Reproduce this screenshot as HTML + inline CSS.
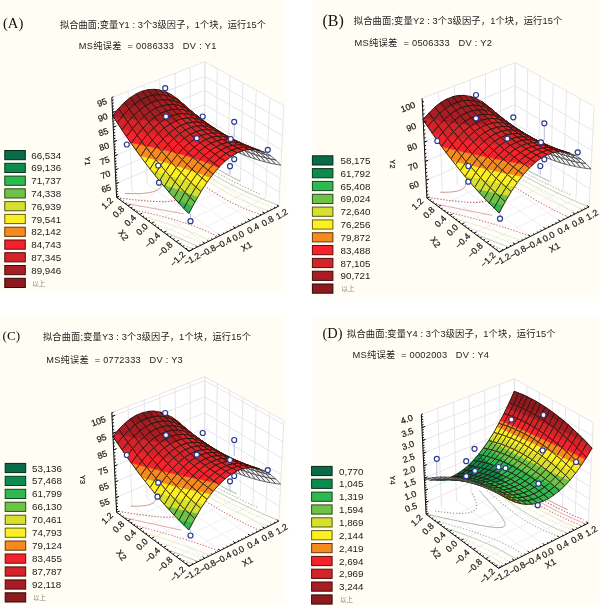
<!DOCTYPE html>
<html lang="zh"><head><meta charset="utf-8"><title>拟合曲面</title><style>
html,body{margin:0;padding:0;background:#fff}
#fig{position:relative;width:600px;height:605px;overflow:hidden;background:#fff;font-family:"Liberation Sans","Noto Sans CJK SC",sans-serif}
svg{position:absolute;left:0;top:0}
.wl{fill:#fff;stroke:none}
.gr{fill:none;stroke:#e2e2ea;stroke-width:.9}
.gf{fill:none;stroke:#ececf2;stroke-width:.8}
.ax{fill:none;stroke:#111;stroke-width:1}
.tk text{font-size:8.8px;fill:#1a1a1a;stroke:#1a1a1a;stroke-width:.22}
.sf path{stroke-linejoin:round}
.m{stroke:#24140c;stroke-width:.85}
.n{stroke-width:.8}
.o{fill:none;stroke:#24140c;stroke-width:.85}
.k{fill:#f4f4f4;stroke:#2e2e2e;stroke-width:.7}
.cs{fill:none;stroke-width:.9}
.cd{fill:none;stroke-width:1.1;stroke-dasharray:1.3 1.7}
.pt circle{fill:#fff;stroke:#2b3a8c;stroke-width:1.2}
.st{fill:none;stroke:#9aa0c8;stroke-width:.7}
.lg text{font-size:9.8px;fill:#1a1a1a}
.lg rect{stroke-width:1}
.lg .ab{font-size:6.5px;fill:#8a8a78}
.ttl{fill:#222}
.pl{font-family:"Liberation Serif","Noto Serif CJK SC",serif;fill:#111}
.c0{fill:#096b47}.n.c0{stroke:#096b47}
.c1{fill:#0d8a4d}.n.c1{stroke:#0d8a4d}
.c2{fill:#2fb850}.n.c2{stroke:#2fb850}
.c3{fill:#6ec248}.n.c3{stroke:#6ec248}
.c4{fill:#d6e02f}.n.c4{stroke:#d6e02f}
.c5{fill:#fdf022}.n.c5{stroke:#fdf022}
.c6{fill:#f58a1f}.n.c6{stroke:#f58a1f}
.c7{fill:#f5222b}.n.c7{stroke:#f5222b}
.c8{fill:#d3232b}.n.c8{stroke:#d3232b}
.c9{fill:#a81d23}.n.c9{stroke:#a81d23}
.c10{fill:#8c1a1e}.n.c10{stroke:#8c1a1e}
</style></head><body><div id="fig">
<svg width="600" height="605" viewBox="0 0 600 605">
<defs><filter id="bl" x="-5%" y="-5%" width="110%" height="110%"><feGaussianBlur stdDeviation="2.5"/></filter></defs><g fill="#fffdf4" filter="url(#bl)"><rect x="-9" y="-9" width="295" height="302"/><rect x="312" y="-9" width="297" height="306"/><rect x="-9" y="314" width="295" height="300"/><rect x="312" y="317" width="297" height="297"/></g>
<g class="lg"><rect x="4.8" y="150.5" width="20.5" height="9.2" fill="#096b47" stroke="#042a1b"/><text x="31.2" y="158.6">66,534</text><rect x="4.8" y="163.3" width="20.5" height="9.2" fill="#0d8a4d" stroke="#06371d"/><text x="31.2" y="171.4">69,136</text><rect x="4.8" y="176.1" width="20.5" height="9.2" fill="#2fb850" stroke="#12471d"/><text x="31.2" y="184.2">71,737</text><rect x="4.8" y="188.8" width="20.5" height="9.2" fill="#6ec248" stroke="#2b4d1a"/><text x="31.2" y="196.9">74,338</text><rect x="4.8" y="201.6" width="20.5" height="9.2" fill="#d6e02f" stroke="#555a13"/><text x="31.2" y="209.7">76,939</text><rect x="4.8" y="214.4" width="20.5" height="9.2" fill="#fdf022" stroke="#665f0b"/><text x="31.2" y="222.5">79,541</text><rect x="4.8" y="227.2" width="20.5" height="9.2" fill="#f58a1f" stroke="#633b0b"/><text x="31.2" y="235.3">82,142</text><rect x="4.8" y="240" width="20.5" height="9.2" fill="#f5222b" stroke="#5f0b0e"/><text x="31.2" y="248.1">84,743</text><rect x="4.8" y="252.7" width="20.5" height="9.2" fill="#d3232b" stroke="#510d0f"/><text x="31.2" y="260.8">87,345</text><rect x="4.8" y="265.5" width="20.5" height="9.2" fill="#a81d23" stroke="#400b0d"/><text x="31.2" y="273.6">89,946</text><rect x="4.8" y="278.3" width="20.5" height="9.2" fill="#8c1a1e" stroke="#310809"/><text class="ab" x="32.2" y="285.7">以上</text></g><g class="lg"><rect x="312.4" y="155.8" width="20.5" height="9.2" fill="#096b47" stroke="#042a1b"/><text x="340.5" y="163.9">58,175</text><rect x="312.4" y="168.6" width="20.5" height="9.2" fill="#0d8a4d" stroke="#06371d"/><text x="340.5" y="176.7">61,792</text><rect x="312.4" y="181.4" width="20.5" height="9.2" fill="#2fb850" stroke="#12471d"/><text x="340.5" y="189.5">65,408</text><rect x="312.4" y="194.3" width="20.5" height="9.2" fill="#6ec248" stroke="#2b4d1a"/><text x="340.5" y="202.4">69,024</text><rect x="312.4" y="207.1" width="20.5" height="9.2" fill="#d6e02f" stroke="#555a13"/><text x="340.5" y="215.2">72,640</text><rect x="312.4" y="219.9" width="20.5" height="9.2" fill="#fdf022" stroke="#665f0b"/><text x="340.5" y="228">76,256</text><rect x="312.4" y="232.7" width="20.5" height="9.2" fill="#f58a1f" stroke="#633b0b"/><text x="340.5" y="240.8">79,872</text><rect x="312.4" y="245.5" width="20.5" height="9.2" fill="#f5222b" stroke="#5f0b0e"/><text x="340.5" y="253.6">83,488</text><rect x="312.4" y="258.4" width="20.5" height="9.2" fill="#d3232b" stroke="#510d0f"/><text x="340.5" y="266.5">87,105</text><rect x="312.4" y="271.2" width="20.5" height="9.2" fill="#a81d23" stroke="#400b0d"/><text x="340.5" y="279.3">90,721</text><rect x="312.4" y="284" width="20.5" height="9.2" fill="#8c1a1e" stroke="#310809"/><text class="ab" x="341.5" y="291.4">以上</text></g><g class="lg"><rect x="5.2" y="463.4" width="20.5" height="9.2" fill="#096b47" stroke="#042a1b"/><text x="32" y="471.5">53,136</text><rect x="5.2" y="476.3" width="20.5" height="9.2" fill="#0d8a4d" stroke="#06371d"/><text x="32" y="484.4">57,468</text><rect x="5.2" y="489.3" width="20.5" height="9.2" fill="#2fb850" stroke="#12471d"/><text x="32" y="497.4">61,799</text><rect x="5.2" y="502.2" width="20.5" height="9.2" fill="#6ec248" stroke="#2b4d1a"/><text x="32" y="510.3">66,130</text><rect x="5.2" y="515.2" width="20.5" height="9.2" fill="#d6e02f" stroke="#555a13"/><text x="32" y="523.3">70,461</text><rect x="5.2" y="528.1" width="20.5" height="9.2" fill="#fdf022" stroke="#665f0b"/><text x="32" y="536.2">74,793</text><rect x="5.2" y="541" width="20.5" height="9.2" fill="#f58a1f" stroke="#633b0b"/><text x="32" y="549.1">79,124</text><rect x="5.2" y="554" width="20.5" height="9.2" fill="#f5222b" stroke="#5f0b0e"/><text x="32" y="562.1">83,455</text><rect x="5.2" y="566.9" width="20.5" height="9.2" fill="#d3232b" stroke="#510d0f"/><text x="32" y="575">87,787</text><rect x="5.2" y="579.9" width="20.5" height="9.2" fill="#a81d23" stroke="#400b0d"/><text x="32" y="588">92,118</text><rect x="5.2" y="592.8" width="20.5" height="9.2" fill="#8c1a1e" stroke="#310809"/><text class="ab" x="33" y="600.2">以上</text></g><g class="lg"><rect x="311.6" y="466.4" width="20.5" height="9.2" fill="#096b47" stroke="#042a1b"/><text x="339" y="474.5">0,770</text><rect x="311.6" y="479.2" width="20.5" height="9.2" fill="#0d8a4d" stroke="#06371d"/><text x="339" y="487.4">1,045</text><rect x="311.6" y="492.1" width="20.5" height="9.2" fill="#2fb850" stroke="#12471d"/><text x="339" y="500.2">1,319</text><rect x="311.6" y="504.9" width="20.5" height="9.2" fill="#6ec248" stroke="#2b4d1a"/><text x="339" y="513">1,594</text><rect x="311.6" y="517.8" width="20.5" height="9.2" fill="#d6e02f" stroke="#555a13"/><text x="339" y="525.9">1,869</text><rect x="311.6" y="530.6" width="20.5" height="9.2" fill="#fdf022" stroke="#665f0b"/><text x="339" y="538.8">2,144</text><rect x="311.6" y="543.5" width="20.5" height="9.2" fill="#f58a1f" stroke="#633b0b"/><text x="339" y="551.6">2,419</text><rect x="311.6" y="556.4" width="20.5" height="9.2" fill="#f5222b" stroke="#5f0b0e"/><text x="339" y="564.5">2,694</text><rect x="311.6" y="569.2" width="20.5" height="9.2" fill="#d3232b" stroke="#510d0f"/><text x="339" y="577.3">2,969</text><rect x="311.6" y="582" width="20.5" height="9.2" fill="#a81d23" stroke="#400b0d"/><text x="339" y="590.1">3,244</text><rect x="311.6" y="594.9" width="20.5" height="9.2" fill="#8c1a1e" stroke="#310809"/><text class="ab" x="340" y="602.3">以上</text></g><text class="pl" x="3" y="28" font-size="14.6">(A)</text><text class="ttl" x="60" y="28.3" font-size="9.2" textLength="206" lengthAdjust="spacing" xml:space="preserve">拟合曲面;变量Y1 : 3个3级因子，1个块，运行15个</text><text class="ttl" x="78.8" y="48.6" font-size="9.2" textLength="137.5" lengthAdjust="spacing" xml:space="preserve">MS纯误差  = 0086333   DV : Y1</text><text class="pl" x="322.5" y="26.2" font-size="16">(B)</text><text class="ttl" x="353.8" y="24.2" font-size="9.3" textLength="208.5" lengthAdjust="spacing" xml:space="preserve">拟合曲面;变量Y2 : 3个3级因子，1个块，运行15个</text><text class="ttl" x="354.5" y="46.3" font-size="9.3" textLength="137.5" lengthAdjust="spacing" xml:space="preserve">MS纯误差  = 0506333   DV : Y2</text><text class="pl" x="2.5" y="340" font-size="13.2">(C)</text><text class="ttl" x="43" y="340.3" font-size="9.2" textLength="208" lengthAdjust="spacing" xml:space="preserve">拟合曲面;变量Y3 : 3个3级因子，1个块，运行15个</text><text class="ttl" x="46.2" y="362.5" font-size="9.2" textLength="136.5" lengthAdjust="spacing" xml:space="preserve">MS纯误差  = 0772333   DV : Y3</text><text class="pl" x="322.5" y="338.3" font-size="14.4">(D)</text><text class="ttl" x="347" y="337.1" font-size="9.3" textLength="208.5" lengthAdjust="spacing" xml:space="preserve">拟合曲面;变量Y4 : 3个3级因子，1个块，运行15个</text><text class="ttl" x="352.5" y="358.3" font-size="9.3" textLength="136.5" lengthAdjust="spacing" xml:space="preserve">MS纯误差  = 0002003   DV : Y4</text><path class="wl" d="M116.6 197.3l87.9 -39.2 0.4 -96.3 -93.1 35.7z"/>
<path class="wl" d="M204.5 158.1l74.3 48 5 -100.6 -78.9 -43.7z"/>
<path class="wl" d="M116.6 197.3l72.4 53.9 89.8 -45.1 -74.3 -48z"/>
<path class="gr" d="M116.6 197.3l-4.8 -99.8M278.8 206.1l5 -100.6M132 190.4l-3.9 -99.2M265.7 197.6l4.1 -99.8M147 183.7l-2.9 -98.6M252.9 189.4l3.3 -99.1M161.8 177.1l-2.1 -98M240.4 181.3l2.5 -98.4M176.3 170.7l-1.2 -97.5M228.2 173.4l1.7 -97.7M190.5 164.3l-0.4 -96.8M216.2 165.7l1.1 -97M204.5 158.1l0.4 -96.3M204.5 158.1l0.4 -96.3M116 183.7l88.5 -38.7 75 47.4M115.3 169.9l89.3 -38.3 75.6 47M114.6 155.9l90 -37.8 76.3 46.4M113.9 141.7l90.8 -37.3 76.9 45.7M113.2 127.2l91.6 -36.8 77.5 45.1M112.5 112.5l92.3 -36.3 78.2 44.5M111.8 97.5l93.1 -35.7 78.9 43.7"/>
<path class="gf" d="M204.7 243.3l-72.7 -52.9M176.2 241.6l89.5 -44M220.1 235.5l-73.1 -51.8M163.7 232.3l89.2 -42.9M235.3 228l-73.5 -50.9M151.5 223.3l88.9 -42M250.1 220.5l-73.8 -49.8M139.6 214.4l88.6 -41M264.6 213.2l-74.1 -48.9M128 205.7l88.2 -40"/>
<path class="cd" stroke="#98a398" d="M209.2 161.2l-0.1 -0.1 -1.2 -0.7 -1.2 -0.8 -1.3 -0.7 -1.2 -0.7"/>
<path class="cs" stroke="#9bb098" d="M240.4 181.3l-1.5 -0.7 -2.8 -1.4 -2.8 -1.5 -2.8 -1.4 -1.3 -0.7 -2.7 -1.4 -2.7 -1.5 -2.7 -1.4 -2.6 -1.5 -2.5 -1.4 -2.6 -1.5 -1.2 -0.7 -2.5 -1.5 -2.5 -1.5 -2.4 -1.4 -2.4 -1.5 -1.2 -0.7"/>
<path class="cd" stroke="#a6b89e" d="M175.7 241.3l2.4 1 3.3 1.5 1.7 0.7 3.3 1.6 2.8 1.3 2.1 1 1.7 0.8"/>
<path class="cd" stroke="#a6b89e" d="M259.9 193.9l-2.4 -1 -3.1 -1.4 -2 -0.9 -2.6 -1.2 -3 -1.4 -3 -1.3 -1.5 -0.8 -2.9 -1.4 -2.9 -1.4 -2.8 -1.4 -1.4 -0.8 -2.8 -1.4 -2.7 -1.4 -2.7 -1.5 -2.6 -1.5 -1.4 -0.7 -2.6 -1.5 -2.5 -1.4 -2.6 -1.5 -2.5 -1.5 -2.4 -1.5 -2.5 -1.5 -2.4 -1.5 -2.4 -1.5 -2.3 -1.5"/>
<path class="cs" stroke="#bac698" d="M275.7 204.1l-2.8 -1.1 -3.2 -1.2 -1.9 -0.7 -3.4 -1.3 -1.6 -0.7 -3.3 -1.4 -3 -1.2 -1.8 -0.8 -3.1 -1.4 -2.8 -1.2 -1.8 -0.9 -3.1 -1.4 -2.9 -1.4 -1.5 -0.7 -2.9 -1.4 -2.9 -1.5 -2.8 -1.4 -1.8 -1 -2.3 -1.2 -2.7 -1.5 -2.7 -1.5 -2.6 -1.5 -2.6 -1.5 -2.6 -1.5 -2 -1.2 -1.7 -1 -2.5 -1.5 -2.4 -1.6 -2.4 -1.5 -2.4 -1.5 -2.3 -1.5 -2.4 -1.5 -1.1 -0.8"/>
<path class="cs" stroke="#bac698" d="M163 231.8l2.8 1.1 2.5 0.9 2.7 1.1 2.9 1.1 2.3 1 3.4 1.4 1.7 0.7 3.4 1.5 1.7 0.7 3.3 1.5 3.3 1.6 1.6 0.7 3.3 1.6"/>
<path class="cd" stroke="#dcdfa4" d="M274.8 208.1l-1.7 -0.6 -3.5 -1.3 -1.8 -0.7 -3.4 -1.3 -2.4 -0.9 -2.6 -1.1 -3.3 -1.3 -1.6 -0.7 -3.2 -1.4 -3.2 -1.4 -1.5 -0.7 -3.1 -1.4 -3 -1.4 -1.5 -0.7 -2.9 -1.5 -2.9 -1.4 -2.8 -1.5 -1.7 -0.9 -2.5 -1.3 -2.7 -1.5 -2.7 -1.5 -2.6 -1.5 -2.6 -1.5 -2.5 -1.6 -2.5 -1.5 -2.4 -1.5 -1.3 -0.8 -2.5 -1.6 -2.3 -1.5 -2.4 -1.6 -2.3 -1.5 -2.3 -1.6 -1.1 -0.8 -2.3 -1.5 -1.1 -0.8"/>
<path class="cd" stroke="#dcdfa4" d="M151.9 223.6l3.1 1 1.8 0.6 3.7 1.2 1.8 0.6 3.6 1.3 1.8 0.6 3.4 1.2 2 0.8 3.3 1.2 1.9 0.8 3.5 1.4 1.7 0.7 3.4 1.4 1.7 0.7 3.4 1.5 2.7 1.2 2.2 1 3.3 1.6 1.9 0.9 1.3 0.6"/>
<path class="cs" stroke="#eee8a4" d="M268.9 211.1l-1.8 -0.7 -3.5 -1.2 -1.7 -0.7 -3.5 -1.3 -1.7 -0.7 -3.3 -1.3 -2.7 -1.1 -2.2 -1 -3.2 -1.4 -2 -0.9 -2.6 -1.2 -3.1 -1.4 -2.9 -1.5 -1.5 -0.7 -2.9 -1.5 -2.8 -1.5 -2.7 -1.5 -2.7 -1.6 -1.4 -0.7 -2.6 -1.6 -2.6 -1.5 -2.5 -1.6 -2.5 -1.6 -2.5 -1.6 -2.4 -1.5 -2.4 -1.6 -2.3 -1.6 -2.3 -1.6 -2.3 -1.6 -2.2 -1.6 -2.2 -1.7 -2.2 -1.6 -1.1 -0.8 -2.1 -1.6"/>
<path class="cs" stroke="#eee8a4" d="M142 216.2l3.8 1 2 0.6 2.3 0.6 3.4 1 1.9 0.6 3.1 0.9 2.6 0.8 1.9 0.5 3.7 1.2 1.9 0.6 3.5 1.2 2 0.6 2.9 1.1 2.5 0.9 2.6 0.9 2.7 1 2.7 1.1 2.5 1 3.4 1.4 1.7 0.7 3.4 1.4 1.6 0.8 3.3 1.5 3.3 1.5 1.6 0.8 1.6 0.8"/>
<path class="cd" stroke="#dc7474" d="M261.3 214.9l-3.6 -1.3 -1.8 -0.6 -3.5 -1.3 -1.7 -0.7 -3.4 -1.3 -1.7 -0.7 -3.3 -1.4 -3.1 -1.4 -1.6 -0.7 -3 -1.5 -3 -1.5 -2.9 -1.5 -1.4 -0.7 -2.8 -1.6 -2.7 -1.6 -2.7 -1.5 -2.5 -1.7 -2.6 -1.6 -2.4 -1.6 -2.5 -1.6 -2.4 -1.7 -2.3 -1.7 -2.3 -1.6 -2.3 -1.7 -2.2 -1.7 -2.2 -1.6 -2.1 -1.7 -1.1 -0.8 -2.1 -1.7 -2.1 -1.7 -2.1 -1.7 -2 -1.6 -2.1 -1.7"/>
<path class="cd" stroke="#dc7474" d="M133.1 209.6l3.2 0.7 2.1 0.4 2 0.5 3.5 0.8 2.7 0.6 2 0.5 2.8 0.6 3.3 0.8 2 0.5 2.3 0.6 3.7 0.9 1.9 0.6 2.3 0.6 3.6 1 2 0.5 2.7 0.8 3 0.9 1.9 0.6 3.8 1.1 1.8 0.6 3.2 1.1 2.3 0.8 2.7 1 2.6 0.9 2.9 1.2 2.3 0.9 3.4 1.4 1.7 0.7 3.3 1.5 2.7 1.3 2.1 1 3.1 1.6"/>
<path class="cs" stroke="#e29c9c" d="M124.9 203.4l3.2 0.6 2.7 0.5 2.2 0.3 2.2 0.4 2.7 0.5 3.3 0.6 2.8 0.4 2.2 0.4 2.2 0.4 2.7 0.5 3.3 0.6 2.8 0.5 2.3 0.3 2.2 0.4 2.7 0.5 3.3 0.6 2.8 0.5 2.2 0.4 2.2 0.4 3 0.6 3.4 0.6 2.4 0.5"/>
<path class="cd" stroke="#b85c5c" d="M117.3 197.8l3 0.4 2.7 0.3 2.3 0.3 2.4 0.2 2.4 0.3 2.4 0.3 2.5 0.2 2.8 0.3 2.9 0.3 2.8 0.3 2.8 0.2 2.8 0.2 2.8 0.2 2.7 0.1 2.6 0.1 2.6 0.1 2.5 0 2.5 0 2.7 -0.1 3.8 -0.4 2.2 -0.3 3.5 -1.1 2.7 -1.6 1 -1.4 0.6 -1.6 0.1 -1.5 -0.1 -1.3 -0.5 -2 -0.6 -1.5 -0.5 -1.2 -1.2 -2.1 -0.6 -1.1 -1.2 -2 -0.8 -1.1 -1.4 -2 -0.7 -1 -1.5 -2 -0.7 -0.9 -1.6 -1.9"/>
<path class="cs" stroke="#c98e7e" d="M125.2 193.4l2.8 0.1 2.8 0.1 2.9 0.1 2.7 -0.1 2.3 0 2.4 -0.1 2.3 -0.2 3.8 -0.4 2.4 -0.3 2.8 -0.7 2.6 -0.8 2.9 -1.4 1.2 -0.8 1.9 -2.2 0.6 -1.2 0.4 -1.5 0.1 -1.6 -0.1 -1.5 -0.2 -1.2 -0.2 -1.2 -0.4 -1.1"/>
<g class="pt"></g>
<g class="sf"><path class="k" d="M203.8 127.7l5.2 8.4 -4.4 -3 -5.3 -8.7z"/>
<path class="k" d="M208.2 130.8l5.3 8.3 -4.5 -3 -5.2 -8.4z"/>
<path class="k" d="M212.8 133.8l5.2 8 -4.5 -2.7 -5.3 -8.3z"/>
<path class="k" d="M198.4 120.1l5.4 7.6 -4.5 -3.3 -5.4 -7.8z"/>
<path class="k" d="M217.3 136.7l5.2 7.8 -4.5 -2.7 -5.2 -8z"/>
<path class="k" d="M202.9 123.5l5.3 7.3 -4.4 -3.1 -5.4 -7.6z"/>
<path class="k" d="M221.9 139.4l5.2 7.6 -4.6 -2.5 -5.2 -7.8z"/>
<path class="k" d="M207.4 126.7l5.4 7.1 -4.6 -3 -5.3 -7.3z"/>
<path class="k" d="M192.9 113.4l5.5 6.7 -4.5 -3.5 -5.4 -6.9z"/>
<path class="k" d="M226.5 142l5.2 7.4 -4.6 -2.4 -5.2 -7.6z"/>
<path class="k" d="M212 129.8l5.3 6.9 -4.5 -2.9 -5.4 -7.1z"/>
<path class="k" d="M197.5 117l5.4 6.5 -4.5 -3.4 -5.5 -6.7z"/>
<path class="k" d="M231.2 144.5l5.2 7.1 -4.7 -2.2 -5.2 -7.4z"/>
<path class="k" d="M216.6 132.8l5.3 6.6 -4.6 -2.7 -5.3 -6.9z"/>
<path class="k" d="M202 120.5l5.4 6.2 -4.5 -3.2 -5.4 -6.5z"/>
<path class="k" d="M187.4 107.7l5.5 5.7 -4.4 -3.7 -5.6 -6z"/>
<path class="k" d="M221.3 135.6l5.2 6.4 -4.6 -2.6 -5.3 -6.6z"/>
<path class="k" d="M206.6 123.8l5.4 6 -4.6 -3.1 -5.4 -6.2z"/>
<path class="k" d="M236 146.8l5.1 6.9 -4.7 -2.1 -5.2 -7.1z"/>
<path class="k" d="M191.9 111.6l5.6 5.4 -4.6 -3.6 -5.5 -5.7z"/>
<path class="k" d="M211.2 127l5.4 5.8 -4.6 -3 -5.4 -6z"/>
<path class="k" d="M196.5 115.3l5.5 5.2 -4.5 -3.5 -5.6 -5.4z"/>
<path class="k" d="M226 138.2l5.2 6.3 -4.7 -2.5 -5.2 -6.4z"/>
<path class="n c6" d="M185.1 105.8l2.3 1.9 -4.5 -4 -1.8 -1.5z"/>
<path class="n c7" d="M181.8 103l3.3 2.8 -4 -3.6 -3.8 -3.4z"/>
<path class="o" d="M181.8 103l5.6 4.7 -4.5 -4 -5.6 -4.9z"/>
<path class="k" d="M240.7 149l5.2 6.7 -4.8 -2 -5.1 -6.9z"/>
<path class="k" d="M201.1 118.8l5.5 5 -4.6 -3.3 -5.5 -5.2z"/>
<path class="n c6" d="M189.1 109.3l2.8 2.3 -4.5 -3.9 -2.3 -1.9z"/>
<path class="n c7" d="M186.3 107.1l2.8 2.2 -4 -3.5 -3.3 -2.8z"/>
<path class="o" d="M186.3 107.1l5.6 4.5 -4.5 -3.9 -5.6 -4.7z"/>
<path class="k" d="M215.9 130.1l5.4 5.5 -4.7 -2.8 -5.4 -5.8z"/>
<path class="k" d="M230.7 140.8l5.3 6 -4.8 -2.3 -5.2 -6.3z"/>
<path class="k" d="M245.6 151l5.1 6.5 -4.8 -1.8 -5.2 -6.7z"/>
<path class="n c6" d="M193.3 112.8l3.2 2.5 -4.6 -3.7 -2.8 -2.3z"/>
<path class="n c7" d="M190.9 111l2.4 1.8 -4.2 -3.5 -2.8 -2.2z"/>
<path class="o" d="M190.9 111l5.6 4.3 -4.6 -3.7 -5.6 -4.5z"/>
<path class="n c7" d="M179.1 101.3l2.7 1.7 -4.5 -4.2 -1.8 -1.3z"/>
<path class="n c8" d="M176.1 99.3l3 2 -3.6 -3.8 -4 -2.7z"/>
<path class="o" d="M176.1 99.3l5.7 3.7 -4.5 -4.2 -5.8 -4z"/>
<path class="k" d="M205.7 122.3l5.5 4.7 -4.6 -3.2 -5.5 -5z"/>
<path class="k" d="M220.6 133l5.4 5.2 -4.7 -2.6 -5.4 -5.5z"/>
<path class="k" d="M235.5 143.2l5.2 5.8 -4.7 -2.2 -5.3 -6z"/>
<path class="k" d="M250.5 152.9l5.1 6.3 -4.9 -1.7 -5.1 -6.5z"/>
<path class="n c7" d="M182.7 104.9l3.6 2.2 -4.5 -4.1 -2.7 -1.7z"/>
<path class="n c8" d="M180.6 103.6l2.1 1.3 -3.6 -3.6 -3 -2z"/>
<path class="o" d="M180.6 103.6l5.7 3.5 -4.5 -4.1 -5.7 -3.7z"/>
<path class="n c6" d="M197.5 116.3l3.6 2.5 -4.6 -3.5 -3.2 -2.5z"/>
<path class="n c7" d="M195.5 114.9l2 1.4 -4.2 -3.5 -2.4 -1.8z"/>
<path class="o" d="M195.5 114.9l5.6 3.9 -4.6 -3.5 -5.6 -4.3z"/>
<path class="k" d="M210.4 125.6l5.5 4.5 -4.7 -3.1 -5.5 -4.7z"/>
<path class="k" d="M225.4 135.7l5.3 5.1 -4.7 -2.6 -5.4 -5.2z"/>
<path class="k" d="M240.3 145.4l5.3 5.6 -4.9 -2 -5.2 -5.8z"/>
<path class="n c8" d="M171.6 97.2l4.5 2.1 -4.6 -4.5 -2.9 -1.5z"/>
<path class="n c9" d="M170.3 96.6l1.3 0.6 -3 -3.9 -2.8 -1.4z"/>
<path class="o" d="M170.3 96.6l5.8 2.7 -4.6 -4.5 -5.7 -2.9z"/>
<path class="n c7" d="M186.5 108.6l4.4 2.4 -4.6 -3.9 -3.6 -2.2z"/>
<path class="n c8" d="M185.2 107.8l1.3 0.8 -3.8 -3.7 -2.1 -1.3z"/>
<path class="o" d="M185.2 107.8l5.7 3.2 -4.6 -3.9 -5.7 -3.5z"/>
<path class="n c6" d="M201.9 119.7l3.8 2.6 -4.6 -3.5 -3.6 -2.5z"/>
<path class="n c7" d="M200.2 118.5l1.7 1.2 -4.4 -3.4 -2 -1.4z"/>
<path class="o" d="M200.2 118.5l5.5 3.8 -4.6 -3.5 -5.6 -3.9z"/>
<path class="k" d="M255.4 154.6l5.1 6.1 -4.9 -1.5 -5.1 -6.3z"/>
<path class="k" d="M215.1 128.7l5.5 4.3 -4.7 -2.9 -5.5 -4.5z"/>
<path class="k" d="M230.2 138.4l5.3 4.8 -4.8 -2.4 -5.3 -5.1z"/>
<path class="n c8" d="M174.9 101.2l5.7 2.4 -4.5 -4.3 -4.5 -2.1 2.4 3.2z"/>
<path class="n c9" d="M171.6 97.2l-1.3 -0.6 3.7 3.8z"/>
<path class="o" d="M174.9 101.2l5.7 2.4 -4.5 -4.3 -5.8 -2.7z"/>
<path class="n c7" d="M190.3 112.1l5.2 2.8 -4.6 -3.9 -4.4 -2.4z"/>
<path class="n c8" d="M189.9 111.9l0.4 0.2 -3.8 -3.5 -1.3 -0.8z"/>
<path class="o" d="M189.9 111.9l5.6 3 -4.6 -3.9 -5.7 -3.2z"/>
<path class="k" d="M245.2 147.5l5.3 5.4 -4.9 -1.9 -5.3 -5.6z"/>
<path class="n c6" d="M206.4 123l4 2.6 -4.7 -3.3 -3.8 -2.6z"/>
<path class="n c7" d="M204.9 122.1l1.5 0.9 -4.5 -3.3 -1.7 -1.2z"/>
<path class="o" d="M204.9 122.1l5.5 3.5 -4.7 -3.3 -5.5 -3.8z"/>
<path class="m c9" d="M164.5 95.1l5.8 1.5 -4.5 -4.7 -5.9 -1.9z"/>
<path class="k" d="M219.9 131.7l5.5 4 -4.8 -2.7 -5.5 -4.3z"/>
<path class="k" d="M260.4 156.2l5.1 5.8 -5 -1.3 -5.1 -6.1z"/>
<path class="m c8" d="M179.5 105.7l5.7 2.1 -4.6 -4.2 -5.7 -2.4z"/>
<path class="n c7" d="M194.5 115.8l5.7 2.7 -4.7 -3.6 -5.2 -2.8 2.2 2.1z"/>
<path class="n c8" d="M190.3 112.1l-0.4 -0.2 2.6 2.3z"/>
<path class="o" d="M194.5 115.8l5.7 2.7 -4.7 -3.6 -5.6 -3z"/>
<path class="k" d="M235 140.8l5.3 4.6 -4.8 -2.2 -5.3 -4.8z"/>
<path class="n c6" d="M211 126.3l4.1 2.4 -4.7 -3.1 -4 -2.6z"/>
<path class="n c7" d="M209.6 125.4l1.4 0.9 -4.6 -3.3 -1.5 -0.9z"/>
<path class="o" d="M209.6 125.4l5.5 3.3 -4.7 -3.1 -5.5 -3.5z"/>
<path class="n c8" d="M174.5 101.2l0.4 0 -0.9 -0.8z"/>
<path class="n c9" d="M169.1 99.9l5.4 1.3 -0.5 -0.8 -3.7 -3.8 -5.8 -1.5z"/>
<path class="o" d="M169.1 99.9l5.8 1.3 -4.6 -4.6 -5.8 -1.5z"/>
<path class="k" d="M250.2 149.5l5.2 5.1 -4.9 -1.7 -5.3 -5.4z"/>
<path class="m c8" d="M184.1 110l5.8 1.9 -4.7 -4.1 -5.7 -2.1z"/>
<path class="k" d="M224.7 134.6l5.5 3.8 -4.8 -2.7 -5.5 -4z"/>
<path class="m c7" d="M199.2 119.6l5.7 2.5 -4.7 -3.6 -5.7 -2.7z"/>
<path class="n c9" d="M160.1 94.7l4.4 0.4 -4.6 -5.1 -0.6 0z"/>
<path class="n c10" d="M158.6 94.6l1.5 0.1 -0.8 -4.7 -5.2 -0.7z"/>
<path class="o" d="M158.6 94.6l5.9 0.5 -4.6 -5.1 -5.8 -0.7z"/>
<path class="k" d="M265.5 157.6l5 5.7 -5 -1.3 -5.1 -5.8z"/>
<path class="k" d="M239.9 143.2l5.3 4.3 -4.9 -2.1 -5.3 -4.6z"/>
<path class="n c8" d="M176.9 105.2l2.6 0.5 -4.6 -4.5 -0.4 0z"/>
<path class="n c9" d="M173.7 104.6l3.2 0.6 -2.4 -4 -5.4 -1.3z"/>
<path class="o" d="M173.7 104.6l5.8 1.1 -4.6 -4.5 -5.8 -1.3z"/>
<path class="n c6" d="M215.9 129.5l4 2.2 -4.8 -3 -4.1 -2.4z"/>
<path class="n c7" d="M214.4 128.7l1.5 0.8 -4.9 -3.2 -1.4 -0.9z"/>
<path class="o" d="M214.4 128.7l5.5 3 -4.8 -3 -5.5 -3.3z"/>
<path class="n c7" d="M194.1 115.7l0.4 0.1 -2 -1.6z"/>
<path class="n c8" d="M188.8 114.2l5.3 1.5 -1.6 -1.5 -2.6 -2.3 -5.8 -1.9z"/>
<path class="o" d="M188.8 114.2l5.7 1.6 -4.6 -3.9 -5.8 -1.9z"/>
<path class="k" d="M255.2 151.3l5.2 4.9 -5 -1.6 -5.2 -5.1z"/>
<path class="n c9" d="M163.2 99.7l5.9 0.2 -4.6 -4.8 -4.4 -0.4 0.2 1.7z"/>
<path class="n c10" d="M160.1 94.7l-1.5 -0.1 1.7 1.8z"/>
<path class="o" d="M163.2 99.7l5.9 0.2 -4.6 -4.8 -5.9 -0.5z"/>
<path class="k" d="M229.6 137.3l5.4 3.5 -4.8 -2.4 -5.5 -3.8z"/>
<path class="m c7" d="M203.9 123.3l5.7 2.1 -4.7 -3.3 -5.7 -2.5z"/>
<path class="n c8" d="M179.2 109.4l4.9 0.6 -4.6 -4.3 -2.6 -0.5z"/>
<path class="n c9" d="M178.3 109.2l0.9 0.2 -2.3 -4.2 -3.2 -0.6z"/>
<path class="o" d="M178.3 109.2l5.8 0.8 -4.6 -4.3 -5.8 -1.1z"/>
<path class="m c10" d="M152.7 95.2l5.9 -0.6 -4.5 -5.3 -5.9 0.3z"/>
<path class="k" d="M270.6 158.9l5.1 5.4 -5.2 -1 -5 -5.7z"/>
<path class="k" d="M244.9 145.3l5.3 4.2 -5 -2 -5.3 -4.3z"/>
<path class="n c6" d="M220.9 132.6l3.8 2 -4.8 -2.9 -4 -2.2z"/>
<path class="n c7" d="M219.2 131.8l1.7 0.8 -5 -3.1 -1.5 -0.8z"/>
<path class="o" d="M219.2 131.8l5.5 2.8 -4.8 -2.9 -5.5 -3z"/>
<path class="n c7" d="M197.8 119.3l1.4 0.3 -4.7 -3.8 -0.4 -0.1z"/>
<path class="n c8" d="M193.5 118.2l4.3 1.1 -3.7 -3.6 -5.3 -1.5z"/>
<path class="o" d="M193.5 118.2l5.7 1.4 -4.7 -3.8 -5.7 -1.6z"/>
<path class="m c9" d="M167.9 104.7l5.8 -0.1 -4.6 -4.7 -5.9 -0.2z"/>
<path class="n c9" d="M158.1 100.5l5.1 -0.8 -2.9 -3.3z"/>
<path class="n c10" d="M157.3 100.6l0.8 -0.1 2.2 -4.1 -1.7 -1.8 -5.9 0.6z"/>
<path class="o" d="M157.3 100.6l5.9 -0.9 -4.6 -5.1 -5.9 0.6z"/>
<path class="n c8" d="M183 113.7l5.8 0.5 -4.7 -4.2 -4.9 -0.6 0.9 1.5z"/>
<path class="n c9" d="M179.2 109.4l-0.9 -0.2 1.8 1.7z"/>
<path class="o" d="M183 113.7l5.8 0.5 -4.7 -4.2 -5.8 -0.8z"/>
<path class="m c7" d="M208.7 126.8l5.7 1.9 -4.8 -3.3 -5.7 -2.1z"/>
<path class="k" d="M234.5 139.8l5.4 3.4 -4.9 -2.4 -5.4 -3.5z"/>
<path class="k" d="M260.3 152.9l5.2 4.7 -5.1 -1.4 -5.2 -4.9z"/>
<path class="m c10" d="M146.8 96.9l5.9 -1.7 -4.5 -5.6 -6 1.5z"/>
<path class="m c9" d="M172.5 109.5l5.8 -0.3 -4.6 -4.6 -5.8 0.1z"/>
<path class="n c7" d="M201.7 122.8l2.2 0.5 -4.7 -3.7 -1.4 -0.3z"/>
<path class="n c8" d="M198.2 122.1l3.5 0.7 -3.9 -3.5 -4.3 -1.1z"/>
<path class="o" d="M198.2 122.1l5.7 1.2 -4.7 -3.7 -5.7 -1.4z"/>
<path class="n c6" d="M226.1 135.7l3.5 1.6 -4.9 -2.7 -3.8 -2z"/>
<path class="n c7" d="M224 134.7l2.1 1 -5.2 -3.1 -1.7 -0.8z"/>
<path class="o" d="M224 134.7l5.6 2.6 -4.9 -2.7 -5.5 -2.8z"/>
<path class="k" d="M249.9 147.4l5.3 3.9 -5 -1.8 -5.3 -4.2z"/>
<path class="n c9" d="M162 105.9l5.9 -1.2 -4.7 -5 -5.1 0.8 -0.4 0.5z"/>
<path class="n c10" d="M158.1 100.5l-0.8 0.1 0.4 0.4z"/>
<path class="o" d="M162 105.9l5.9 -1.2 -4.7 -5 -5.9 0.9z"/>
<path class="k" d="M275.8 160l5 5.2 -5.1 -0.9 -5.1 -5.4z"/>
<path class="m c8" d="M187.7 118l5.8 0.2 -4.7 -4 -5.8 -0.5z"/>
<path class="m c10" d="M151.4 102.6l5.9 -2 -4.6 -5.4 -5.9 1.7z"/>
<path class="m c7" d="M213.5 130.1l5.7 1.7 -4.8 -3.1 -5.7 -1.9z"/>
<path class="k" d="M239.4 142.2l5.5 3.1 -5 -2.1 -5.4 -3.4z"/>
<path class="m c10" d="M140.9 99.8l5.9 -2.9 -4.6 -5.8 -5.9 2.6z"/>
<path class="n c8" d="M180.2 113.9l2.8 -0.2 -2.9 -2.8z"/>
<path class="n c9" d="M177.2 114.2l3 -0.3 -0.1 -3 -1.8 -1.7 -5.8 0.3z"/>
<path class="o" d="M177.2 114.2l5.8 -0.5 -4.7 -4.5 -5.8 0.3z"/>
<path class="k" d="M265.4 154.4l5.2 4.5 -5.1 -1.3 -5.2 -4.7z"/>
<path class="n c7" d="M205.7 126.3l3 0.5 -4.8 -3.5 -2.2 -0.5z"/>
<path class="n c8" d="M203 125.9l2.7 0.4 -4 -3.5 -3.5 -0.7z"/>
<path class="o" d="M203 125.9l5.7 0.9 -4.8 -3.5 -5.7 -1.2z"/>
<path class="m c9" d="M166.6 111l5.9 -1.5 -4.6 -4.8 -5.9 1.2z"/>
<path class="n c6" d="M231.6 138.7l2.9 1.1 -4.9 -2.5 -3.5 -1.6z"/>
<path class="n c7" d="M228.9 137.6l2.7 1.1 -5.5 -3 -2.1 -1z"/>
<path class="o" d="M228.9 137.6l5.6 2.2 -4.9 -2.5 -5.6 -2.6z"/>
<path class="n c9" d="M156.1 108.1l5.9 -2.2 -4.3 -4.9 -5.3 2.8z"/>
<path class="n c10" d="M157.7 101l-0.4 -0.4 -5.9 2 1 1.2z"/>
<path class="o" d="M156.1 108.1l5.9 -2.2 -4.7 -5.3 -5.9 2z"/>
<path class="m c8" d="M192.5 122.1l5.7 0 -4.7 -3.9 -5.8 -0.2z"/>
<path class="n c9" d="M145.5 105.8l2.2 -1.2 -2.7 0.5z"/>
<path class="n c10" d="M147.7 104.6l3.7 -2 -4.6 -5.7 -5.9 2.9 4.1 5.3z"/>
<path class="o" d="M145.5 105.8l5.9 -3.2 -4.6 -5.7 -5.9 2.9z"/>
<path class="k" d="M254.9 149.2l5.4 3.7 -5.1 -1.6 -5.3 -3.9z"/>
<path class="m c10" d="M135 103.9l5.9 -4.1 -4.6 -6.1 -5.9 3.8z"/>
<path class="n c8" d="M181.9 118.8l5.8 -0.8 -4.7 -4.3 -2.8 0.2 -0.2 3.1z"/>
<path class="n c9" d="M180.2 113.9l-3 0.3 2.8 2.8z"/>
<path class="o" d="M181.9 118.8l5.8 -0.8 -4.7 -4.3 -5.8 0.5z"/>
<path class="m c7" d="M218.4 133.3l5.6 1.4 -4.8 -2.9 -5.7 -1.7z"/>
<path class="m c9" d="M171.3 115.9l5.9 -1.7 -4.7 -4.7 -5.9 1.5z"/>
<path class="k" d="M244.4 144.5l5.5 2.9 -5 -2.1 -5.5 -3.1z"/>
<path class="n c7" d="M209.8 129.7l3.7 0.4 -4.8 -3.3 -3 -0.5z"/>
<path class="n c8" d="M207.8 129.5l2 0.2 -4.1 -3.4 -2.7 -0.4z"/>
<path class="o" d="M207.8 129.5l5.7 0.6 -4.8 -3.3 -5.7 -0.9z"/>
<path class="m c9" d="M160.7 113.5l5.9 -2.5 -4.6 -5.1 -5.9 2.2z"/>
<path class="n c9" d="M150.1 111.6l6 -3.5 -3.7 -4.3 -4.7 0.8 -2.2 1.2z"/>
<path class="n c10" d="M152.4 103.8l-1 -1.2 -3.7 2z"/>
<path class="o" d="M150.1 111.6l6 -3.5 -4.7 -5.5 -5.9 3.2z"/>
<path class="n c9" d="M129 109l4 -3.4 -6.4 0z"/>
<path class="n c10" d="M133 105.6l2 -1.7 -4.6 -6.4 -6 4.9 2.2 3.2z"/>
<path class="o" d="M129 109l6 -5.1 -4.6 -6.4 -6 4.9z"/>
<path class="n c9" d="M139.6 110.1l5.9 -4.3 -0.5 -0.7 -8.7 0.6z"/>
<path class="n c10" d="M145 105.1l-4.1 -5.3 -5.9 4.1 1.3 1.8z"/>
<path class="o" d="M139.6 110.1l5.9 -4.3 -4.6 -6 -5.9 4.1z"/>
<path class="k" d="M270.6 155.7l5.2 4.3 -5.2 -1.1 -5.2 -4.5z"/>
<path class="m c8" d="M197.2 126.1l5.8 -0.2 -4.8 -3.8 -5.7 0z"/>
<path class="n c6" d="M237.4 141.5l2 0.7 -4.9 -2.4 -2.9 -1.1z"/>
<path class="n c7" d="M233.9 140.2l3.5 1.3 -5.8 -2.8 -2.7 -1.1z"/>
<path class="o" d="M233.9 140.2l5.5 2 -4.9 -2.4 -5.6 -2.2z"/>
<path class="m c8" d="M186.6 123.2l5.9 -1.1 -4.8 -4.1 -5.8 0.8z"/>
<path class="n c9" d="M123.1 115.4l5.9 -6.4 -2.4 -3.4 -4.9 -0.3 -3.2 3.2z"/>
<path class="n c10" d="M126.6 105.6l-2.2 -3.2 -2.7 2.9z"/>
<path class="o" d="M123.1 115.4l5.9 -6.4 -4.6 -6.6 -5.9 6.1z"/>
<path class="n c8" d="M176 120.8l5.9 -2 -1.9 -1.8 -4.8 3z"/>
<path class="n c9" d="M180 117l-2.8 -2.8 -5.9 1.7 3.9 4.1z"/>
<path class="o" d="M176 120.8l5.9 -2 -4.7 -4.6 -5.9 1.7z"/>
<path class="n c9" d="M133.7 115.5l5.9 -5.4 -3.3 -4.4 -3.3 -0.1 -4 3.4z"/>
<path class="n c10" d="M136.3 105.7l-1.3 -1.8 -2 1.7z"/>
<path class="o" d="M133.7 115.5l5.9 -5.4 -4.6 -6.2 -6 5.1z"/>
<path class="m c7" d="M223.3 136.4l5.6 1.2 -4.9 -2.9 -5.6 -1.4z"/>
<path class="k" d="M260.1 151l5.3 3.4 -5.1 -1.5 -5.4 -3.7z"/>
<path class="m c9" d="M165.4 118.8l5.9 -2.9 -4.7 -4.9 -5.9 2.5z"/>
<path class="m c9" d="M144.2 116.2l5.9 -4.6 -4.6 -5.8 -5.9 4.3z"/>
<path class="m c9" d="M154.8 117.2l5.9 -3.7 -4.6 -5.4 -6 3.5z"/>
<path class="n c8" d="M117.3 122.8l4.1 -5.2 -8 -0.8z"/>
<path class="n c9" d="M121.4 117.6l1.7 -2.2 -4.6 -6.9 -5.8 7.1 0.7 1.2z"/>
<path class="o" d="M117.3 122.8l5.8 -7.4 -4.6 -6.9 -5.8 7.1z"/>
<path class="n c7" d="M214.1 133.1l4.3 0.2 -4.9 -3.2 -3.7 -0.4z"/>
<path class="n c8" d="M212.7 133l1.4 0.1 -4.3 -3.4 -2 -0.2z"/>
<path class="o" d="M212.7 133l5.7 0.3 -4.9 -3.2 -5.7 -0.6z"/>
<path class="n c8" d="M127.8 122.1l3.1 -3.4 -5.8 -0.6z"/>
<path class="n c9" d="M130.9 118.7l2.8 -3.2 -4.7 -6.5 -5.9 6.4 2 2.7z"/>
<path class="o" d="M127.8 122.1l5.9 -6.6 -4.7 -6.5 -5.9 6.4z"/>
<path class="k" d="M249.5 146.6l5.4 2.6 -5 -1.8 -5.5 -2.9z"/>
<path class="m c8" d="M202 130l5.8 -0.5 -4.8 -3.6 -5.8 0.2z"/>
<path class="n c8" d="M138.3 121.9l2.3 -2.3 -4.1 -0.2z"/>
<path class="n c9" d="M140.6 119.6l3.6 -3.4 -4.6 -6.1 -5.9 5.4 2.8 3.9z"/>
<path class="o" d="M138.3 121.9l5.9 -5.7 -4.6 -6.1 -5.9 5.4z"/>
<path class="n c7" d="M121.9 129.8l0.2 -0.3 -0.4 0z"/>
<path class="n c8" d="M122.1 129.5l5.7 -7.4 -2.7 -4 -3.7 -0.5 -4.1 5.2 4.4 6.7z"/>
<path class="n c9" d="M125.1 118.1l-2 -2.7 -1.7 2.2z"/>
<path class="o" d="M121.9 129.8l5.9 -7.7 -4.7 -6.7 -5.8 7.4z"/>
<path class="m c8" d="M191.4 127.5l5.8 -1.4 -4.7 -4 -5.9 1.1z"/>
<path class="n c8" d="M148.9 122.1l2 -1.6 -3.4 -0.1z"/>
<path class="n c9" d="M150.9 120.5l3.9 -3.3 -4.7 -5.6 -5.9 4.6 3.3 4.2z"/>
<path class="o" d="M148.9 122.1l5.9 -4.9 -4.7 -5.6 -5.9 4.6z"/>
<path class="n c6" d="M243.6 144.2l0.8 0.3 -5 -2.3 -2 -0.7z"/>
<path class="n c7" d="M238.9 142.7l4.7 1.5 -6.2 -2.7 -3.5 -1.3z"/>
<path class="o" d="M238.9 142.7l5.5 1.8 -5 -2.3 -5.5 -2z"/>
<path class="m c8" d="M180.8 125.5l5.8 -2.3 -4.7 -4.4 -5.9 2z"/>
<path class="n c8" d="M159.5 122.8l2.7 -1.9 -4.2 0.1z"/>
<path class="n c9" d="M162.2 120.9l3.2 -2.1 -4.7 -5.3 -5.9 3.7 3.2 3.8z"/>
<path class="o" d="M159.5 122.8l5.9 -4 -4.7 -5.3 -5.9 3.7z"/>
<path class="n c8" d="M170.1 123.9l5.9 -3.1 -0.8 -0.8 -7.7 1z"/>
<path class="n c9" d="M175.2 120l-3.9 -4.1 -5.9 2.9 2.1 2.2z"/>
<path class="o" d="M170.1 123.9l5.9 -3.1 -4.7 -4.9 -5.9 2.9z"/>
<path class="n c8" d="M132.4 128.7l5.9 -6.8 -1.8 -2.5 -5.6 -0.7 -3.1 3.4z"/>
<path class="n c9" d="M136.5 119.4l-2.8 -3.9 -2.8 3.2z"/>
<path class="o" d="M132.4 128.7l5.9 -6.8 -4.6 -6.4 -5.9 6.6z"/>
<path class="m c7" d="M228.2 139.3l5.7 0.9 -5 -2.6 -5.6 -1.2z"/>
<path class="n c7" d="M126.5 136.7l4.3 -5.8 -8.7 -1.4 -0.2 0.3z"/>
<path class="n c8" d="M130.8 130.9l1.6 -2.2 -4.6 -6.6 -5.7 7.4z"/>
<path class="o" d="M126.5 136.7l5.9 -8 -4.6 -6.6 -5.9 7.7z"/>
<path class="n c8" d="M143 128.1l5.9 -6 -1.4 -1.7 -6.9 -0.8 -2.3 2.3z"/>
<path class="n c9" d="M147.5 120.4l-3.3 -4.2 -3.6 3.4z"/>
<path class="o" d="M143 128.1l5.9 -6 -4.7 -5.9 -5.9 5.7z"/>
<path class="k" d="M265.2 152.5l5.4 3.2 -5.2 -1.3 -5.3 -3.4z"/>
<path class="n c7" d="M218.6 136.3l4.7 0.1 -4.9 -3.1 -4.3 -0.2z"/>
<path class="n c8" d="M217.6 136.3l1 0 -4.5 -3.2 -1.4 -0.1z"/>
<path class="o" d="M217.6 136.3l5.7 0.1 -4.9 -3.1 -5.7 -0.3z"/>
<path class="n c8" d="M153.6 127.9l5.9 -5.1 -1.5 -1.8 -7.1 -0.5 -2 1.6z"/>
<path class="n c9" d="M158 121l-3.2 -3.8 -3.9 3.3z"/>
<path class="o" d="M153.6 127.9l5.9 -5.1 -4.7 -5.6 -5.9 4.9z"/>
<path class="m c8" d="M206.9 133.7l5.8 -0.7 -4.9 -3.5 -5.8 0.5z"/>
<path class="n c8" d="M164.2 128.1l5.9 -4.2 -2.6 -2.9 -5.3 -0.1 -2.7 1.9z"/>
<path class="n c9" d="M167.5 121l-2.1 -2.2 -3.2 2.1z"/>
<path class="o" d="M164.2 128.1l5.9 -4.2 -4.7 -5.1 -5.9 4z"/>
<path class="n c7" d="M137.1 135.2l2.4 -2.9 -5.1 -0.8z"/>
<path class="n c8" d="M139.5 132.3l3.5 -4.2 -4.7 -6.2 -5.9 6.8 2 2.8z"/>
<path class="o" d="M137.1 135.2l5.9 -7.1 -4.7 -6.2 -5.9 6.8z"/>
<path class="m c8" d="M196.2 131.7l5.8 -1.7 -4.8 -3.9 -5.8 1.4z"/>
<path class="m c8" d="M174.9 128.8l5.9 -3.3 -4.8 -4.7 -5.9 3.1z"/>
<path class="m c8" d="M185.5 130l5.9 -2.5 -4.8 -4.3 -5.8 2.3z"/>
<path class="k" d="M254.6 148.6l5.5 2.4 -5.2 -1.8 -5.4 -2.6z"/>
<path class="n c6" d="M131.2 143.4l0.6 -0.7 -1.3 -0.3z"/>
<path class="n c7" d="M131.8 142.7l5.3 -7.5 -2.7 -3.7 -3.6 -0.6 -4.3 5.8 4 5.7z"/>
<path class="n c8" d="M134.4 131.5l-2 -2.8 -1.6 2.2z"/>
<path class="o" d="M131.2 143.4l5.9 -8.2 -4.7 -6.5 -5.9 8z"/>
<path class="n c7" d="M147.6 134.1l0.4 -0.3 -0.7 -0.1z"/>
<path class="n c8" d="M148 133.8l5.6 -5.9 -4.7 -5.8 -5.9 6 4.3 5.6z"/>
<path class="o" d="M147.6 134.1l6 -6.2 -4.7 -5.8 -5.9 6z"/>
<path class="n c6" d="M247.4 145.7l-3 -1.2 -0.8 -0.3z"/>
<path class="n c7" d="M243.9 145.1l5.6 1.5 -2.1 -0.9 -3.8 -1.5 -4.7 -1.5z"/>
<path class="o" d="M243.9 145.1l5.6 1.5 -5.1 -2.1 -5.5 -1.8z"/>
<path class="m c8" d="M158.3 133.5l5.9 -5.4 -4.7 -5.3 -5.9 5.1z"/>
<path class="m c7" d="M233.2 142.1l5.7 0.6 -5 -2.5 -5.7 -0.9z"/>
<path class="n c7" d="M141.7 141.5l5.9 -7.4 -0.3 -0.4 -7.8 -1.4 -2.4 2.9z"/>
<path class="n c8" d="M147.3 133.7l-4.3 -5.6 -3.5 4.2z"/>
<path class="o" d="M141.7 141.5l5.9 -7.4 -4.6 -6 -5.9 7.1z"/>
<path class="m c8" d="M168.9 133.4l6 -4.6 -4.8 -4.9 -5.9 4.2z"/>
<path class="n c7" d="M223.4 139.4l4.8 -0.1 -4.9 -2.9 -4.7 -0.1z"/>
<path class="n c8" d="M222.5 139.5l0.9 -0.1 -4.8 -3.1 -1 0z"/>
<path class="o" d="M222.5 139.5l5.7 -0.2 -4.9 -2.9 -5.7 -0.1z"/>
<path class="n c6" d="M135.9 150l4 -5.7 -8.1 -1.6 -0.6 0.7z"/>
<path class="n c7" d="M139.9 144.3l1.8 -2.8 -4.6 -6.3 -5.3 7.5z"/>
<path class="o" d="M135.9 150l5.8 -8.5 -4.6 -6.3 -5.9 8.2z"/>
<path class="m c8" d="M179.6 133.7l5.9 -3.7 -4.7 -4.5 -5.9 3.3z"/>
<path class="m c8" d="M211.8 137.3l5.8 -1 -4.9 -3.3 -5.8 0.7z"/>
<path class="m c8" d="M190.3 134.4l5.9 -2.7 -4.8 -4.2 -5.9 2.5z"/>
<path class="m c8" d="M201.1 135.6l5.8 -1.9 -4.9 -3.7 -5.8 1.7z"/>
<path class="n c7" d="M152.3 140.1l4.5 -4.9 -8.8 -1.4 -0.4 0.3z"/>
<path class="n c8" d="M156.8 135.2l1.5 -1.7 -4.7 -5.6 -5.6 5.9z"/>
<path class="o" d="M152.3 140.1l6 -6.6 -4.7 -5.6 -6 6.2z"/>
<path class="n c6" d="M146.4 147.7l1.4 -1.7 -3.1 -0.6z"/>
<path class="n c7" d="M147.8 146l4.5 -5.9 -4.7 -6 -5.9 7.4 3 3.9z"/>
<path class="o" d="M146.4 147.7l5.9 -7.6 -4.7 -6 -5.9 7.4z"/>
<path class="n c7" d="M163 139l2.5 -2.3 -5.2 -0.8z"/>
<path class="n c8" d="M165.5 136.7l3.4 -3.3 -4.7 -5.3 -5.9 5.4 2 2.4z"/>
<path class="o" d="M163 139l5.9 -5.6 -4.7 -5.3 -5.9 5.4z"/>
<path class="k" d="M259.8 150.4l5.4 2.1 -5.1 -1.5 -5.5 -2.4z"/>
<path class="n c5" d="M140.6 156.5l0.3 -0.5 -0.9 -0.2z"/>
<path class="n c6" d="M140.9 156l5.5 -8.3 -1.7 -2.3 -4.8 -1.1 -4 5.7 4.1 5.8z"/>
<path class="n c7" d="M144.7 145.4l-3 -3.9 -1.8 2.8z"/>
<path class="o" d="M140.6 156.5l5.8 -8.8 -4.7 -6.2 -5.8 8.5z"/>
<path class="n c7" d="M173.7 138.5l0.2 -0.2 -0.4 -0.1z"/>
<path class="n c8" d="M173.9 138.3l5.7 -4.6 -4.7 -4.9 -6 4.6 4.6 4.8z"/>
<path class="o" d="M173.7 138.5l5.9 -4.8 -4.7 -4.9 -6 4.6z"/>
<path class="m c7" d="M249.1 147.3l5.5 1.3 -5.1 -2 -5.6 -1.5z"/>
<path class="n c7" d="M157.1 145.8l5.9 -6.8 -2.7 -3.1 -3.5 -0.7 -4.5 4.9z"/>
<path class="n c8" d="M160.3 135.9l-2 -2.4 -1.5 1.7z"/>
<path class="o" d="M157.1 145.8l5.9 -6.8 -4.7 -5.5 -6 6.6z"/>
<path class="m c8" d="M184.4 138.3l5.9 -3.9 -4.8 -4.4 -5.9 3.7z"/>
<path class="m c7" d="M238.3 144.7l5.6 0.4 -5 -2.4 -5.7 -0.6z"/>
<path class="m c8" d="M195.2 138.7l5.9 -3.1 -4.9 -3.9 -5.9 2.7z"/>
<path class="n c7" d="M228.7 142.4l4.5 -0.3 -5 -2.8 -4.8 0.1z"/>
<path class="n c8" d="M227.5 142.5l1.2 -0.1 -5.3 -3 -0.9 0.1z"/>
<path class="o" d="M227.5 142.5l5.7 -0.4 -5 -2.8 -5.7 0.2z"/>
<path class="m c8" d="M206 139.5l5.8 -2.2 -4.9 -3.6 -5.8 1.9z"/>
<path class="m c8" d="M216.7 140.8l5.8 -1.3 -4.9 -3.2 -5.8 1z"/>
<path class="n c6" d="M151.2 153.8l4.5 -6.1 -7.9 -1.7 -1.4 1.7z"/>
<path class="n c7" d="M155.7 147.7l1.4 -1.9 -4.8 -5.7 -4.5 5.9z"/>
<path class="o" d="M151.2 153.8l5.9 -8 -4.8 -5.7 -5.9 7.6z"/>
<path class="n c5" d="M145.3 162.8l3.3 -5 -7.7 -1.8 -0.3 0.5z"/>
<path class="n c6" d="M148.6 157.8l2.6 -4 -4.8 -6.1 -5.5 8.3z"/>
<path class="o" d="M145.3 162.8l5.9 -9 -4.8 -6.1 -5.8 8.8z"/>
<path class="n c7" d="M167.8 144.4l5.9 -5.9 -0.2 -0.3 -8 -1.5 -2.5 2.3z"/>
<path class="n c8" d="M173.5 138.2l-4.6 -4.8 -3.4 3.3z"/>
<path class="o" d="M167.8 144.4l5.9 -5.9 -4.8 -5.1 -5.9 5.6z"/>
<path class="n c7" d="M178.5 143.4l4.2 -3.6 -8.8 -1.5 -0.2 0.2z"/>
<path class="n c8" d="M182.7 139.8l1.7 -1.5 -4.8 -4.6 -5.7 4.6z"/>
<path class="o" d="M178.5 143.4l5.9 -5.1 -4.8 -4.6 -5.9 4.8z"/>
<path class="n c6" d="M161.8 151.5l1.6 -1.9 -3.9 -0.9z"/>
<path class="n c7" d="M163.4 149.6l4.4 -5.2 -4.8 -5.4 -5.9 6.8 2.4 2.9z"/>
<path class="o" d="M161.8 151.5l6 -7.1 -4.8 -5.4 -5.9 6.8z"/>
<path class="n c7" d="M189.3 142.9l2 -1.5 -4.3 -0.6z"/>
<path class="n c8" d="M191.3 141.4l3.9 -2.7 -4.9 -4.3 -5.9 3.9 2.6 2.5z"/>
<path class="o" d="M189.3 142.9l5.9 -4.2 -4.9 -4.3 -5.9 3.9z"/>
<path class="n c6" d="M155.9 159.7l5.9 -8.2 -2.3 -2.8 -3.8 -1 -4.5 6.1z"/>
<path class="n c7" d="M159.5 148.7l-2.4 -2.9 -1.4 1.9z"/>
<path class="o" d="M155.9 159.7l5.9 -8.2 -4.7 -5.7 -5.9 8z"/>
<path class="n c5" d="M150 169l5.9 -9.3 -7.3 -1.9 -3.3 5z"/>
<path class="n c6" d="M155.9 159.7l0 0 -4.7 -5.9 -2.6 4z"/>
<path class="o" d="M150 169l5.9 -9.3 -4.7 -5.9 -5.9 9z"/>
<path class="m c7" d="M254.2 149.4l5.6 1 -5.2 -1.8 -5.5 -1.3z"/>
<path class="m c8" d="M200.1 142.8l5.9 -3.3 -4.9 -3.9 -5.9 3.1z"/>
<path class="m c7" d="M172.5 149.6l6 -6.2 -4.8 -4.9 -5.9 5.9z"/>
<path class="m c7" d="M243.4 147.1l5.7 0.2 -5.2 -2.2 -5.6 -0.4z"/>
<path class="m c8" d="M210.9 143.2l5.8 -2.4 -4.9 -3.5 -5.8 2.2z"/>
<path class="n c7" d="M234.7 145.1l3.6 -0.4 -5.1 -2.6 -4.5 0.3z"/>
<path class="n c8" d="M232.6 145.4l2.1 -0.3 -6 -2.7 -1.2 0.1z"/>
<path class="o" d="M232.6 145.4l5.7 -0.7 -5.1 -2.6 -5.7 0.4z"/>
<path class="m c8" d="M221.7 144.1l5.8 -1.6 -5 -3 -5.8 1.3z"/>
<path class="n c6" d="M166.6 157l4.5 -5.5 -7.7 -1.9 -1.6 1.9z"/>
<path class="n c7" d="M171.1 151.5l1.4 -1.9 -4.7 -5.2 -4.4 5.2z"/>
<path class="o" d="M166.6 157l5.9 -7.4 -4.7 -5.2 -6 7.1z"/>
<path class="n c7" d="M183.3 148.2l6 -5.3 -2.3 -2.1 -4.3 -1 -4.2 3.6z"/>
<path class="n c8" d="M187 140.8l-2.6 -2.5 -1.7 1.5z"/>
<path class="o" d="M183.3 148.2l6 -5.3 -4.9 -4.6 -5.9 5.1z"/>
<path class="n c5" d="M160.7 165.4l2.6 -3.7 -7.3 -1.9z"/>
<path class="n c6" d="M163.3 161.7l3.3 -4.7 -4.8 -5.5 -5.9 8.2 0.1 0.1z"/>
<path class="o" d="M160.7 165.4l5.9 -8.4 -4.8 -5.5 -5.9 8.2z"/>
<path class="n c4" d="M154.8 175l2.2 -3.7 -6.6 -1.8z"/>
<path class="n c5" d="M157 171.3l3.7 -5.9 -4.7 -5.6 -0.1 -0.1 -5.9 9.3 0.4 0.5z"/>
<path class="n c6" d="M156 159.8l-0.1 -0.1 0 0z"/>
<path class="o" d="M154.8 175l5.9 -9.6 -4.8 -5.7 -5.9 9.3z"/>
<path class="n c7" d="M194.1 147.3l5.4 -4.1 -8.2 -1.8 -2 1.5z"/>
<path class="n c8" d="M199.5 143.2l0.6 -0.4 -4.9 -4.1 -3.9 2.7z"/>
<path class="o" d="M194.1 147.3l6 -4.5 -4.9 -4.1 -5.9 4.2z"/>
<path class="n c6" d="M177.4 154.7l1.1 -1.2 -3 -0.8z"/>
<path class="n c7" d="M178.5 153.5l4.8 -5.3 -4.8 -4.8 -6 6.2 3 3.1z"/>
<path class="o" d="M177.4 154.7l5.9 -6.5 -4.8 -4.8 -6 6.2z"/>
<path class="n c7" d="M205 146.8l3 -1.8 -6.8 -1.3z"/>
<path class="n c8" d="M208 145l2.9 -1.8 -4.9 -3.7 -5.9 3.3 1.1 0.9z"/>
<path class="o" d="M205 146.8l5.9 -3.6 -4.9 -3.7 -5.9 3.3z"/>
<path class="m c8" d="M215.9 146.8l5.8 -2.7 -5 -3.3 -5.8 2.4z"/>
<path class="n c6" d="M171.4 162.3l6 -7.6 -1.9 -2 -4.4 -1.2 -4.5 5.5z"/>
<path class="n c7" d="M175.5 152.7l-3 -3.1 -1.4 1.9z"/>
<path class="o" d="M171.4 162.3l6 -7.6 -4.9 -5.1 -5.9 7.4z"/>
<path class="m c8" d="M226.8 147.2l5.8 -1.8 -5.1 -2.9 -5.8 1.6z"/>
<path class="n c7" d="M250 149.4l4.2 0 -5.1 -2.1 -5.7 -0.2 1.8 0.8z"/>
<path class="n c8" d="M248.6 149.4l1.4 0 -4.8 -1.5z"/>
<path class="o" d="M248.6 149.4l5.6 0 -5.1 -2.1 -5.7 -0.2z"/>
<path class="m c7" d="M188.2 152.9l5.9 -5.6 -4.8 -4.4 -6 5.3z"/>
<path class="n c7" d="M242.1 147.4l1.3 -0.3 -5.1 -2.4 -3.6 0.4z"/>
<path class="n c8" d="M237.7 148.1l4.4 -0.7 -7.4 -2.3 -2.1 0.3z"/>
<path class="o" d="M237.7 148.1l5.7 -1 -5.1 -2.4 -5.7 0.7z"/>
<path class="n c5" d="M165.5 171.1l4.9 -7.3 -7.1 -2.1 -2.6 3.7z"/>
<path class="n c6" d="M170.4 163.8l1 -1.5 -4.8 -5.3 -3.3 4.7z"/>
<path class="o" d="M165.5 171.1l5.9 -8.8 -4.8 -5.3 -5.9 8.4z"/>
<path class="n c4" d="M159.5 180.9l4.5 -7.4 -7 -2.2 -2.2 3.7z"/>
<path class="n c5" d="M164 173.5l1.5 -2.4 -4.8 -5.7 -3.7 5.9z"/>
<path class="o" d="M159.5 180.9l6 -9.8 -4.8 -5.7 -5.9 9.6z"/>
<path class="n c7" d="M199.1 151.5l5.9 -4.7 -3.8 -3.1 -1.7 -0.5 -5.4 4.1z"/>
<path class="n c8" d="M201.2 143.7l-1.1 -0.9 -0.6 0.4z"/>
<path class="o" d="M199.1 151.5l5.9 -4.7 -4.9 -4 -6 4.5z"/>
<path class="n c6" d="M182.2 159.7l3.7 -4.2 -7.4 -2 -1.1 1.2z"/>
<path class="n c7" d="M185.9 155.5l2.3 -2.6 -4.9 -4.7 -4.8 5.3z"/>
<path class="o" d="M182.2 159.7l6 -6.8 -4.9 -4.7 -5.9 6.5z"/>
<path class="n c7" d="M210 150.6l5.3 -3.5 -7.3 -2.1 -3 1.8z"/>
<path class="n c8" d="M215.3 147.1l0.6 -0.3 -5 -3.6 -2.9 1.8z"/>
<path class="o" d="M210 150.6l5.9 -3.8 -5 -3.6 -5.9 3.6z"/>
<path class="n c5" d="M176.2 167.6l1.3 -1.7 -3.8 -1.1z"/>
<path class="n c6" d="M177.5 165.9l4.7 -6.2 -4.8 -5 -6 7.6 2.3 2.5z"/>
<path class="o" d="M176.2 167.6l6 -7.9 -4.8 -5 -6 7.6z"/>
<path class="n c3" d="M164.3 186.7l1.1 -1.7 -3.4 -1.1z"/>
<path class="n c4" d="M165.4 185l4.9 -8.4 -1.4 -1.6 -4.9 -1.5 -4.5 7.4 2.5 3z"/>
<path class="n c5" d="M168.9 175l-3.4 -3.9 -1.5 2.4z"/>
<path class="o" d="M164.3 186.7l6 -10.1 -4.8 -5.5 -6 9.8z"/>
<path class="n c4" d="M170.3 176.6l0.6 -1 -2 -0.6z"/>
<path class="n c5" d="M170.9 175.6l5.3 -8 -2.5 -2.8 -3.3 -1 -4.9 7.3 3.4 3.9z"/>
<path class="n c6" d="M173.7 164.8l-2.3 -2.5 -1 1.5z"/>
<path class="o" d="M170.3 176.6l5.9 -9 -4.8 -5.3 -5.9 8.8z"/>
<path class="n c7" d="M220.9 150.2l1.6 -0.8 -4.6 -1.2z"/>
<path class="n c8" d="M222.5 149.4l4.3 -2.2 -5.1 -3.1 -5.8 2.7 2 1.4z"/>
<path class="o" d="M220.9 150.2l5.9 -3 -5.1 -3.1 -5.8 2.7z"/>
<path class="m c7" d="M193.1 157.4l6 -5.9 -5 -4.2 -5.9 5.6z"/>
<path class="m c8" d="M231.9 150.2l5.8 -2.1 -5.1 -2.7 -5.8 1.8z"/>
<path class="n c7" d="M245.2 147.9l-1.8 -0.8 -1.3 0.3z"/>
<path class="n c8" d="M242.8 150.7l5.8 -1.3 -3.4 -1.5 -3.1 -0.5 -4.4 0.7z"/>
<path class="o" d="M242.8 150.7l5.8 -1.3 -5.2 -2.3 -5.7 1z"/>
<path class="n c6" d="M187.1 164.5l5.7 -6.8 -6.9 -2.2 -3.7 4.2z"/>
<path class="n c7" d="M192.8 157.7l0.3 -0.3 -4.9 -4.5 -2.3 2.6z"/>
<path class="o" d="M187.1 164.5l6 -7.1 -4.9 -4.5 -6 6.8z"/>
<path class="m c7" d="M204 155.6l6 -5 -5 -3.8 -5.9 4.7z"/>
<path class="n c5" d="M181.1 172.6l3.4 -4.5 -7 -2.2 -1.3 1.7z"/>
<path class="n c6" d="M184.5 168.1l2.6 -3.6 -4.9 -4.8 -4.7 6.2z"/>
<path class="o" d="M181.1 172.6l6 -8.1 -4.9 -4.8 -6 7.9z"/>
<path class="n c3" d="M169.2 192.3l2.9 -5.1 -6.7 -2.2 -1.1 1.7z"/>
<path class="n c4" d="M172.1 187.2l3 -5.3 -4.8 -5.3 -4.9 8.4z"/>
<path class="o" d="M169.2 192.3l5.9 -10.4 -4.8 -5.3 -6 10.1z"/>
<path class="n c4" d="M175.1 181.9l2.7 -4.1 -6.9 -2.2 -0.6 1z"/>
<path class="n c5" d="M177.8 177.8l3.3 -5.2 -4.9 -5 -5.3 8z"/>
<path class="o" d="M175.1 181.9l6 -9.3 -4.9 -5 -5.9 9z"/>
<path class="n c7" d="M215 154.3l5.9 -4.1 -3 -2 -2.6 -1.1 -5.3 3.5z"/>
<path class="n c8" d="M217.9 148.2l-2 -1.4 -0.6 0.3z"/>
<path class="o" d="M215 154.3l5.9 -4.1 -5 -3.4 -5.9 3.8z"/>
<path class="n c6" d="M198 161.8l1.8 -1.9 -6 -1.8z"/>
<path class="n c7" d="M199.8 159.9l4.2 -4.3 -4.9 -4.1 -6 5.9 0.7 0.7z"/>
<path class="o" d="M198 161.8l6 -6.2 -4.9 -4.1 -6 5.9z"/>
<path class="n c7" d="M226 153.4l2.5 -1.4 -6 -2.6 -1.6 0.8z"/>
<path class="n c8" d="M228.5 152l3.4 -1.8 -5.1 -3 -4.3 2.2z"/>
<path class="o" d="M226 153.4l5.9 -3.2 -5.1 -3 -5.9 3z"/>
<path class="m c8" d="M237 153l5.8 -2.3 -5.1 -2.6 -5.8 2.1z"/>
<path class="n c6" d="M192 169.1l6 -7.3 -4.2 -3.7 -1 -0.4 -5.7 6.8z"/>
<path class="n c7" d="M193.8 158.1l-0.7 -0.7 -0.3 0.3z"/>
<path class="o" d="M192 169.1l6 -7.3 -4.9 -4.4 -6 7.1z"/>
<path class="m c7" d="M209 159.6l6 -5.3 -5 -3.7 -6 5z"/>
<path class="n c3" d="M174 197.8l4.7 -8.3 -6.6 -2.3 -2.9 5.1z"/>
<path class="n c4" d="M178.7 189.5l1.3 -2.3 -4.9 -5.3 -3 5.3z"/>
<path class="o" d="M174 197.8l6 -10.6 -4.9 -5.3 -5.9 10.4z"/>
<path class="n c5" d="M186 177.6l5.1 -7.2 -6.6 -2.3 -3.4 4.5z"/>
<path class="n c6" d="M191.1 170.4l0.9 -1.3 -4.9 -4.6 -2.6 3.6z"/>
<path class="o" d="M186 177.6l6 -8.5 -4.9 -4.6 -6 8.1z"/>
<path class="n c4" d="M180 187.2l4.4 -7.1 -6.6 -2.3 -2.7 4.1z"/>
<path class="n c5" d="M184.4 180.1l1.6 -2.5 -4.9 -5 -3.3 5.2z"/>
<path class="o" d="M180 187.2l6 -9.6 -4.9 -5 -6 9.3z"/>
<path class="m c7" d="M220 157.9l6 -4.5 -5.1 -3.2 -5.9 4.1z"/>
<path class="n c6" d="M203 166.1l3.5 -3.8 -6.7 -2.4 -1.8 1.9z"/>
<path class="n c7" d="M206.5 162.3l2.5 -2.7 -5 -4 -4.2 4.3z"/>
<path class="o" d="M203 166.1l6 -6.5 -5 -4 -6 6.2z"/>
<path class="n c7" d="M231.1 156.6l2.7 -1.6 -5.3 -3 -2.5 1.4z"/>
<path class="n c8" d="M233.8 155l3.2 -2 -5.1 -2.8 -3.4 1.8z"/>
<path class="o" d="M231.1 156.6l5.9 -3.6 -5.1 -2.8 -5.9 3.2z"/>
<path class="n c5" d="M197 173.7l0.7 -1 -2.8 -0.9z"/>
<path class="n c6" d="M197.7 172.7l5.3 -6.6 -5 -4.3 -6 7.3 2.9 2.7z"/>
<path class="o" d="M197 173.7l6 -7.6 -5 -4.3 -6 7.3z"/>
<path class="n c2" d="M178.9 203.2l1.3 -2.3 -5 -1.8z"/>
<path class="n c3" d="M180.2 200.9l4.7 -8.7 -0.7 -0.7 -5.5 -2 -4.7 8.3 1.2 1.3z"/>
<path class="n c4" d="M184.2 191.5l-4.2 -4.3 -1.3 2.3z"/>
<path class="o" d="M178.9 203.2l6 -11 -4.9 -5 -6 10.6z"/>
<path class="n c5" d="M191 182.4l6 -8.7 -2.1 -1.9 -3.8 -1.4 -5.1 7.2z"/>
<path class="n c6" d="M194.9 171.8l-2.9 -2.7 -0.9 1.3z"/>
<path class="o" d="M191 182.4l6 -8.7 -5 -4.6 -6 8.5z"/>
<path class="n c3" d="M184.9 192.2l0.3 -0.4 -1 -0.3z"/>
<path class="n c4" d="M185.2 191.8l5.7 -9.3 -6.5 -2.4 -4.4 7.1 4.2 4.3z"/>
<path class="n c5" d="M190.9 182.5l0.1 -0.1 -5 -4.8 -1.6 2.5z"/>
<path class="o" d="M184.9 192.2l6.1 -9.8 -5 -4.8 -6 9.6z"/>
<path class="m c7" d="M214 163.4l6 -5.5 -5 -3.6 -6 5.3z"/>
<path class="n c6" d="M208 170.2l4.8 -5.4 -6.3 -2.5 -3.5 3.8z"/>
<path class="n c7" d="M212.8 164.8l1.2 -1.4 -5 -3.8 -2.5 2.7z"/>
<path class="o" d="M208 170.2l6 -6.8 -5 -3.8 -6 6.5z"/>
<path class="m c7" d="M225.1 161.3l6 -4.7 -5.1 -3.2 -6 4.5z"/>
<path class="n c2" d="M183.9 208.4l2.7 -5.2 -6.4 -2.3 -1.3 2.3z"/>
<path class="n c3" d="M186.6 203.2l3.3 -6 -5 -5 -4.7 8.7z"/>
<path class="o" d="M183.9 208.4l6 -11.2 -5 -5 -6 11z"/>
<path class="n c5" d="M202 178l2.2 -2.9 -6.5 -2.4 -0.7 1z"/>
<path class="n c6" d="M204.2 175.1l3.8 -4.9 -5 -4.1 -5.3 6.6z"/>
<path class="o" d="M202 178l6 -7.8 -5 -4.1 -6 7.6z"/>
<path class="n c3" d="M189.9 197.2l1.8 -3 -6.5 -2.4 -0.3 0.4z"/>
<path class="n c4" d="M191.7 194.2l4.2 -7.1 -4.8 -4.5 -0.2 -0.1 -5.7 9.3z"/>
<path class="n c5" d="M191.1 182.6l-0.1 -0.2 -0.1 0.1z"/>
<path class="o" d="M189.9 197.2l6 -10.1 -4.9 -4.7 -6.1 9.8z"/>
<path class="n c4" d="M195.9 187.1l1.5 -2.3 -6.3 -2.2z"/>
<path class="n c5" d="M197.4 184.8l4.6 -6.8 -5 -4.3 -6 8.7 0.1 0.2z"/>
<path class="o" d="M195.9 187.1l6.1 -9.1 -5 -4.3 -6 8.7z"/>
<path class="m c7" d="M219.1 167.1l6 -5.8 -5.1 -3.4 -6 5.5z"/>
<path class="n c6" d="M213.1 174.1l5.8 -6.7 -6.1 -2.6 -4.8 5.4z"/>
<path class="n c7" d="M218.9 167.4l0.2 -0.3 -5.1 -3.7 -1.2 1.4z"/>
<path class="o" d="M213.1 174.1l6 -7 -5.1 -3.7 -6 6.8z"/>
<path class="n c2" d="M188.8 213.5l4.1 -7.8 -6.3 -2.5 -2.7 5.2z"/>
<path class="n c3" d="M192.9 205.7l2 -3.7 -5 -4.8 -3.3 6z"/>
<path class="o" d="M188.8 213.5l6.1 -11.5 -5 -4.8 -6 11.2z"/>
<path class="n c5" d="M207 182.3l3.5 -4.7 -6.3 -2.5 -2.2 2.9z"/>
<path class="n c6" d="M210.5 177.6l2.6 -3.5 -5.1 -3.9 -3.8 4.9z"/>
<path class="o" d="M207 182.3l6.1 -8.2 -5.1 -3.9 -6 7.8z"/>
<path class="n c3" d="M194.9 202l3.1 -5.4 -6.3 -2.4 -1.8 3z"/>
<path class="n c4" d="M198 196.6l3 -5 -5.1 -4.5 -4.2 7.1z"/>
<path class="o" d="M194.9 202l6.1 -10.4 -5.1 -4.5 -6 10.1z"/>
<path class="n c4" d="M201 191.6l2.8 -4.3 -6.4 -2.5 -1.5 2.3z"/>
<path class="n c5" d="M203.8 187.3l3.2 -5 -5 -4.3 -4.6 6.8z"/>
<path class="o" d="M201 191.6l6 -9.3 -5 -4.3 -6.1 9.1z"/></g>
<g class="pt"><path class="st" d="M234.2 124.5l0 12.5M267.8 152.4l0 4.6M190.5 214l0 4.6M230 168.8l0 6.2"/><circle cx="165.2" cy="88.2" r="2.5"/><circle cx="166" cy="116.5" r="2.5"/><circle cx="202.7" cy="116.5" r="2.5"/><circle cx="234.2" cy="121.8" r="2.5"/><circle cx="230.7" cy="139" r="2.5"/><circle cx="196.8" cy="138.2" r="2.5"/><circle cx="126.8" cy="144.5" r="2.5"/><circle cx="158.2" cy="165.5" r="2.5"/><circle cx="159" cy="182.7" r="2.5"/><circle cx="267.8" cy="149.8" r="2.5"/><circle cx="234.2" cy="159.2" r="2.5"/><circle cx="230" cy="166.2" r="2.5"/><circle cx="190.5" cy="221.2" r="2.5"/></g>
<path class="ax" d="M111.8 97.5l4.8 99.8 72.4 53.9 89.8 -45.1M116.6 197.3l1.6 -0.7M116.5 194.6l1.6 -0.7M116.4 191.9l1.6 -0.7M116.2 189.2l1.7 -0.7M116.1 186.5l1.6 -0.8M116 183.7l1.6 -0.7M115.8 181l1.7 -0.7M115.7 178.2l1.6 -0.7M115.6 175.5l1.6 -0.7M115.4 172.7l1.7 -0.7M115.3 169.9l1.7 -0.7M115.2 167.2l1.6 -0.7M115 164.4l1.7 -0.7M114.9 161.6l1.7 -0.7M114.8 158.8l1.6 -0.7M114.6 155.9l1.7 -0.7M114.5 153.1l1.7 -0.7M114.3 150.3l1.7 -0.7M114.2 147.4l1.7 -0.7M114.1 144.6l1.6 -0.7M113.9 141.7l1.7 -0.7M113.8 138.8l1.7 -0.7M113.7 135.9l1.6 -0.7M113.5 133l1.7 -0.7M113.4 130.1l1.7 -0.7M113.2 127.2l1.7 -0.7M113.1 124.3l1.7 -0.7M112.9 121.3l1.7 -0.6M112.8 118.4l1.7 -0.7M112.7 115.4l1.7 -0.6M112.5 112.5l1.7 -0.7M112.4 109.5l1.7 -0.7M112.2 106.5l1.7 -0.7M112.1 103.5l1.7 -0.6M111.9 100.5l1.8 -0.7M111.8 97.5l1.7 -0.7M116 183.7l3 -1.3M115.3 169.9l3.1 -1.3M114.6 155.9l3.1 -1.3M113.9 141.7l3.1 -1.3M113.2 127.2l3.2 -1.3M112.5 112.5l3.2 -1.3M189 251.2l2.6 -1.3M189 251.2l-2.1 -1.6M185.8 248.8l1.4 -0.7M193 249.2l-1.2 -0.9M182.6 246.4l1.4 -0.7M196.9 247.2l-1.2 -0.9M179.4 244l1.4 -0.7M200.8 245.2l-1.1 -0.8M176.2 241.6l2.6 -1.2M204.7 243.3l-2.1 -1.6M173.1 239.3l1.4 -0.7M208.6 241.3l-1.2 -0.8M169.9 237l1.4 -0.7M212.5 239.4l-1.2 -0.8M166.8 234.6l1.4 -0.6M216.3 237.5l-1.1 -0.9M163.7 232.3l2.6 -1.2M220.1 235.5l-2.1 -1.5M160.6 230.1l1.4 -0.7M224 233.6l-1.2 -0.8M157.6 227.8l1.4 -0.7M227.7 231.7l-1.1 -0.8M154.5 225.5l1.4 -0.7M231.5 229.8l-1.2 -0.8M151.5 223.3l2.6 -1.3M235.3 228l-2.2 -1.5M148.5 221l1.4 -0.6M239 226.1l-1.2 -0.8M145.5 218.8l1.4 -0.6M242.7 224.2l-1.2 -0.8M142.6 216.6l1.4 -0.7M246.4 222.4l-1.2 -0.8M139.6 214.4l2.6 -1.2M250.1 220.5l-2.2 -1.4M136.7 212.2l1.4 -0.6M253.7 218.7l-1.2 -0.8M133.8 210.1l1.4 -0.7M257.4 216.9l-1.2 -0.8M130.9 207.9l1.4 -0.6M261 215.1l-1.2 -0.8M128 205.7l2.5 -1.1M264.6 213.2l-2.2 -1.4M125.1 203.6l1.4 -0.6M268.2 211.4l-1.2 -0.7M122.3 201.5l1.4 -0.6M271.7 209.7l-1.1 -0.8M119.4 199.4l1.4 -0.6M275.3 207.9l-1.2 -0.8M116.6 197.3l2.6 -1.1M278.8 206.1l-2.2 -1.4"/>
<g class="tk"><text text-anchor="middle" dy=".35em" transform="translate(106.2 188.5) rotate(-20)">65</text><text text-anchor="middle" dy=".35em" transform="translate(105.5 174.7) rotate(-20)">70</text><text text-anchor="middle" dy=".35em" transform="translate(104.8 160.7) rotate(-20)">75</text><text text-anchor="middle" dy=".35em" transform="translate(104.1 146.5) rotate(-20)">80</text><text text-anchor="middle" dy=".35em" transform="translate(103.4 132) rotate(-20)">85</text><text text-anchor="middle" dy=".35em" transform="translate(102.7 117.3) rotate(-20)">90</text><text text-anchor="middle" dy=".35em" transform="translate(102 102.3) rotate(-20)">95</text><text text-anchor="end" transform="translate(186 255) rotate(-45)">−1.2</text><text text-anchor="middle" transform="translate(193.5 261.7) rotate(-30)">−1.2</text><text text-anchor="end" transform="translate(173.2 245.4) rotate(-45)">−0.8</text><text text-anchor="middle" transform="translate(209.2 253.8) rotate(-30)">−0.8</text><text text-anchor="end" transform="translate(160.7 236.1) rotate(-45)">−0.4</text><text text-anchor="middle" transform="translate(224.6 246) rotate(-30)">−0.4</text><text text-anchor="end" transform="translate(148.5 227.1) rotate(-45)">0.0</text><text text-anchor="middle" transform="translate(239.8 238.5) rotate(-30)">0.0</text><text text-anchor="end" transform="translate(136.6 218.2) rotate(-45)">0.4</text><text text-anchor="middle" transform="translate(254.6 231) rotate(-30)">0.4</text><text text-anchor="end" transform="translate(125 209.5) rotate(-45)">0.8</text><text text-anchor="middle" transform="translate(269.1 223.7) rotate(-30)">0.8</text><text text-anchor="end" transform="translate(113.6 201.1) rotate(-45)">1.2</text><text text-anchor="middle" transform="translate(283.3 216.6) rotate(-30)">1.2</text><text text-anchor="middle" style="font-size:7.2px" transform="translate(85 161) rotate(90)">Y1</text><text text-anchor="middle" transform="translate(121 237) rotate(52)">X2</text><text text-anchor="middle" transform="translate(248 249) rotate(-30)">X1</text></g>
<path class="wl" d="M426.9 198.1l87.9 -39.2 0.4 -96.3 -93.1 35.7z"/>
<path class="wl" d="M514.8 158.9l74.3 48 5 -100.6 -78.9 -43.7z"/>
<path class="wl" d="M426.9 198.1l72.4 53.9 89.8 -45.1 -74.3 -48z"/>
<path class="gr" d="M426.9 198.1l-4.8 -99.8M589.1 206.9l5 -100.6M442.3 191.2l-3.9 -99.2M576 198.4l4.1 -99.8M457.3 184.5l-2.9 -98.6M563.2 190.2l3.3 -99.1M472.1 177.9l-2.1 -98M550.7 182.1l2.5 -98.4M486.6 171.5l-1.2 -97.5M538.5 174.2l1.7 -97.7M500.8 165.1l-0.4 -96.8M526.5 166.5l1.1 -97M514.8 158.9l0.4 -96.3M514.8 158.9l0.4 -96.3M426.1 180.4l88.8 -38.7 75.1 47.3M425.1 161.5l89.8 -38 76 46.5M424.2 142.2l90.8 -37.4 76.9 45.8M423.3 122.4l91.8 -36.6 77.8 44.9M422.1 98.3l93.1 -35.7 78.9 43.7"/>
<path class="gf" d="M515 244.1l-72.7 -52.9M486.5 242.4l89.5 -44M530.4 236.3l-73.1 -51.8M474 233.1l89.2 -42.9M545.6 228.8l-73.5 -50.9M461.8 224.1l88.9 -42M560.4 221.3l-73.8 -49.8M449.9 215.2l88.6 -41M574.9 214l-74.1 -48.9M438.3 206.5l88.2 -40"/>
<path class="cd" stroke="#98a398" d="M526.9 166.7l-1.8 -0.9 -2.7 -1.4 -2.6 -1.4 -2.6 -1.4 -2.6 -1.3 -1.3 -0.7"/>
<path class="cs" stroke="#9bb098" d="M549.5 181.3l-1.5 -0.7 -2.9 -1.4 -2.8 -1.4 -2.8 -1.4 -1.4 -0.7 -2.8 -1.4 -2.8 -1.4 -2.7 -1.4 -1.4 -0.8 -2.6 -1.3 -2.7 -1.4 -2.7 -1.4 -2.6 -1.4 -2.2 -1.2 -1.7 -0.9 -2.6 -1.4 -1.2 -0.7"/>
<path class="cd" stroke="#a6b89e" d="M488 243.6l3.2 1.2 2.5 1 2.8 1.2 3 1.2 2.3 0.9 1.7 0.8"/>
<path class="cd" stroke="#a6b89e" d="M570.3 194.8l-2.4 -1.1 -3.1 -1.4 -2.8 -1.3 -1.7 -0.8 -3 -1.4 -3 -1.5 -1.5 -0.7 -2.9 -1.4 -2.9 -1.4 -2.8 -1.4 -1.5 -0.7 -2.8 -1.4 -2.8 -1.4 -2.8 -1.5 -2.2 -1.1 -1.9 -1 -2.7 -1.4 -2.7 -1.4 -2.6 -1.5 -2.7 -1.4 -1.3 -0.7 -2.6 -1.4 -2.6 -1.4 -2.5 -1.5 -2.6 -1.4 -1.2 -0.7"/>
<path class="cs" stroke="#bac698" d="M588.9 207l-3.3 -1.4 -2.7 -1.1 -2.2 -0.9 -3.2 -1.4 -2.1 -1 -2.7 -1.1 -3.1 -1.4 -2.2 -1 -2.5 -1.2 -3 -1.4 -3 -1.4 -1.5 -0.7 -3 -1.4 -3 -1.5 -2 -1 -2.3 -1.1 -2.9 -1.5 -2.9 -1.4 -2.5 -1.3 -1.7 -0.9 -2.7 -1.4 -2.8 -1.4 -2.7 -1.5 -2.4 -1.3 -1.6 -0.9 -2.7 -1.4 -2.6 -1.5 -2.6 -1.4 -2.6 -1.5 -2.6 -1.4 -1.3 -0.7 -2.5 -1.5 -2.5 -1.4 -2.5 -1.5"/>
<path class="cs" stroke="#bac698" d="M476.2 234.7l2.2 0.9 2.9 1 2.5 0.9 2.7 1 2.7 1.1 2.7 1 2.6 1 2.9 1.1 2.5 1 3.3 1.3 2 0.8 3.5 1.5"/>
<path class="cd" stroke="#dcdfa4" d="M583.6 209.7l-1.6 -0.7 -3.3 -1.4 -3.2 -1.5 -1.6 -0.7 -3.2 -1.4 -3.2 -1.4 -1.5 -0.7 -3.1 -1.4 -3.1 -1.5 -1.5 -0.7 -3 -1.4 -3 -1.5 -2.9 -1.5 -1.4 -0.7 -2.9 -1.4 -2.9 -1.5 -2.8 -1.5 -1.4 -0.7 -2.8 -1.5 -2.7 -1.5 -2.8 -1.4 -2.7 -1.5 -2.5 -1.4 -1.5 -0.8 -2.6 -1.5 -2.6 -1.5 -2.6 -1.5 -2.5 -1.5 -2.6 -1.4 -2.5 -1.5 -2 -1.2 -1.7 -1 -2.4 -1.5 -2.5 -1.5"/>
<path class="cd" stroke="#dcdfa4" d="M465 226.4l2.6 0.8 2 0.7 3.5 1.2 1.8 0.6 3.7 1.2 1.8 0.7 3.6 1.2 1.9 0.7 3.1 1.1 2.3 0.8 2.8 1.1 2.6 0.9 2.8 1.1 2.6 1 2.8 1.1 2.5 0.9 3.3 1.3 2 0.8 1.8 0.7"/>
<path class="cs" stroke="#eee8a4" d="M577.3 212.8l-3.3 -1.4 -1.8 -0.8 -3 -1.3 -3.2 -1.5 -1.9 -0.9 -2.7 -1.3 -3.1 -1.4 -3 -1.5 -1.5 -0.7 -3 -1.5 -2.9 -1.5 -2.9 -1.5 -1.4 -0.8 -2.9 -1.5 -2.8 -1.5 -2.7 -1.5 -2.8 -1.5 -1.7 -1 -2.3 -1.3 -2.7 -1.5 -2.6 -1.5 -2.6 -1.5 -2.6 -1.6 -2.5 -1.5 -2.5 -1.5 -2.5 -1.5 -1.3 -0.8 -2.4 -1.5 -2.5 -1.6 -2.4 -1.5 -2.4 -1.5 -2.4 -1.5 -2.4 -1.5"/>
<path class="cs" stroke="#eee8a4" d="M454.3 218.5l2.4 0.7 1.9 0.5 3.8 1.2 1.9 0.5 2.7 0.8 3 0.9 1.9 0.6 3.8 1.2 1.8 0.6 2.8 0.8 2.8 0.9 1.9 0.6 3.7 1.3 1.9 0.6 3.7 1.2 1.8 0.7 3.2 1.1 2.3 0.8 2.8 1 2.7 0.9 2.6 1 2.8 1 2.6 1 2.7 1.1 3 1.2 0.6 0.2"/>
<path class="cd" stroke="#dc7474" d="M568.8 217.1l-3.2 -1.5 -3.2 -1.4 -1.5 -0.8 -3.1 -1.5 -3.1 -1.5 -2.2 -1.1 -2.2 -1.2 -2.9 -1.6 -2.9 -1.5 -2.8 -1.6 -2.6 -1.5 -1.5 -0.8 -2.7 -1.6 -2.7 -1.6 -2.6 -1.6 -2.7 -1.6 -2.5 -1.6 -2.6 -1.6 -2.5 -1.6 -2.5 -1.6 -2.5 -1.6 -2.4 -1.6 -2.4 -1.6 -2.4 -1.6 -2.4 -1.6 -2.4 -1.5 -2.3 -1.6 -2.3 -1.6 -2.3 -1.6 -2.3 -1.6 -2.3 -1.5 -1.1 -0.8"/>
<path class="cd" stroke="#dc7474" d="M444.2 211l3.7 0.9 2 0.5 2 0.5 3.8 0.9 2.1 0.6 2 0.5 3.7 1 2.2 0.5 2 0.5 3.7 1 2.2 0.6 1.9 0.6 3.9 1 2 0.6 2.2 0.6 3.6 1 2 0.6 2.9 0.8 2.9 0.8 1.9 0.6 3.8 1.2 1.9 0.6 2.8 0.8 2.9 0.9 1.9 0.7 3.8 1.2 1.8 0.6 3.7 1.3 1.9 0.6 3.6 1.3 1.8 0.7 3.6 1.4"/>
<path class="cs" stroke="#e29c9c" d="M434.6 203.8l2.5 0.5 2.1 0.4 2.3 0.5 3.5 0.7 2.6 0.6 2.1 0.4 2.2 0.4 3.5 0.7 2.7 0.6 2.1 0.4 2.1 0.5 3.5 0.7 2.9 0.5 2.1 0.5 2.2 0.4 3.2 0.6 3.2 0.7 2.2 0.4 2.1 0.4 3 0.6 3.4 0.7 2.3 0.4"/>
<path class="cd" stroke="#b85c5c" d="M428.4 197.4l2.2 0.4 2.3 0.3 2.2 0.4 2.8 0.4 3.1 0.4 3 0.4 2.5 0.4 2.4 0.3 2.3 0.3 2.4 0.2 2.4 0.3 2.9 0.3 2.9 0.3 2.8 0.2 2.7 0.2 2.7 0.1 2.6 0.1 2.5 0 2.5 0 3.7 -0.4 2.6 -0.4 3.4 -1.1 2.3 -1.9 0.6 -1.3 0.2 -1.5 -0.3 -2 -0.4 -1.1 -0.6 -1.3 -1.2 -2 -0.6 -1.1 -1.5 -2 -0.8 -1.1 -1.5 -1.9 -1.7 -1.9 -0.8 -0.9 -1.8 -1.8 -1.7 -1.9 -0.9 -0.9"/>
<path class="cs" stroke="#c98e7e" d="M440.1 192.2l2.9 0.1 3 -0.1 2.4 0 2.3 -0.2 2.2 -0.2 4 -0.6 1.8 -0.5 3.1 -1.2 1.5 -1 1.7 -2 0.5 -1.3 0.3 -1.5 -0.1 -1.6 -0.3 -1.2"/>
<g class="pt"></g>
<g class="sf"><path class="k" d="M514 135.2l5.3 8.6 -4.4 -2.8 -5.3 -8.9z"/>
<path class="k" d="M518.5 138l5.2 8.5 -4.4 -2.7 -5.3 -8.6z"/>
<path class="k" d="M523 140.8l5.2 8.2 -4.5 -2.5 -5.2 -8.5z"/>
<path class="k" d="M508.7 127.4l5.3 7.8 -4.4 -3.1 -5.4 -7.9z"/>
<path class="k" d="M527.5 143.4l5.2 8 -4.5 -2.4 -5.2 -8.2z"/>
<path class="k" d="M513.2 130.5l5.3 7.5 -4.5 -2.8 -5.3 -7.8z"/>
<path class="k" d="M532.1 145.9l5.2 7.8 -4.6 -2.3 -5.2 -8z"/>
<path class="k" d="M517.7 133.5l5.3 7.3 -4.5 -2.8 -5.3 -7.5z"/>
<path class="k" d="M503.3 120.6l5.4 6.8 -4.5 -3.2 -5.4 -7.1z"/>
<path class="k" d="M536.8 148.2l5.1 7.6 -4.6 -2.1 -5.2 -7.8z"/>
<path class="k" d="M522.3 136.3l5.2 7.1 -4.5 -2.6 -5.3 -7.3z"/>
<path class="k" d="M507.8 123.9l5.4 6.6 -4.5 -3.1 -5.4 -6.8z"/>
<path class="k" d="M526.9 139l5.2 6.9 -4.6 -2.5 -5.2 -7.1z"/>
<path class="k" d="M541.4 150.4l5.2 7.4 -4.7 -2 -5.1 -7.6z"/>
<path class="k" d="M512.3 127.1l5.4 6.4 -4.5 -3 -5.4 -6.6z"/>
<path class="k" d="M497.7 114.7l5.6 5.9 -4.5 -3.5 -5.5 -6.2z"/>
<path class="k" d="M516.9 130.2l5.4 6.1 -4.6 -2.8 -5.4 -6.4z"/>
<path class="k" d="M531.5 141.6l5.3 6.6 -4.7 -2.3 -5.2 -6.9z"/>
<path class="k" d="M502.3 118.2l5.5 5.7 -4.5 -3.3 -5.6 -5.9z"/>
<path class="k" d="M546.2 152.5l5.1 7.1 -4.7 -1.8 -5.2 -7.4z"/>
<path class="k" d="M506.8 121.7l5.5 5.4 -4.5 -3.2 -5.5 -5.7z"/>
<path class="k" d="M521.5 133.1l5.4 5.9 -4.6 -2.7 -5.4 -6.1z"/>
<path class="k" d="M492.1 109.7l5.6 5 -4.4 -3.8 -5.7 -5.1z"/>
<path class="k" d="M536.2 144l5.2 6.4 -4.6 -2.2 -5.3 -6.6z"/>
<path class="k" d="M550.9 154.4l5.1 6.9 -4.7 -1.7 -5.1 -7.1z"/>
<path class="k" d="M496.7 113.5l5.6 4.7 -4.6 -3.5 -5.6 -5z"/>
<path class="k" d="M511.4 125l5.5 5.2 -4.6 -3.1 -5.5 -5.4z"/>
<path class="k" d="M526.1 135.9l5.4 5.7 -4.6 -2.6 -5.4 -5.9z"/>
<path class="k" d="M540.9 146.2l5.3 6.3 -4.8 -2.1 -5.2 -6.4z"/>
<path class="k" d="M555.8 156.1l5 6.8 -4.8 -1.6 -5.1 -6.9z"/>
<path class="n c7" d="M487 106.2l5.1 3.5 -4.5 -3.9 -4.8 -3.5z"/>
<path class="n c8" d="M486.4 105.8l0.6 0.4 -4.2 -3.9 -0.9 -0.7z"/>
<path class="o" d="M486.4 105.8l5.7 3.9 -4.5 -3.9 -5.7 -4.2z"/>
<path class="k" d="M501.2 117.2l5.6 4.5 -4.5 -3.5 -5.6 -4.7z"/>
<path class="k" d="M516 128.1l5.5 5 -4.6 -2.9 -5.5 -5.2z"/>
<path class="k" d="M530.8 138.5l5.4 5.5 -4.7 -2.4 -5.4 -5.7z"/>
<path class="k" d="M545.7 148.4l5.2 6 -4.7 -1.9 -5.3 -6.3z"/>
<path class="n c7" d="M491.1 109.9l5.6 3.6 -4.6 -3.8 -5.1 -3.5z"/>
<path class="n c8" d="M491 109.9l0.1 0 -4.1 -3.7 -0.6 -0.4z"/>
<path class="o" d="M491 109.9l5.7 3.6 -4.6 -3.8 -5.7 -3.9z"/>
<path class="k" d="M560.6 157.7l5.1 6.6 -4.9 -1.4 -5 -6.8z"/>
<path class="k" d="M505.8 120.7l5.6 4.3 -4.6 -3.3 -5.6 -4.5z"/>
<path class="k" d="M520.7 131.1l5.4 4.8 -4.6 -2.8 -5.5 -5z"/>
<path class="k" d="M535.6 141l5.3 5.2 -4.7 -2.2 -5.4 -5.5z"/>
<path class="m c8" d="M480.7 102.9l5.7 2.9 -4.5 -4.2 -5.7 -3.1z"/>
<path class="k" d="M550.5 150.3l5.3 5.8 -4.9 -1.7 -5.2 -6z"/>
<path class="n c7" d="M495.6 113.8l5.6 3.4 -4.5 -3.7 -5.6 -3.6 1.6 1.4z"/>
<path class="n c8" d="M491.1 109.9l-0.1 0 1.7 1.4z"/>
<path class="o" d="M495.6 113.8l5.6 3.4 -4.5 -3.7 -5.7 -3.6z"/>
<path class="k" d="M510.5 124.1l5.5 4 -4.6 -3.1 -5.6 -4.3z"/>
<path class="k" d="M565.6 159.2l5 6.3 -4.9 -1.2 -5.1 -6.6z"/>
<path class="k" d="M525.4 134l5.4 4.5 -4.7 -2.6 -5.4 -4.8z"/>
<path class="m c8" d="M485.3 107.2l5.7 2.7 -4.6 -4.1 -5.7 -2.9z"/>
<path class="k" d="M540.4 143.3l5.3 5.1 -4.8 -2.2 -5.3 -5.2z"/>
<path class="m c7" d="M500.2 117.6l5.6 3.1 -4.6 -3.5 -5.6 -3.4z"/>
<path class="k" d="M515.1 127.4l5.6 3.7 -4.7 -3 -5.5 -4z"/>
<path class="k" d="M555.4 152.2l5.2 5.5 -4.8 -1.6 -5.3 -5.8z"/>
<path class="n c8" d="M478.4 102.2l2.3 0.7 -4.5 -4.4 -1.1 -0.4z"/>
<path class="n c9" d="M474.9 101.1l3.5 1.1 -3.3 -4.1 -4.7 -1.7z"/>
<path class="o" d="M474.9 101.1l5.8 1.8 -4.5 -4.4 -5.8 -2.1z"/>
<path class="k" d="M530.1 136.7l5.5 4.3 -4.8 -2.5 -5.4 -4.5z"/>
<path class="n c7" d="M495.3 113.7l0.3 0.1 -2.9 -2.5z"/>
<path class="n c8" d="M489.8 111.4l5.5 2.3 -2.6 -2.4 -1.7 -1.4 -5.7 -2.7z"/>
<path class="o" d="M489.8 111.4l5.8 2.4 -4.6 -3.9 -5.7 -2.7z"/>
<path class="k" d="M570.6 160.5l5 6.1 -5 -1.1 -5 -6.3z"/>
<path class="m c7" d="M504.8 121.2l5.7 2.9 -4.7 -3.4 -5.6 -3.1z"/>
<path class="k" d="M545.2 145.5l5.3 4.8 -4.8 -1.9 -5.3 -5.1z"/>
<path class="n c8" d="M481.7 106.3l3.6 0.9 -4.6 -4.3 -2.3 -0.7z"/>
<path class="n c9" d="M479.5 105.7l2.2 0.6 -3.3 -4.1 -3.5 -1.1z"/>
<path class="o" d="M479.5 105.7l5.8 1.5 -4.6 -4.3 -5.8 -1.8z"/>
<path class="k" d="M519.9 130.5l5.5 3.5 -4.7 -2.9 -5.6 -3.7z"/>
<path class="k" d="M560.4 153.8l5.2 5.4 -5 -1.5 -5.2 -5.5z"/>
<path class="n c7" d="M499.4 117.3l0.8 0.3 -4.6 -3.8 -0.3 -0.1z"/>
<path class="n c8" d="M494.5 115.4l4.9 1.9 -4.1 -3.6 -5.5 -2.3z"/>
<path class="o" d="M494.5 115.4l5.7 2.2 -4.6 -3.8 -5.8 -2.4z"/>
<path class="k" d="M534.9 139.3l5.5 4 -4.8 -2.3 -5.5 -4.3z"/>
<path class="m c9" d="M469 100.3l5.9 0.8 -4.5 -4.7 -5.9 -1z"/>
<path class="m c7" d="M509.5 124.7l5.6 2.7 -4.6 -3.3 -5.7 -2.9z"/>
<path class="k" d="M575.6 161.7l5.1 5.9 -5.1 -1 -5 -6.1z"/>
<path class="n c8" d="M484.9 110.3l4.9 1.1 -4.5 -4.2 -3.6 -0.9z"/>
<path class="n c9" d="M484.1 110.1l0.8 0.2 -3.2 -4 -2.2 -0.6z"/>
<path class="o" d="M484.1 110.1l5.7 1.3 -4.5 -4.2 -5.8 -1.5z"/>
<path class="k" d="M550.1 147.6l5.3 4.6 -4.9 -1.9 -5.3 -4.8z"/>
<path class="k" d="M524.6 133.5l5.5 3.2 -4.7 -2.7 -5.5 -3.5z"/>
<path class="n c7" d="M503.5 120.8l1.3 0.4 -4.6 -3.6 -0.8 -0.3z"/>
<path class="n c8" d="M499.1 119.3l4.4 1.5 -4.1 -3.5 -4.9 -1.9z"/>
<path class="o" d="M499.1 119.3l5.7 1.9 -4.6 -3.6 -5.7 -2.2z"/>
<path class="m c9" d="M473.6 105.2l5.9 0.5 -4.6 -4.6 -5.9 -0.8z"/>
<path class="k" d="M565.4 155.4l5.2 5.1 -5 -1.3 -5.2 -5.4z"/>
<path class="k" d="M539.8 141.7l5.4 3.8 -4.8 -2.2 -5.5 -4z"/>
<path class="m c7" d="M514.2 128.1l5.7 2.4 -4.8 -3.1 -5.6 -2.7z"/>
<path class="n c8" d="M488.7 114.4l5.8 1 -4.7 -4 -4.9 -1.1 1.7 2.1z"/>
<path class="n c9" d="M484.9 110.3l-0.8 -0.2 2.5 2.3z"/>
<path class="o" d="M488.7 114.4l5.8 1 -4.7 -4 -5.7 -1.3z"/>
<path class="n c9" d="M463.2 100.7l5.8 -0.4 -4.5 -4.9 -1.4 0 0.1 5.3z"/>
<path class="n c10" d="M463.1 95.4l-4.5 0.1 4.6 5.2z"/>
<path class="o" d="M463.2 100.7l5.8 -0.4 -4.5 -4.9 -5.9 0.1z"/>
<path class="n c7" d="M507.7 124.2l1.8 0.5 -4.7 -3.5 -1.3 -0.4z"/>
<path class="n c8" d="M503.8 123.1l3.9 1.1 -4.2 -3.4 -4.4 -1.5z"/>
<path class="o" d="M503.8 123.1l5.7 1.6 -4.7 -3.5 -5.7 -1.9z"/>
<path class="k" d="M529.4 136.3l5.5 3 -4.8 -2.6 -5.5 -3.2z"/>
<path class="m c9" d="M478.2 109.9l5.9 0.2 -4.6 -4.4 -5.9 -0.5z"/>
<path class="k" d="M555.1 149.5l5.3 4.3 -5 -1.6 -5.3 -4.6z"/>
<path class="k" d="M580.8 162.7l5 5.7 -5.1 -0.8 -5.1 -5.9z"/>
<path class="m c9" d="M467.7 105.8l5.9 -0.6 -4.6 -4.9 -5.8 0.4z"/>
<path class="m c8" d="M493.3 118.5l5.8 0.8 -4.6 -3.9 -5.8 -1z"/>
<path class="m c7" d="M519 131.3l5.6 2.2 -4.7 -3 -5.7 -2.4z"/>
<path class="k" d="M544.7 144l5.4 3.6 -4.9 -2.1 -5.4 -3.8z"/>
<path class="k" d="M570.4 156.7l5.2 5 -5 -1.2 -5.2 -5.1z"/>
<path class="n c9" d="M463.2 100.7l0 0 0 0z"/>
<path class="n c10" d="M457.3 102.2l5.9 -1.5 0 0 -4.6 -5.2 -5.9 1.2z"/>
<path class="o" d="M457.3 102.2l5.9 -1.5 -4.6 -5.2 -5.9 1.2z"/>
<path class="n c8" d="M487.5 114.4l1.2 0 -2.1 -2z"/>
<path class="n c9" d="M482.9 114.4l4.6 0 -0.9 -2 -2.5 -2.3 -5.9 -0.2z"/>
<path class="o" d="M482.9 114.4l5.8 0 -4.6 -4.3 -5.9 -0.2z"/>
<path class="n c7" d="M511.9 127.5l2.3 0.6 -4.7 -3.4 -1.8 -0.5z"/>
<path class="n c8" d="M508.5 126.7l3.4 0.8 -4.2 -3.3 -3.9 -1.1z"/>
<path class="o" d="M508.5 126.7l5.7 1.4 -4.7 -3.4 -5.7 -1.6z"/>
<path class="n c6" d="M536.4 140l3.4 1.7 -4.9 -2.4 -3.7 -2z"/>
<path class="n c7" d="M534.3 139l2.1 1 -5.2 -2.7 -1.8 -1z"/>
<path class="o" d="M534.3 139l5.5 2.7 -4.9 -2.4 -5.5 -3z"/>
<path class="m c9" d="M472.4 110.8l5.8 -0.9 -4.6 -4.7 -5.9 0.6z"/>
<path class="k" d="M560.1 151.2l5.3 4.2 -5 -1.6 -5.3 -4.3z"/>
<path class="m c8" d="M498 122.5l5.8 0.6 -4.7 -3.8 -5.8 -0.8z"/>
<path class="k" d="M585.9 163.5l5.1 5.5 -5.2 -0.6 -5 -5.7z"/>
<path class="n c9" d="M461.8 107.6l5.9 -1.8 -4.5 -5.1 0 0 -4.1 3.7z"/>
<path class="n c10" d="M463.2 100.7l-5.9 1.5 1.8 2.2z"/>
<path class="o" d="M461.8 107.6l5.9 -1.8 -4.5 -5.1 -5.9 1.5z"/>
<path class="m c7" d="M523.8 134.3l5.6 2 -4.8 -2.8 -5.6 -2.2z"/>
<path class="m c10" d="M451.3 104.8l6 -2.6 -4.6 -5.5 -5.9 2.3z"/>
<path class="n c8" d="M489.1 118.8l4.2 -0.3 -4.6 -4.1 -1.2 0z"/>
<path class="n c9" d="M487.5 118.8l1.6 0 -1.6 -4.4 -4.6 0z"/>
<path class="o" d="M487.5 118.8l5.8 -0.3 -4.6 -4.1 -5.8 0z"/>
<path class="k" d="M549.6 146.1l5.5 3.4 -5 -1.9 -5.4 -3.6z"/>
<path class="n c7" d="M516.1 130.7l2.9 0.6 -4.8 -3.2 -2.3 -0.6z"/>
<path class="n c8" d="M513.3 130.2l2.8 0.5 -4.2 -3.2 -3.4 -0.8z"/>
<path class="o" d="M513.3 130.2l5.7 1.1 -4.8 -3.2 -5.7 -1.4z"/>
<path class="m c9" d="M477 115.6l5.9 -1.2 -4.7 -4.5 -5.8 0.9z"/>
<path class="k" d="M575.6 158l5.2 4.7 -5.2 -1 -5.2 -5z"/>
<path class="m c9" d="M466.5 112.8l5.9 -2 -4.7 -5 -5.9 1.8z"/>
<path class="n c6" d="M541.7 142.6l3 1.4 -4.9 -2.3 -3.4 -1.7z"/>
<path class="n c7" d="M539.2 141.5l2.5 1.1 -5.3 -2.6 -2.1 -1z"/>
<path class="o" d="M539.2 141.5l5.5 2.5 -4.9 -2.3 -5.5 -2.7z"/>
<path class="m c8" d="M502.8 126.4l5.7 0.3 -4.7 -3.6 -5.8 -0.6z"/>
<path class="n c9" d="M455.9 110.4l5.9 -2.8 -2.7 -3.2 -6.9 1.5z"/>
<path class="n c10" d="M459.1 104.4l-1.8 -2.2 -6 2.6 0.9 1.1z"/>
<path class="o" d="M455.9 110.4l5.9 -2.8 -4.5 -5.4 -6 2.6z"/>
<path class="n c9" d="M445.4 108.5l4.2 -2.6 -6.1 0.2z"/>
<path class="n c10" d="M449.6 105.9l1.7 -1.1 -4.5 -5.8 -6 3.5 2.7 3.6z"/>
<path class="o" d="M445.4 108.5l5.9 -3.7 -4.5 -5.8 -6 3.5z"/>
<path class="k" d="M565.1 152.8l5.3 3.9 -5 -1.3 -5.3 -4.2z"/>
<path class="n c8" d="M492.2 123.1l5.8 -0.6 -4.7 -4 -4.2 0.3 0.5 1.9z"/>
<path class="n c9" d="M489.1 118.8l-1.6 0 2.1 1.9z"/>
<path class="o" d="M492.2 123.1l5.8 -0.6 -4.7 -4 -5.8 0.3z"/>
<path class="m c7" d="M528.7 137.3l5.6 1.7 -4.9 -2.7 -5.6 -2z"/>
<path class="m c9" d="M481.7 120.3l5.8 -1.5 -4.6 -4.4 -5.9 1.2z"/>
<path class="m c9" d="M471.1 117.9l5.9 -2.3 -4.6 -4.8 -5.9 2z"/>
<path class="k" d="M554.6 148.1l5.5 3.1 -5 -1.7 -5.5 -3.4z"/>
<path class="n c7" d="M520.3 133.8l3.5 0.5 -4.8 -3 -2.9 -0.6z"/>
<path class="n c8" d="M518.1 133.5l2.2 0.3 -4.2 -3.1 -2.8 -0.5z"/>
<path class="o" d="M518.1 133.5l5.7 0.8 -4.8 -3 -5.7 -1.1z"/>
<path class="m c9" d="M460.5 115.9l6 -3.1 -4.7 -5.2 -5.9 2.8z"/>
<path class="n c9" d="M439.5 113.4l5.9 -4.9 -1.9 -2.4 -6.6 -0.6 -2 1.6z"/>
<path class="n c10" d="M443.5 106.1l-2.7 -3.6 -3.9 3z"/>
<path class="o" d="M439.5 113.4l5.9 -4.9 -4.6 -6 -5.9 4.6z"/>
<path class="n c9" d="M450 114.5l5.9 -4.1 -3.7 -4.5 -2.6 0 -4.2 2.6z"/>
<path class="n c10" d="M452.2 105.9l-0.9 -1.1 -1.7 1.1z"/>
<path class="o" d="M450 114.5l5.9 -4.1 -4.6 -5.6 -5.9 3.7z"/>
<path class="m c8" d="M507.5 130.1l5.8 0.1 -4.8 -3.5 -5.7 -0.3z"/>
<path class="k" d="M580.8 159l5.1 4.5 -5.1 -0.8 -5.2 -4.7z"/>
<path class="n c6" d="M547.2 145.1l2.4 1 -4.9 -2.1 -3 -1.4z"/>
<path class="n c7" d="M544.1 143.9l3.1 1.2 -5.5 -2.5 -2.5 -1.1z"/>
<path class="o" d="M544.1 143.9l5.5 2.2 -4.9 -2.1 -5.5 -2.5z"/>
<path class="m c8" d="M496.9 127.3l5.9 -0.9 -4.8 -3.9 -5.8 0.6z"/>
<path class="m c9" d="M433.6 119.5l5.9 -6.1 -4.6 -6.3 -5.9 5.8z"/>
<path class="n c8" d="M486.4 124.8l5.8 -1.7 -2.6 -2.4 -4 3.4z"/>
<path class="n c9" d="M489.6 120.7l-2.1 -1.9 -5.8 1.5 3.9 3.8z"/>
<path class="o" d="M486.4 124.8l5.8 -1.7 -4.7 -4.3 -5.8 1.5z"/>
<path class="m c9" d="M444.1 119.6l5.9 -5.1 -4.6 -6 -5.9 4.9z"/>
<path class="m c7" d="M533.6 140l5.6 1.5 -4.9 -2.5 -5.6 -1.7z"/>
<path class="m c9" d="M475.8 122.8l5.9 -2.5 -4.7 -4.7 -5.9 2.3z"/>
<path class="m c9" d="M454.6 120.2l5.9 -4.3 -4.6 -5.5 -5.9 4.1z"/>
<path class="m c9" d="M465.2 121.3l5.9 -3.4 -4.6 -5.1 -6 3.1z"/>
<path class="k" d="M570.3 154.3l5.3 3.7 -5.2 -1.3 -5.3 -3.9z"/>
<path class="n c8" d="M427.7 126.6l5.7 -7 -8.6 -1.8 -1.7 2z"/>
<path class="n c9" d="M433.4 119.6l0.2 -0.1 -4.6 -6.6 -4.2 4.9z"/>
<path class="o" d="M427.7 126.6l5.9 -7.1 -4.6 -6.6 -5.9 6.9z"/>
<path class="n c7" d="M524.6 136.8l4.1 0.5 -4.9 -3 -3.5 -0.5z"/>
<path class="n c8" d="M523 136.7l1.6 0.1 -4.3 -3 -2.2 -0.3z"/>
<path class="o" d="M523 136.7l5.7 0.6 -4.9 -3 -5.7 -0.8z"/>
<path class="n c8" d="M438.2 125.9l4.4 -4.7 -8.8 -1.5z"/>
<path class="n c9" d="M442.6 121.2l1.5 -1.6 -4.6 -6.2 -5.9 6.1 0.2 0.2z"/>
<path class="o" d="M438.2 125.9l5.9 -6.3 -4.6 -6.2 -5.9 6.1z"/>
<path class="k" d="M559.7 150l5.4 2.8 -5 -1.6 -5.5 -3.1z"/>
<path class="m c8" d="M512.3 133.7l5.8 -0.2 -4.8 -3.3 -5.8 -0.1z"/>
<path class="n c8" d="M448.7 125.7l3.2 -3 -6.1 -0.8z"/>
<path class="n c9" d="M451.9 122.7l2.7 -2.5 -4.6 -5.7 -5.9 5.1 1.7 2.3z"/>
<path class="o" d="M448.7 125.7l5.9 -5.5 -4.6 -5.7 -5.9 5.1z"/>
<path class="m c8" d="M501.7 131.2l5.8 -1.1 -4.7 -3.7 -5.9 0.9z"/>
<path class="n c7" d="M432.3 133.3l0.8 -0.9 -1.7 -0.4z"/>
<path class="n c8" d="M433.1 132.4l5.1 -6.5 -4.4 -6.2 -0.4 -0.1 -5.7 7 3.7 5.4z"/>
<path class="n c9" d="M433.8 119.7l-0.2 -0.2 -0.2 0.1z"/>
<path class="o" d="M432.3 133.3l5.9 -7.4 -4.6 -6.4 -5.9 7.1z"/>
<path class="n c8" d="M459.3 125.9l2.5 -2 -4.4 -0.3z"/>
<path class="n c9" d="M461.8 123.9l3.4 -2.6 -4.7 -5.4 -5.9 4.3 2.8 3.4z"/>
<path class="o" d="M459.3 125.9l5.9 -4.6 -4.7 -5.4 -5.9 4.3z"/>
<path class="m c8" d="M491.1 129.2l5.8 -1.9 -4.7 -4.2 -5.8 1.7z"/>
<path class="n c8" d="M469.9 126.5l2.8 -1.7 -4.5 -0.1z"/>
<path class="n c9" d="M472.7 124.8l3.1 -2 -4.7 -4.9 -5.9 3.4 3 3.4z"/>
<path class="o" d="M469.9 126.5l5.9 -3.7 -4.7 -4.9 -5.9 3.4z"/>
<path class="n c8" d="M480.5 127.6l5.9 -2.8 -0.8 -0.7 -7.7 0.9z"/>
<path class="n c9" d="M485.6 124.1l-3.9 -3.8 -5.9 2.5 2.1 2.2z"/>
<path class="o" d="M480.5 127.6l5.9 -2.8 -4.7 -4.5 -5.9 2.5z"/>
<path class="n c6" d="M552.9 147.5l1.7 0.6 -5 -2 -2.4 -1z"/>
<path class="n c7" d="M549.1 146.1l3.8 1.4 -5.7 -2.4 -3.1 -1.2z"/>
<path class="o" d="M549.1 146.1l5.5 2 -5 -2 -5.5 -2.2z"/>
<path class="n c8" d="M442.8 132.2l5.9 -6.5 -2.9 -3.8 -3.2 -0.7 -4.4 4.7z"/>
<path class="n c9" d="M445.8 121.9l-1.7 -2.3 -1.5 1.6z"/>
<path class="o" d="M442.8 132.2l5.9 -6.5 -4.6 -6.1 -5.9 6.3z"/>
<path class="m c7" d="M538.5 142.7l5.6 1.2 -4.9 -2.4 -5.6 -1.5z"/>
<path class="n c8" d="M453.4 131.6l5.9 -5.7 -1.9 -2.3 -5.5 -0.9 -3.2 3z"/>
<path class="n c9" d="M457.4 123.6l-2.8 -3.4 -2.7 2.5z"/>
<path class="o" d="M453.4 131.6l5.9 -5.7 -4.7 -5.7 -5.9 5.5z"/>
<path class="n c7" d="M436.9 139.9l4.4 -5.7 -8.2 -1.8 -0.8 0.9z"/>
<path class="n c8" d="M441.3 134.2l1.5 -2 -4.6 -6.3 -5.1 6.5z"/>
<path class="o" d="M436.9 139.9l5.9 -7.7 -4.6 -6.3 -5.9 7.4z"/>
<path class="n c7" d="M528.8 139.7l4.8 0.3 -4.9 -2.7 -4.1 -0.5z"/>
<path class="n c8" d="M527.9 139.7l0.9 0 -4.2 -2.9 -1.6 -0.1z"/>
<path class="o" d="M527.9 139.7l5.7 0.3 -4.9 -2.7 -5.7 -0.6z"/>
<path class="k" d="M575.4 155.6l5.4 3.4 -5.2 -1 -5.3 -3.7z"/>
<path class="n c8" d="M463.9 131.4l6 -4.9 -1.7 -1.8 -6.4 -0.8 -2.5 2z"/>
<path class="n c9" d="M468.2 124.7l-3 -3.4 -3.4 2.6z"/>
<path class="o" d="M463.9 131.4l6 -4.9 -4.7 -5.2 -5.9 4.6z"/>
<path class="m c8" d="M517.2 137.2l5.8 -0.5 -4.9 -3.2 -5.8 0.2z"/>
<path class="n c8" d="M474.5 131.6l6 -4 -2.6 -2.6 -5.2 -0.2 -2.8 1.7z"/>
<path class="n c9" d="M477.9 125l-2.1 -2.2 -3.1 2z"/>
<path class="o" d="M474.5 131.6l6 -4 -4.7 -4.8 -5.9 3.7z"/>
<path class="m c8" d="M506.5 135.1l5.8 -1.4 -4.8 -3.6 -5.8 1.1z"/>
<path class="n c7" d="M447.5 138.4l2 -2.4 -4.5 -0.9z"/>
<path class="n c8" d="M449.5 136l3.9 -4.4 -4.7 -5.9 -5.9 6.5 2.2 2.9z"/>
<path class="o" d="M447.5 138.4l5.9 -6.8 -4.7 -5.9 -5.9 6.5z"/>
<path class="m c8" d="M485.2 132.3l5.9 -3.1 -4.7 -4.4 -5.9 2.8z"/>
<path class="m c8" d="M495.9 133.5l5.8 -2.3 -4.8 -3.9 -5.8 1.9z"/>
<path class="k" d="M564.8 151.6l5.5 2.7 -5.2 -1.5 -5.4 -2.8z"/>
<path class="n c7" d="M441.6 146.4l5.9 -8 -2.5 -3.3 -3.7 -0.9 -4.4 5.7z"/>
<path class="n c8" d="M445 135.1l-2.2 -2.9 -1.5 2z"/>
<path class="o" d="M441.6 146.4l5.9 -8 -4.7 -6.2 -5.9 7.7z"/>
<path class="m c8" d="M458 137.3l5.9 -5.9 -4.6 -5.5 -5.9 5.7z"/>
<path class="n c6" d="M558.8 149.7l0.9 0.3 -5.1 -1.9 -1.7 -0.6z"/>
<path class="n c7" d="M554.2 148.2l4.6 1.5 -5.9 -2.2 -3.8 -1.4z"/>
<path class="o" d="M554.2 148.2l5.5 1.8 -5.1 -1.9 -5.5 -2z"/>
<path class="m c8" d="M468.6 136.7l5.9 -5.1 -4.6 -5.1 -6 4.9z"/>
<path class="m c7" d="M543.5 145.1l5.6 1 -5 -2.2 -5.6 -1.2z"/>
<path class="n c7" d="M452.1 144.4l5.6 -6.6 -8.2 -1.8 -2 2.4z"/>
<path class="n c8" d="M457.7 137.8l0.3 -0.5 -4.6 -5.7 -3.9 4.4z"/>
<path class="o" d="M452.1 144.4l5.9 -7.1 -4.6 -5.7 -5.9 6.8z"/>
<path class="m c8" d="M479.3 136.5l5.9 -4.2 -4.7 -4.7 -6 4z"/>
<path class="n c7" d="M532.9 142.6l5.6 0.1 -4.9 -2.7 -4.8 -0.3z"/>
<path class="n c8" d="M532.8 142.6l0.1 0 -4.1 -2.9 -0.9 0z"/>
<path class="o" d="M532.8 142.6l5.7 0.1 -4.9 -2.7 -5.7 -0.3z"/>
<path class="n c6" d="M446.2 152.7l3.1 -4.4 -7.5 -1.7z"/>
<path class="n c7" d="M449.3 148.3l2.8 -3.9 -4.6 -6 -5.9 8 0.2 0.2z"/>
<path class="o" d="M446.2 152.7l5.9 -8.3 -4.6 -6 -5.9 8z"/>
<path class="m c8" d="M490 136.8l5.9 -3.3 -4.8 -4.3 -5.9 3.1z"/>
<path class="m c8" d="M522.1 140.4l5.8 -0.7 -4.9 -3 -5.8 0.5z"/>
<path class="m c8" d="M500.7 137.6l5.8 -2.5 -4.8 -3.9 -5.8 2.3z"/>
<path class="m c8" d="M511.4 138.8l5.8 -1.6 -4.9 -3.5 -5.8 1.4z"/>
<path class="n c7" d="M462.7 142.9l3.4 -3.5 -7.5 -1.4z"/>
<path class="n c8" d="M466.1 139.4l2.5 -2.7 -4.7 -5.3 -5.9 5.9 0.6 0.7z"/>
<path class="o" d="M462.7 142.9l5.9 -6.2 -4.7 -5.3 -5.9 5.9z"/>
<path class="n c7" d="M473.3 141.9l1.1 -0.9 -2.2 -0.4z"/>
<path class="n c8" d="M474.4 141l4.9 -4.5 -4.8 -4.9 -5.9 5.1 3.6 3.9z"/>
<path class="o" d="M473.3 141.9l6 -5.4 -4.8 -4.9 -5.9 5.1z"/>
<path class="n c6" d="M456.8 150.3l0.1 -0.1 -0.2 0z"/>
<path class="n c7" d="M456.9 150.2l5.8 -7.3 -4.1 -4.9 -0.9 -0.2 -5.6 6.6 4.6 5.8z"/>
<path class="n c8" d="M458.6 138l-0.6 -0.7 -0.3 0.5z"/>
<path class="o" d="M456.8 150.3l5.9 -7.4 -4.7 -5.6 -5.9 7.1z"/>
<path class="k" d="M570 153.2l5.4 2.4 -5.1 -1.3 -5.5 -2.7z"/>
<path class="n c6" d="M450.9 158.8l5.9 -8.5 -0.1 -0.1 -7.4 -1.9 -3.1 4.4z"/>
<path class="n c7" d="M456.7 150.2l-4.6 -5.8 -2.8 3.9z"/>
<path class="o" d="M450.9 158.8l5.9 -8.5 -4.7 -5.9 -5.9 8.3z"/>
<path class="m c8" d="M484 141.3l6 -4.5 -4.8 -4.5 -5.9 4.2z"/>
<path class="n c6" d="M564.4 151.5l-4.7 -1.5 -0.9 -0.3z"/>
<path class="n c7" d="M559.3 150.1l5.5 1.5 -0.4 -0.1 -5.6 -1.8 -4.6 -1.5z"/>
<path class="o" d="M559.3 150.1l5.5 1.5 -5.1 -1.6 -5.5 -1.8z"/>
<path class="m c8" d="M494.7 141.2l6 -3.6 -4.8 -4.1 -5.9 3.3z"/>
<path class="n c7" d="M467.4 148.4l5.9 -6.5 -1.1 -1.3 -6.1 -1.2 -3.4 3.5z"/>
<path class="n c8" d="M472.2 140.6l-3.6 -3.9 -2.5 2.7z"/>
<path class="o" d="M467.4 148.4l5.9 -6.5 -4.7 -5.2 -5.9 6.2z"/>
<path class="m c7" d="M548.6 147.5l5.6 0.7 -5.1 -2.1 -5.6 -1z"/>
<path class="m c8" d="M505.5 141.5l5.9 -2.7 -4.9 -3.7 -5.8 2.5z"/>
<path class="n c7" d="M537.8 145.3l5.7 -0.2 -5 -2.4 -5.6 -0.1 0.6 0.4z"/>
<path class="n c8" d="M532.9 142.6l-0.1 0 0.7 0.4z"/>
<path class="o" d="M537.8 145.3l5.7 -0.2 -5 -2.4 -5.7 -0.1z"/>
<path class="m c8" d="M516.3 142.3l5.8 -1.9 -4.9 -3.2 -5.8 1.6z"/>
<path class="m c8" d="M527 143.6l5.8 -1 -4.9 -2.9 -5.8 0.7z"/>
<path class="n c6" d="M461.5 156.1l3.2 -4.2 -7.8 -1.7 -0.1 0.1z"/>
<path class="n c7" d="M464.7 151.9l2.7 -3.5 -4.7 -5.5 -5.8 7.3z"/>
<path class="o" d="M461.5 156.1l5.9 -7.7 -4.7 -5.5 -5.9 7.4z"/>
<path class="n c7" d="M478.1 147l4.8 -4.5 -8.5 -1.5 -1.1 0.9z"/>
<path class="n c8" d="M482.9 142.5l1.1 -1.2 -4.7 -4.8 -4.9 4.5z"/>
<path class="o" d="M478.1 147l5.9 -5.7 -4.7 -4.8 -6 5.4z"/>
<path class="n c5" d="M455.6 164.8l1.9 -2.8 -5 -1.2z"/>
<path class="n c6" d="M457.5 162l4 -5.9 -4.7 -5.8 -5.9 8.5 1.6 2z"/>
<path class="o" d="M455.6 164.8l5.9 -8.7 -4.7 -5.8 -5.9 8.5z"/>
<path class="n c7" d="M488.8 146l2.7 -2.2 -5.7 -0.8z"/>
<path class="n c8" d="M491.5 143.8l3.2 -2.6 -4.7 -4.4 -6 4.5 1.8 1.7z"/>
<path class="o" d="M488.8 146l5.9 -4.8 -4.7 -4.4 -6 4.5z"/>
<path class="n c6" d="M472.2 153.8l0 -0.1 -0.1 0z"/>
<path class="n c7" d="M472.2 153.7l5.9 -6.7 -4.8 -5.1 -5.9 6.5 4.7 5.3z"/>
<path class="o" d="M472.2 153.8l5.9 -6.8 -4.8 -5.1 -5.9 6.5z"/>
<path class="n c7" d="M499.6 145.5l0.3 -0.3 -0.6 0z"/>
<path class="n c8" d="M499.9 145.2l5.6 -3.7 -4.8 -3.9 -6 3.6 4.6 4z"/>
<path class="o" d="M499.6 145.5l5.9 -4 -4.8 -3.9 -6 3.6z"/>
<path class="n c6" d="M466.2 161.7l6 -7.9 -0.1 -0.1 -7.4 -1.8 -3.2 4.2z"/>
<path class="n c7" d="M472.1 153.7l-4.7 -5.3 -2.7 3.5z"/>
<path class="o" d="M466.2 161.7l6 -7.9 -4.8 -5.4 -5.9 7.7z"/>
<path class="m c7" d="M564.5 151.9l5.5 1.3 -5.2 -1.6 -5.5 -1.5z"/>
<path class="m c8" d="M510.4 145.4l5.9 -3.1 -4.9 -3.5 -5.9 2.7z"/>
<path class="n c5" d="M460.3 170.7l4.5 -6.9 -7.3 -1.8 -1.9 2.8z"/>
<path class="n c6" d="M464.8 163.8l1.4 -2.1 -4.7 -5.6 -4 5.9z"/>
<path class="o" d="M460.3 170.7l5.9 -9 -4.7 -5.6 -5.9 8.7z"/>
<path class="n c7" d="M482.9 151.9l5.9 -5.9 -3 -3 -2.9 -0.5 -4.8 4.5z"/>
<path class="n c8" d="M485.8 143l-1.8 -1.7 -1.1 1.2z"/>
<path class="o" d="M482.9 151.9l5.9 -5.9 -4.8 -4.7 -5.9 5.7z"/>
<path class="m c7" d="M553.7 149.6l5.6 0.5 -5.1 -1.9 -5.6 -0.7z"/>
<path class="m c8" d="M521.2 145.7l5.8 -2.1 -4.9 -3.2 -5.8 1.9z"/>
<path class="m c7" d="M542.8 147.9l5.8 -0.4 -5.1 -2.4 -5.7 0.2z"/>
<path class="n c7" d="M535.4 145.8l2.4 -0.5 -4.3 -2.3z"/>
<path class="n c8" d="M532 146.6l3.4 -0.8 -1.9 -2.8 -0.7 -0.4 -5.8 1z"/>
<path class="o" d="M532 146.6l5.8 -1.3 -5 -2.7 -5.8 1z"/>
<path class="n c7" d="M493.6 150.5l6 -5 -0.3 -0.3 -7.8 -1.4 -2.7 2.2z"/>
<path class="n c8" d="M499.3 145.2l-4.6 -4 -3.2 2.6z"/>
<path class="o" d="M493.6 150.5l6 -5 -4.9 -4.3 -5.9 4.8z"/>
<path class="n c6" d="M476.9 159l3.1 -3.7 -7.8 -1.6 0 0.1z"/>
<path class="n c7" d="M480 155.3l2.9 -3.4 -4.8 -4.9 -5.9 6.7z"/>
<path class="o" d="M476.9 159l6 -7.1 -4.8 -4.9 -5.9 6.8z"/>
<path class="n c5" d="M471 167.2l1.2 -1.7 -3.2 -0.7z"/>
<path class="n c6" d="M472.2 165.5l4.7 -6.5 -4.7 -5.2 -6 7.9 2.8 3.1z"/>
<path class="o" d="M471 167.2l5.9 -8.2 -4.7 -5.2 -6 7.9z"/>
<path class="n c7" d="M504.4 149.6l4.5 -3.2 -9 -1.2 -0.3 0.3z"/>
<path class="n c8" d="M508.9 146.4l1.5 -1 -4.9 -3.9 -5.6 3.7z"/>
<path class="o" d="M504.4 149.6l6 -4.2 -4.9 -3.9 -5.9 4z"/>
<path class="n c4" d="M465.1 176.5l0.8 -1.3 -2.3 -0.5z"/>
<path class="n c5" d="M465.9 175.2l5.1 -8 -2 -2.4 -4.2 -1 -4.5 6.9 3.3 4z"/>
<path class="n c6" d="M469 164.8l-2.8 -3.1 -1.4 2.1z"/>
<path class="o" d="M465.1 176.5l5.9 -9.3 -4.8 -5.5 -5.9 9z"/>
<path class="m c7" d="M487.7 156.7l5.9 -6.2 -4.8 -4.5 -5.9 5.9z"/>
<path class="n c7" d="M515.3 149.1l2.9 -1.7 -5.7 -0.4z"/>
<path class="n c8" d="M518.2 147.4l3 -1.7 -4.9 -3.4 -5.9 3.1 2.1 1.6z"/>
<path class="o" d="M515.3 149.1l5.9 -3.4 -4.9 -3.4 -5.9 3.1z"/>
<path class="n c7" d="M526.2 149l2.1 -0.9 -3.2 0.2z"/>
<path class="n c8" d="M528.3 148.1l3.7 -1.5 -5 -3 -5.8 2.1 3.9 2.6z"/>
<path class="o" d="M526.2 149l5.8 -2.4 -5 -3 -5.8 2.1z"/>
<path class="n c7" d="M537 149.4l5.8 -1.5 -5 -2.6 -2.4 0.5 -0.2 2.6z"/>
<path class="n c8" d="M535.4 145.8l-3.4 0.8 3.2 1.8z"/>
<path class="o" d="M537 149.4l5.8 -1.5 -5 -2.6 -5.8 1.3z"/>
<path class="n c6" d="M481.7 164l5.8 -7 -7.5 -1.7 -3.1 3.7z"/>
<path class="n c7" d="M487.5 157l0.2 -0.3 -4.8 -4.8 -2.9 3.4z"/>
<path class="o" d="M481.7 164l6 -7.3 -4.8 -4.8 -6 7.1z"/>
<path class="m c7" d="M558.8 151.7l5.7 0.2 -5.2 -1.8 -5.6 -0.5z"/>
<path class="m c7" d="M547.9 150.3l5.8 -0.7 -5.1 -2.1 -5.8 0.4z"/>
<path class="m c7" d="M498.5 154.9l5.9 -5.3 -4.8 -4.1 -6 5z"/>
<path class="n c5" d="M475.8 172.5l3.7 -5.3 -7.3 -1.7 -1.2 1.7z"/>
<path class="n c6" d="M479.5 167.2l2.2 -3.2 -4.8 -5 -4.7 6.5z"/>
<path class="o" d="M475.8 172.5l5.9 -8.5 -4.8 -5 -5.9 8.2z"/>
<path class="n c4" d="M469.8 182.1l3.2 -5.2 -7.1 -1.7 -0.8 1.3z"/>
<path class="n c5" d="M473 176.9l2.8 -4.4 -4.8 -5.3 -5.1 8z"/>
<path class="o" d="M469.8 182.1l6 -9.6 -4.8 -5.3 -5.9 9.3z"/>
<path class="n c7" d="M509.4 153.5l5.9 -4.4 -2.8 -2.1 -3.6 -0.6 -4.5 3.2z"/>
<path class="n c8" d="M512.5 147l-2.1 -1.6 -1.5 1z"/>
<path class="o" d="M509.4 153.5l5.9 -4.4 -4.9 -3.7 -6 4.2z"/>
<path class="n c6" d="M492.5 161.4l2.6 -2.9 -7 -1.4z"/>
<path class="n c7" d="M495.1 158.5l3.4 -3.6 -4.9 -4.4 -5.9 6.2 0.4 0.4z"/>
<path class="o" d="M492.5 161.4l6 -6.5 -4.9 -4.4 -5.9 6.2z"/>
<path class="n c7" d="M520.3 152.6l5.9 -3.6 -1.1 -0.7 -6.9 -0.9 -2.9 1.7z"/>
<path class="n c8" d="M525.1 148.3l-3.9 -2.6 -3 1.7z"/>
<path class="o" d="M520.3 152.6l5.9 -3.6 -5 -3.3 -5.9 3.4z"/>
<path class="n c5" d="M486.6 169l0 -0.1 -0.1 0z"/>
<path class="n c6" d="M486.6 168.9l5.9 -7.5 -4.4 -4.3 -0.6 -0.1 -5.8 7 4.8 4.9z"/>
<path class="n c7" d="M488.1 157.1l-0.4 -0.4 -0.2 0.3z"/>
<path class="o" d="M486.6 169l5.9 -7.6 -4.8 -4.7 -6 7.3z"/>
<path class="n c7" d="M531.2 152.1l5.8 -2.7 -1.8 -1 -6.9 -0.3 -2.1 0.9z"/>
<path class="n c8" d="M535.2 148.4l-3.2 -1.8 -3.7 1.5z"/>
<path class="o" d="M531.2 152.1l5.8 -2.7 -5 -2.8 -5.8 2.4z"/>
<path class="n c5" d="M480.6 177.7l6 -8.7 -0.1 -0.1 -7 -1.7 -3.7 5.3z"/>
<path class="n c6" d="M486.5 168.9l-4.8 -4.9 -2.2 3.2z"/>
<path class="o" d="M480.6 177.7l6 -8.7 -4.9 -5 -5.9 8.5z"/>
<path class="m c7" d="M503.4 159.1l6 -5.6 -5 -3.9 -5.9 5.3z"/>
<path class="n c4" d="M474.6 187.6l5.4 -9 -7 -1.7 -3.2 5.2z"/>
<path class="n c5" d="M480 178.6l0.6 -0.9 -4.8 -5.2 -2.8 4.4z"/>
<path class="o" d="M474.6 187.6l6 -9.9 -4.8 -5.2 -6 9.6z"/>
<path class="m c7" d="M542.1 152.1l5.8 -1.8 -5.1 -2.4 -5.8 1.5z"/>
<path class="m c7" d="M553.1 152.6l5.7 -0.9 -5.1 -2.1 -5.8 0.7z"/>
<path class="m c7" d="M514.3 157.3l6 -4.7 -5 -3.5 -5.9 4.4z"/>
<path class="n c6" d="M497.4 165.9l5.1 -5.8 -7.4 -1.6 -2.6 2.9z"/>
<path class="n c7" d="M502.5 160.1l0.9 -1 -4.9 -4.2 -3.4 3.6z"/>
<path class="o" d="M497.4 165.9l6 -6.8 -4.9 -4.2 -6 6.5z"/>
<path class="n c5" d="M491.4 173.8l2.5 -3.3 -7.3 -1.6 0 0.1z"/>
<path class="n c6" d="M493.9 170.5l3.5 -4.6 -4.9 -4.5 -5.9 7.5z"/>
<path class="o" d="M491.4 173.8l6 -7.9 -4.9 -4.5 -5.9 7.6z"/>
<path class="m c7" d="M525.3 156l5.9 -3.9 -5 -3.1 -5.9 3.6z"/>
<path class="n c3" d="M479.5 192.9l1.9 -3.3 -6.1 -1.3z"/>
<path class="n c4" d="M481.4 189.6l4 -6.8 -3.5 -3.7 -1.9 -0.5 -5.4 9 0.7 0.7z"/>
<path class="n c5" d="M481.9 179.1l-1.3 -1.4 -0.6 0.9z"/>
<path class="o" d="M479.5 192.9l5.9 -10.1 -4.8 -5.1 -6 9.9z"/>
<path class="n c4" d="M485.4 182.8l1.7 -2.6 -5.2 -1.1z"/>
<path class="n c5" d="M487.1 180.2l4.3 -6.4 -4.8 -4.8 -6 8.7 1.3 1.4z"/>
<path class="o" d="M485.4 182.8l6 -9 -4.8 -4.8 -6 8.7z"/>
<path class="n c6" d="M508.3 163.2l1.7 -1.6 -4.7 -0.9z"/>
<path class="n c7" d="M510 161.6l4.3 -4.3 -4.9 -3.8 -6 5.6 1.9 1.6z"/>
<path class="o" d="M508.3 163.2l6 -5.9 -4.9 -3.8 -6 5.6z"/>
<path class="m c7" d="M536.3 155.1l5.8 -3 -5.1 -2.7 -5.8 2.7z"/>
<path class="m c7" d="M547.3 154.7l5.8 -2.1 -5.2 -2.3 -5.8 1.8z"/>
<path class="n c6" d="M502.3 170.2l6 -7 -3 -2.5 -2.8 -0.6 -5.1 5.8z"/>
<path class="n c7" d="M505.3 160.7l-1.9 -1.6 -0.9 1z"/>
<path class="o" d="M502.3 170.2l6 -7 -4.9 -4.1 -6 6.8z"/>
<path class="m c7" d="M519.3 161l6 -5 -5 -3.4 -6 4.7z"/>
<path class="n c5" d="M496.3 178.4l4.7 -6.4 -7.1 -1.5 -2.5 3.3z"/>
<path class="n c6" d="M501 172l1.3 -1.8 -4.9 -4.3 -3.5 4.6z"/>
<path class="o" d="M496.3 178.4l6 -8.2 -4.9 -4.3 -6 7.9z"/>
<path class="n c3" d="M484.3 198.1l4 -6.9 -6.9 -1.6 -1.9 3.3z"/>
<path class="n c4" d="M488.3 191.2l2 -3.5 -4.9 -4.9 -4 6.8z"/>
<path class="o" d="M484.3 198.1l6 -10.4 -4.9 -4.9 -5.9 10.1z"/>
<path class="n c4" d="M490.3 187.7l3.8 -5.9 -7 -1.6 -1.7 2.6z"/>
<path class="n c5" d="M494.1 181.8l2.2 -3.4 -4.9 -4.6 -4.3 6.4z"/>
<path class="o" d="M490.3 187.7l6 -9.3 -4.9 -4.6 -6 9z"/>
<path class="m c7" d="M530.3 159.2l6 -4.1 -5.1 -3 -5.9 3.9z"/>
<path class="n c6" d="M513.3 167.1l4 -4.1 -7.3 -1.4 -1.7 1.6z"/>
<path class="n c7" d="M517.3 163l2 -2 -5 -3.7 -4.3 4.3z"/>
<path class="o" d="M513.3 167.1l6 -6.1 -5 -3.7 -6 5.9z"/>
<path class="m c7" d="M541.4 157.9l5.9 -3.2 -5.2 -2.6 -5.8 3z"/>
<path class="n c5" d="M507.3 174.5l0.7 -1 -2.4 -0.4z"/>
<path class="n c6" d="M508 173.5l5.3 -6.4 -5 -3.9 -6 7 3.3 2.9z"/>
<path class="o" d="M507.3 174.5l6 -7.4 -5 -3.9 -6 7z"/>
<path class="m c7" d="M524.3 164.5l6 -5.3 -5 -3.2 -6 5z"/>
<path class="n c2" d="M489.2 203.2l0.7 -1.3 -2.4 -0.5z"/>
<path class="n c3" d="M489.9 201.9l5.2 -9.1 -6.8 -1.6 -4 6.9 3.2 3.3z"/>
<path class="n c4" d="M495.1 192.8l0.1 -0.3 -4.9 -4.8 -2 3.5z"/>
<path class="o" d="M489.2 203.2l6 -10.7 -4.9 -4.8 -6 10.4z"/>
<path class="n c5" d="M501.3 182.9l6 -8.4 -1.7 -1.4 -4.6 -1.1 -4.7 6.4z"/>
<path class="n c6" d="M505.6 173.1l-3.3 -2.9 -1.3 1.8z"/>
<path class="o" d="M501.3 182.9l6 -8.4 -5 -4.3 -6 8.2z"/>
<path class="n c4" d="M495.2 192.5l5.8 -9.2 -6.9 -1.5 -3.8 5.9z"/>
<path class="n c5" d="M501 183.3l0.3 -0.4 -5 -4.5 -2.2 3.4z"/>
<path class="o" d="M495.2 192.5l6.1 -9.6 -5 -4.5 -6 9.3z"/>
<path class="m c7" d="M535.4 162.3l6 -4.4 -5.1 -2.8 -6 4.1z"/>
<path class="n c6" d="M518.3 171l6 -6.5 -7 -1.5 -4 4.1z"/>
<path class="n c7" d="M524.3 164.5l0 0 -5 -3.5 -2 2z"/>
<path class="o" d="M518.3 171l6 -6.5 -5 -3.5 -6 6.1z"/>
<path class="n c5" d="M512.3 178.5l2.8 -3.5 -7.1 -1.5 -0.7 1z"/>
<path class="n c6" d="M515.1 175l3.2 -4 -5 -3.9 -5.3 6.4z"/>
<path class="o" d="M512.3 178.5l6 -7.5 -5 -3.9 -6 7.4z"/>
<path class="n c2" d="M494.1 208.1l2.6 -4.7 -6.8 -1.5 -0.7 1.3z"/>
<path class="n c3" d="M496.7 203.4l3.5 -6.3 -4.5 -4.2 -0.6 -0.1 -5.2 9.1z"/>
<path class="n c4" d="M495.7 192.9l-0.5 -0.4 -0.1 0.3z"/>
<path class="o" d="M494.1 208.1l6.1 -11 -5 -4.6 -6 10.7z"/>
<path class="n c4" d="M506.2 187.3l1.8 -2.5 -6 -1.2z"/>
<path class="n c5" d="M508 184.8l4.3 -6.3 -5 -4 -6 8.4 0.7 0.7z"/>
<path class="o" d="M506.2 187.3l6.1 -8.8 -5 -4 -6 8.4z"/>
<path class="n c3" d="M500.2 197.1l1.8 -2.9 -6.3 -1.3z"/>
<path class="n c4" d="M502 194.2l4.2 -6.9 -4.2 -3.7 -1 -0.3 -5.8 9.2 0.5 0.4z"/>
<path class="n c5" d="M502 183.6l-0.7 -0.7 -0.3 0.4z"/>
<path class="o" d="M500.2 197.1l6 -9.8 -4.9 -4.4 -6.1 9.6z"/>
<path class="n c6" d="M529.4 167.9l2.2 -2 -7.2 -1.4z"/>
<path class="n c7" d="M531.6 165.9l3.8 -3.6 -5.1 -3.1 -6 5.3 0.1 0z"/>
<path class="o" d="M529.4 167.9l6 -5.6 -5.1 -3.1 -6 5.3z"/>
<path class="n c6" d="M523.4 174.6l6 -6.7 -5 -3.4 -0.1 0 -6 6.5z"/>
<path class="n c7" d="M524.4 164.5l-0.1 0 0 0z"/>
<path class="o" d="M523.4 174.6l6 -6.7 -5.1 -3.4 -6 6.5z"/>
<path class="n c2" d="M499.1 212.9l4.4 -8.1 -6.8 -1.4 -2.6 4.7z"/>
<path class="n c3" d="M503.5 204.8l1.7 -3.2 -5 -4.5 -3.5 6.3z"/>
<path class="o" d="M499.1 212.9l6.1 -11.3 -5 -4.5 -6.1 11z"/>
<path class="n c5" d="M517.3 182.5l4.7 -6.1 -6.9 -1.4 -2.8 3.5z"/>
<path class="n c6" d="M522 176.4l1.4 -1.8 -5.1 -3.6 -3.2 4z"/>
<path class="o" d="M517.3 182.5l6.1 -7.9 -5.1 -3.6 -6 7.5z"/>
<path class="n c3" d="M505.2 201.6l3.6 -6 -6.8 -1.4 -1.8 2.9z"/>
<path class="n c4" d="M508.8 195.6l2.5 -4.1 -5.1 -4.2 -4.2 6.9z"/>
<path class="o" d="M505.2 201.6l6.1 -10.1 -5.1 -4.2 -6 9.8z"/>
<path class="n c4" d="M511.3 191.5l3.6 -5.3 -6.9 -1.4 -1.8 2.5z"/>
<path class="n c5" d="M514.9 186.2l2.4 -3.7 -5 -4 -4.3 6.3z"/>
<path class="o" d="M511.3 191.5l6 -9 -5 -4 -6.1 8.8z"/></g>
<g class="pt"><path class="st" d="M544.3 126l0 14M577.7 155l0 4M500 213.5l0 2.5M540.3 168.6l0 6.4"/><circle cx="476" cy="95" r="2.5"/><circle cx="476" cy="118.3" r="2.5"/><circle cx="513.3" cy="117.3" r="2.5"/><circle cx="544.3" cy="123.3" r="2.5"/><circle cx="507.3" cy="138.7" r="2.5"/><circle cx="541" cy="142.3" r="2.5"/><circle cx="437.3" cy="141" r="2.5"/><circle cx="468.3" cy="166" r="2.5"/><circle cx="468.3" cy="181.7" r="2.5"/><circle cx="577.7" cy="152.3" r="2.5"/><circle cx="544.3" cy="159.3" r="2.5"/><circle cx="540.3" cy="166" r="2.5"/><circle cx="500" cy="218.7" r="2.5"/></g>
<path class="ax" d="M422.1 98.3l4.8 99.8 72.4 53.9 89.8 -45.1M426.8 195.2l1.6 -0.8M426.6 191.5l1.6 -0.7M426.4 187.8l1.7 -0.7M426.2 184.1l1.7 -0.7M426.1 180.4l1.6 -0.8M425.9 176.6l1.6 -0.7M425.7 172.9l1.7 -0.8M425.5 169.1l1.7 -0.7M425.3 165.3l1.7 -0.7M425.1 161.5l1.7 -0.7M425 157.6l1.6 -0.7M424.8 153.8l1.6 -0.7M424.6 149.9l1.7 -0.7M424.4 146.1l1.7 -0.7M424.2 142.2l1.7 -0.7M424 138.2l1.7 -0.6M423.8 134.3l1.7 -0.7M423.6 130.4l1.7 -0.7M423.5 126.4l1.6 -0.7M423.3 122.4l1.7 -0.7M423.1 118.4l1.7 -0.7M422.9 114.4l1.7 -0.7M422.7 110.3l1.7 -0.6M422.5 106.3l1.7 -0.7M422.3 102.2l1.7 -0.7M426.1 180.4l3 -1.4M425.1 161.5l3.1 -1.3M424.2 142.2l3.1 -1.3M423.3 122.4l3.1 -1.3M499.3 252l2.6 -1.3M499.3 252l-2.1 -1.6M496.1 249.6l1.4 -0.7M503.3 250l-1.2 -0.9M492.9 247.2l1.4 -0.7M507.2 248l-1.2 -0.9M489.7 244.8l1.4 -0.7M511.1 246l-1.1 -0.8M486.5 242.4l2.6 -1.2M515 244.1l-2.1 -1.6M483.4 240.1l1.4 -0.7M518.9 242.1l-1.2 -0.8M480.2 237.8l1.4 -0.7M522.8 240.2l-1.2 -0.8M477.1 235.4l1.4 -0.6M526.6 238.3l-1.1 -0.9M474 233.1l2.6 -1.2M530.4 236.3l-2.1 -1.5M470.9 230.9l1.4 -0.7M534.3 234.4l-1.2 -0.8M467.9 228.6l1.4 -0.7M538 232.5l-1.1 -0.8M464.8 226.3l1.4 -0.7M541.8 230.6l-1.2 -0.8M461.8 224.1l2.6 -1.3M545.6 228.8l-2.2 -1.5M458.8 221.8l1.4 -0.6M549.3 226.9l-1.2 -0.8M455.8 219.6l1.4 -0.6M553 225l-1.2 -0.8M452.9 217.4l1.4 -0.7M556.7 223.2l-1.2 -0.8M449.9 215.2l2.6 -1.2M560.4 221.3l-2.2 -1.4M447 213l1.4 -0.6M564 219.5l-1.2 -0.8M444.1 210.9l1.4 -0.7M567.7 217.7l-1.2 -0.8M441.2 208.7l1.4 -0.6M571.3 215.9l-1.2 -0.8M438.3 206.5l2.5 -1.1M574.9 214l-2.2 -1.4M435.4 204.4l1.4 -0.6M578.5 212.2l-1.2 -0.7M432.6 202.3l1.4 -0.6M582 210.5l-1.1 -0.8M429.7 200.2l1.4 -0.6M585.6 208.7l-1.2 -0.8M426.9 198.1l2.6 -1.1M589.1 206.9l-2.2 -1.4"/>
<g class="tk"><text text-anchor="middle" dy=".35em" transform="translate(414 185.2) rotate(-20)">60</text><text text-anchor="middle" dy=".35em" transform="translate(413 166.3) rotate(-20)">70</text><text text-anchor="middle" dy=".35em" transform="translate(412.1 147) rotate(-20)">80</text><text text-anchor="middle" dy=".35em" transform="translate(411.2 127.2) rotate(-20)">90</text><text text-anchor="middle" dy=".35em" transform="translate(407.9 107) rotate(-20)">100</text><text text-anchor="end" transform="translate(496.3 255.8) rotate(-45)">−1.2</text><text text-anchor="middle" transform="translate(503.8 262.5) rotate(-30)">−1.2</text><text text-anchor="end" transform="translate(483.5 246.2) rotate(-45)">−0.8</text><text text-anchor="middle" transform="translate(519.5 254.6) rotate(-30)">−0.8</text><text text-anchor="end" transform="translate(471 236.9) rotate(-45)">−0.4</text><text text-anchor="middle" transform="translate(534.9 246.8) rotate(-30)">−0.4</text><text text-anchor="end" transform="translate(458.8 227.9) rotate(-45)">0.0</text><text text-anchor="middle" transform="translate(550.1 239.3) rotate(-30)">0.0</text><text text-anchor="end" transform="translate(446.9 219) rotate(-45)">0.4</text><text text-anchor="middle" transform="translate(564.9 231.8) rotate(-30)">0.4</text><text text-anchor="end" transform="translate(435.3 210.3) rotate(-45)">0.8</text><text text-anchor="middle" transform="translate(579.4 224.5) rotate(-30)">0.8</text><text text-anchor="end" transform="translate(423.9 201.9) rotate(-45)">1.2</text><text text-anchor="middle" transform="translate(593.6 217.4) rotate(-30)">1.2</text><text text-anchor="middle" style="font-size:7.2px" transform="translate(389.5 164) rotate(90)">Y2</text><text text-anchor="middle" transform="translate(433 244) rotate(52)">X2</text><text text-anchor="middle" transform="translate(556 250) rotate(-30)">X1</text></g>
<path class="wl" d="M116.6 512.3l87.9 -39.2 0.4 -96.3 -93.1 35.7z"/>
<path class="wl" d="M204.5 473.1l74.3 48 5 -100.6 -78.9 -43.7z"/>
<path class="wl" d="M116.6 512.3l72.4 53.9 89.8 -45.1 -74.3 -48z"/>
<path class="gr" d="M116.6 512.3l-4.8 -99.8M278.8 521.1l5 -100.6M132 505.4l-3.9 -99.2M265.7 512.6l4.1 -99.8M147 498.7l-2.9 -98.6M252.9 504.4l3.3 -99.1M161.8 492.1l-2.1 -98M240.4 496.3l2.5 -98.4M176.3 485.7l-1.2 -97.5M228.2 488.4l1.7 -97.7M190.5 479.3l-0.4 -96.8M216.2 480.7l1.1 -97M204.5 473.1l0.4 -96.3M204.5 473.1l0.4 -96.3M115.9 497.7l88.6 -38.7 75.1 47.4M115.2 482l89.4 -38.2 75.7 46.8M114.4 466.1l90.3 -37.7 76.4 46.2M113.6 449.9l91.1 -37.1 77.2 45.4M112.8 433.3l92 -36.5 77.9 44.7M112 416.4l92.9 -35.8 78.7 43.9M111.8 412.5l93.1 -35.7 78.9 43.7"/>
<path class="gf" d="M204.7 558.3l-72.7 -52.9M176.2 556.6l89.5 -44M220.1 550.5l-73.1 -51.8M163.7 547.3l89.2 -42.9M235.3 543l-73.5 -50.9M151.5 538.3l88.9 -42M250.1 535.5l-73.8 -49.8M139.6 529.4l88.6 -41M264.6 528.2l-74.1 -48.9M128 520.7l88.2 -40"/>
<path class="cd" stroke="#98a398" d="M214.3 479.4l-1.9 -0.9 -2.6 -1.4 -2.7 -1.4 -2.6 -1.4 -1.3 -0.6"/>
<path class="cs" stroke="#9bb098" d="M236.5 493.8l-2.6 -1.3 -2.9 -1.4 -2.8 -1.4 -1.7 -0.9 -2.5 -1.2 -2.7 -1.4 -2.8 -1.4 -2.7 -1.4 -1.3 -0.7 -2.7 -1.4 -2.7 -1.4 -2.6 -1.3 -2.6 -1.4 -1.3 -0.7 -2.6 -1.4"/>
<path class="cd" stroke="#a6b89e" d="M178.3 558.2l2.4 0.9 3.3 1.4 2 0.8 3.5 1.4 1.7 0.8 1.8 0.7"/>
<path class="cd" stroke="#a6b89e" d="M257.3 507.2l-2.2 -1 -3.1 -1.4 -3 -1.4 -1.5 -0.7 -3 -1.4 -2.9 -1.4 -1.9 -0.9 -2.5 -1.2 -2.8 -1.4 -2.9 -1.4 -1.8 -1 -2.4 -1.2 -2.8 -1.4 -2.8 -1.4 -2.7 -1.4 -1.4 -0.7 -2.7 -1.4 -2.7 -1.4 -2.6 -1.4 -2.6 -1.5 -1.4 -0.7 -2.6 -1.4 -2.5 -1.4 -2.6 -1.4 -1.3 -0.7"/>
<path class="cs" stroke="#bac698" d="M277.2 520l-2.9 -1.2 -3.3 -1.4 -1.6 -0.7 -3.2 -1.4 -3.1 -1.4 -1.6 -0.7 -3.1 -1.4 -3.1 -1.4 -1.6 -0.7 -3 -1.4 -3 -1.4 -2.6 -1.2 -1.9 -0.9 -2.9 -1.5 -3 -1.4 -1.8 -0.9 -2.5 -1.2 -2.8 -1.5 -2.8 -1.4 -2.7 -1.4 -1.5 -0.8 -2.8 -1.4 -2.7 -1.4 -2.7 -1.5 -2.7 -1.4 -1.3 -0.7 -2.6 -1.5 -2.7 -1.4 -2.6 -1.4 -2.5 -1.5 -2.6 -1.4 -1.2 -0.7 -2.6 -1.5 -1.2 -0.7"/>
<path class="cs" stroke="#bac698" d="M166.2 549.2l3.5 1.3 1.8 0.7 3.6 1.3 1.8 0.7 3.5 1.4 1.9 0.7 3.4 1.4 2.2 0.8 3.1 1.3 2.8 1.1 2.5 1 1.7 0.8"/>
<path class="cd" stroke="#dcdfa4" d="M274.1 523.5l-3.3 -1.4 -1.6 -0.7 -3.3 -1.4 -3.2 -1.4 -1.6 -0.7 -3.1 -1.5 -3.1 -1.4 -1.6 -0.7 -3 -1.4 -3.1 -1.5 -2.6 -1.3 -1.8 -0.8 -3 -1.5 -2.9 -1.4 -2.3 -1.2 -2 -1 -2.9 -1.5 -2.8 -1.4 -2.8 -1.5 -1.4 -0.7 -2.7 -1.5 -2.7 -1.5 -2.7 -1.4 -2.7 -1.5 -2.6 -1.5 -1.3 -0.7 -2.6 -1.5 -2.6 -1.4 -2.6 -1.5 -2.5 -1.5 -2.5 -1.4 -2.5 -1.5 -2.4 -1.5 -1.3 -0.7"/>
<path class="cd" stroke="#dcdfa4" d="M154.8 540.7l2.3 0.8 2.4 0.8 3.1 1.1 1.8 0.6 3.6 1.3 1.8 0.6 3.7 1.3 1.8 0.6 3.6 1.3 1.8 0.7 3.5 1.3 1.8 0.7 3.6 1.4 1.8 0.7 3.5 1.3 1.8 0.7 3.5 1.5 1.8 0.7 1.7 0.7"/>
<path class="cs" stroke="#eee8a4" d="M267.9 526.6l-2.4 -1.1 -2.5 -1.1 -3.2 -1.4 -2.1 -0.9 -2.6 -1.2 -3.1 -1.5 -2.8 -1.3 -1.8 -0.9 -3 -1.5 -3 -1.4 -2 -1 -2.4 -1.3 -2.9 -1.4 -2.9 -1.5 -2.8 -1.5 -1.4 -0.8 -2.8 -1.5 -2.7 -1.5 -2.7 -1.5 -2.7 -1.5 -2.6 -1.5 -1.4 -0.8 -2.6 -1.5 -2.6 -1.5 -2.6 -1.5 -2.5 -1.5 -2.5 -1.5 -2.5 -1.5 -2.5 -1.5 -2.4 -1.5 -1.8 -1.1 -1.9 -1.2 -2.4 -1.5 -1.2 -0.8"/>
<path class="cs" stroke="#eee8a4" d="M144 532.7l2.4 0.7 1.9 0.6 3.7 1.1 1.9 0.6 3.1 0.9 2.5 0.8 2 0.6 3.6 1.2 1.9 0.6 3.6 1.2 1.9 0.6 2.8 1 2.7 0.9 2.2 0.7 3.3 1.2 1.8 0.6 3.7 1.3 1.8 0.6 3.6 1.4 1.8 0.6 3.6 1.4 1.8 0.6 3.5 1.4 1.8 0.7 3.5 1.4"/>
<path class="cd" stroke="#dc7474" d="M259.8 530.6l-3.2 -1.4 -2.4 -1.1 -2.3 -1.1 -3.1 -1.5 -3.1 -1.5 -1.5 -0.8 -3 -1.5 -2.9 -1.5 -2.9 -1.6 -2.1 -1.1 -2.1 -1.2 -2.8 -1.6 -2.8 -1.5 -2.7 -1.6 -2.7 -1.6 -2.6 -1.5 -1.6 -1 -2.4 -1.4 -2.5 -1.6 -2.6 -1.5 -2.5 -1.6 -2.5 -1.6 -2.5 -1.6 -2.4 -1.5 -2.5 -1.6 -2.4 -1.6 -2.4 -1.6 -2.3 -1.5 -2.4 -1.6 -2.3 -1.5 -2.3 -1.6 -2.3 -1.5"/>
<path class="cd" stroke="#dc7474" d="M133.6 525l2.2 0.5 1.9 0.5 3.7 1 2.2 0.6 1.9 0.5 3.9 1 1.9 0.6 2.1 0.5 3.8 1 1.9 0.6 2.4 0.7 3.4 0.9 1.9 0.6 3.1 0.9 2.7 0.7 1.9 0.6 3.8 1.1 1.9 0.6 2.7 0.8 3 0.9 1.9 0.6 3.8 1.2 1.8 0.6 3.4 1.1 2.2 0.8 2.7 0.9 2.9 1 2.1 0.7 3.4 1.2 1.8 0.7 3.6 1.3 1.9 0.8 1.7 0.6"/>
<path class="cs" stroke="#e29c9c" d="M123.8 517.6l3.4 0.8 2 0.4 2.1 0.4 3.1 0.7 3 0.7 2.1 0.4 2 0.5 3.6 0.8 2.6 0.5 2.1 0.5 2.4 0.5 3.6 0.8 2.3 0.5 2.1 0.4 2.8 0.7 3.4 0.7 2.1 0.5 2.1 0.4 3.3 0.7 3 0.7 2.1 0.4 2.2 0.5"/>
<path class="cd" stroke="#b85c5c" d="M118.8 511.3l2.1 0.4 3 0.5 3.2 0.5 2.6 0.4 2.3 0.4 2.2 0.3 2.3 0.4 3.1 0.4 3.1 0.4 3 0.4 2.4 0.3 2.4 0.3 2.4 0.3 2.5 0.2 2.5 0.3 2.6 0.2 2.6 0.1 2.8 0.1 3 0 3.3 -0.1 2.8 -0.3 2 -0.4 3.2 -1.2 1.1 -1 1 -1.8 0.1 -1.4 -0.2 -1.3 -0.9 -2.3 -0.6 -1.2 -1 -1.7 -1.1 -1.4 -1.5 -2 -0.8 -1 -1.7 -1.9 -1.2 -1.4 -1.4 -1.4 -1.7 -1.8 -1.8 -1.8 -1 -0.9 -0.9 -0.9"/>
<path class="cs" stroke="#c98e7e" d="M130.5 506.1l2.8 0.1 2.9 0 3.2 -0.1 3 -0.2 2.2 -0.2 2.7 -0.5 2.9 -0.7 2.9 -1.5 1.1 -0.9 1.2 -1.9 0.4 -1.5 0.1 -1.3 -0.2 -1.2 -0.3 -1.2"/>
<g class="pt"></g>
<g class="sf"><path class="k" d="M203.7 450l5.3 8.5 -4.4 -2.8 -5.3 -8.8z"/>
<path class="k" d="M208.2 452.9l5.2 8.3 -4.4 -2.7 -5.3 -8.5z"/>
<path class="k" d="M212.7 455.7l5.2 8.1 -4.5 -2.6 -5.2 -8.3z"/>
<path class="k" d="M198.4 442.4l5.3 7.6 -4.4 -3.1 -5.4 -7.8z"/>
<path class="k" d="M217.2 458.3l5.2 7.9 -4.5 -2.4 -5.2 -8.1z"/>
<path class="k" d="M202.9 445.5l5.3 7.4 -4.5 -2.9 -5.3 -7.6z"/>
<path class="k" d="M221.8 460.8l5.2 7.7 -4.6 -2.3 -5.2 -7.9z"/>
<path class="k" d="M207.4 448.5l5.3 7.2 -4.5 -2.8 -5.3 -7.4z"/>
<path class="k" d="M193 435.6l5.4 6.8 -4.5 -3.3 -5.4 -7z"/>
<path class="k" d="M226.4 463.2l5.2 7.5 -4.6 -2.2 -5.2 -7.7z"/>
<path class="k" d="M211.9 451.4l5.3 6.9 -4.5 -2.6 -5.3 -7.2z"/>
<path class="k" d="M197.5 439l5.4 6.5 -4.5 -3.1 -5.4 -6.8z"/>
<path class="k" d="M216.5 454.1l5.3 6.7 -4.6 -2.5 -5.3 -6.9z"/>
<path class="k" d="M231.1 465.4l5.1 7.3 -4.6 -2 -5.2 -7.5z"/>
<path class="k" d="M202 442.2l5.4 6.3 -4.5 -3 -5.4 -6.5z"/>
<path class="k" d="M187.4 429.8l5.6 5.8 -4.5 -3.5 -5.5 -6z"/>
<path class="k" d="M206.6 445.3l5.3 6.1 -4.5 -2.9 -5.4 -6.3z"/>
<path class="k" d="M221.2 456.7l5.2 6.5 -4.6 -2.4 -5.3 -6.7z"/>
<path class="k" d="M192 433.4l5.5 5.6 -4.5 -3.4 -5.6 -5.8z"/>
<path class="k" d="M235.8 467.5l5.2 7.1 -4.8 -1.9 -5.1 -7.3z"/>
<path class="k" d="M196.5 436.9l5.5 5.3 -4.5 -3.2 -5.5 -5.6z"/>
<path class="k" d="M211.2 448.3l5.3 5.8 -4.6 -2.7 -5.3 -6.1z"/>
<path class="k" d="M181.8 425l5.6 4.8 -4.4 -3.7 -5.7 -5.1z"/>
<path class="k" d="M225.9 459.1l5.2 6.3 -4.7 -2.2 -5.2 -6.5z"/>
<path class="k" d="M240.6 469.5l5.1 6.8 -4.7 -1.7 -5.2 -7.1z"/>
<path class="k" d="M186.4 428.9l5.6 4.5 -4.6 -3.6 -5.6 -4.8z"/>
<path class="k" d="M201.1 440.2l5.5 5.1 -4.6 -3.1 -5.5 -5.3z"/>
<path class="k" d="M215.8 451.1l5.4 5.6 -4.7 -2.6 -5.3 -5.8z"/>
<path class="k" d="M230.6 461.4l5.2 6.1 -4.7 -2.1 -5.2 -6.3z"/>
<path class="k" d="M245.4 471.3l5.1 6.6 -4.8 -1.6 -5.1 -6.8z"/>
<path class="n c7" d="M177.1 421.8l4.7 3.2 -4.5 -4 -4.4 -3.1z"/>
<path class="n c8" d="M176.2 421.2l0.9 0.6 -4.2 -3.9 -1.3 -0.9z"/>
<path class="o" d="M176.2 421.2l5.6 3.8 -4.5 -4 -5.7 -4z"/>
<path class="k" d="M190.9 432.6l5.6 4.3 -4.5 -3.5 -5.6 -4.5z"/>
<path class="k" d="M205.7 443.4l5.5 4.9 -4.6 -3 -5.5 -5.1z"/>
<path class="k" d="M220.5 453.8l5.4 5.3 -4.7 -2.4 -5.4 -5.6z"/>
<path class="k" d="M235.4 463.6l5.2 5.9 -4.8 -2 -5.2 -6.1z"/>
<path class="n c7" d="M181.3 425.7l5.1 3.2 -4.6 -3.9 -4.7 -3.2z"/>
<path class="n c8" d="M180.7 425.3l0.6 0.4 -4.2 -3.9 -0.9 -0.6z"/>
<path class="o" d="M180.7 425.3l5.7 3.6 -4.6 -3.9 -5.6 -3.8z"/>
<path class="k" d="M250.3 472.9l5.1 6.4 -4.9 -1.4 -5.1 -6.6z"/>
<path class="k" d="M195.5 436.2l5.6 4 -4.6 -3.3 -5.6 -4.3z"/>
<path class="k" d="M210.4 446.5l5.4 4.6 -4.6 -2.8 -5.5 -4.9z"/>
<path class="k" d="M225.3 456.3l5.3 5.1 -4.7 -2.3 -5.4 -5.3z"/>
<path class="m c8" d="M170.4 418.5l5.8 2.7 -4.6 -4.2 -5.7 -3z"/>
<path class="n c7" d="M185.6 429.5l5.3 3.1 -4.5 -3.7 -5.1 -3.2z"/>
<path class="n c8" d="M185.3 429.3l0.3 0.2 -4.3 -3.8 -0.6 -0.4z"/>
<path class="o" d="M185.3 429.3l5.6 3.3 -4.5 -3.7 -5.7 -3.6z"/>
<path class="k" d="M240.2 465.6l5.2 5.7 -4.8 -1.8 -5.2 -5.9z"/>
<path class="n c6" d="M202 440.9l3.7 2.5 -4.6 -3.2 -3.9 -2.8z"/>
<path class="n c7" d="M200.2 439.6l1.8 1.3 -4.8 -3.5 -1.7 -1.2z"/>
<path class="o" d="M200.2 439.6l5.5 3.8 -4.6 -3.2 -5.6 -4z"/>
<path class="k" d="M255.2 474.4l5.1 6.2 -4.9 -1.3 -5.1 -6.4z"/>
<path class="k" d="M215.1 449.4l5.4 4.4 -4.7 -2.7 -5.4 -4.6z"/>
<path class="m c8" d="M175 422.8l5.7 2.5 -4.5 -4.1 -5.8 -2.7z"/>
<path class="k" d="M230.1 458.7l5.3 4.9 -4.8 -2.2 -5.3 -5.1z"/>
<path class="n c7" d="M189.9 433.1l5.6 3.1 -4.6 -3.6 -5.3 -3.1z"/>
<path class="n c8" d="M189.9 433.1l0 0 -4.3 -3.6 -0.3 -0.2z"/>
<path class="o" d="M189.9 433.1l5.6 3.1 -4.6 -3.6 -5.6 -3.3z"/>
<path class="n c6" d="M206.8 444.2l3.6 2.3 -4.7 -3.1 -3.7 -2.5z"/>
<path class="n c7" d="M204.8 442.9l2 1.3 -4.8 -3.3 -1.8 -1.3z"/>
<path class="o" d="M204.8 442.9l5.6 3.6 -4.7 -3.1 -5.5 -3.8z"/>
<path class="k" d="M245.1 467.4l5.2 5.5 -4.9 -1.6 -5.2 -5.7z"/>
<path class="n c8" d="M168.7 417.9l1.7 0.6 -4.5 -4.5 -0.7 -0.3z"/>
<path class="n c9" d="M164.6 416.8l4.1 1.1 -3.5 -4.2 -5.1 -1.7z"/>
<path class="o" d="M164.6 416.8l5.8 1.7 -4.5 -4.5 -5.8 -2z"/>
<path class="k" d="M219.8 452.1l5.5 4.2 -4.8 -2.5 -5.4 -4.4z"/>
<path class="m c8" d="M179.6 427l5.7 2.3 -4.6 -4 -5.7 -2.5z"/>
<path class="k" d="M260.2 475.7l5.1 6 -5 -1.1 -5.1 -6.2z"/>
<path class="n c7" d="M194.5 436.8l5.7 2.8 -4.7 -3.4 -5.6 -3.1 0.5 0.4z"/>
<path class="n c8" d="M189.9 433.1l0 0 0.5 0.4z"/>
<path class="o" d="M194.5 436.8l5.7 2.8 -4.7 -3.4 -5.6 -3.1z"/>
<path class="k" d="M234.9 460.9l5.3 4.7 -4.8 -2 -5.3 -4.9z"/>
<path class="n c8" d="M172.1 422.1l2.9 0.7 -4.6 -4.3 -1.7 -0.6z"/>
<path class="n c9" d="M169.2 421.4l2.9 0.7 -3.4 -4.2 -4.1 -1.1z"/>
<path class="o" d="M169.2 421.4l5.8 1.4 -4.6 -4.3 -5.8 -1.7z"/>
<path class="n c6" d="M211.7 447.3l3.4 2.1 -4.7 -2.9 -3.6 -2.3z"/>
<path class="n c7" d="M209.5 446l2.2 1.3 -4.9 -3.1 -2 -1.3z"/>
<path class="o" d="M209.5 446l5.6 3.4 -4.7 -2.9 -5.6 -3.6z"/>
<path class="m c8" d="M184.2 431.1l5.7 2 -4.6 -3.8 -5.7 -2.3z"/>
<path class="k" d="M250 469.2l5.2 5.2 -4.9 -1.5 -5.2 -5.5z"/>
<path class="k" d="M224.6 454.7l5.5 4 -4.8 -2.4 -5.5 -4.2z"/>
<path class="m c9" d="M158.8 416.1l5.8 0.7 -4.5 -4.8 -5.9 -0.9z"/>
<path class="m c7" d="M199.2 440.3l5.6 2.6 -4.6 -3.3 -5.7 -2.8z"/>
<path class="n c8" d="M175.4 426.2l4.2 0.8 -4.6 -4.2 -2.9 -0.7z"/>
<path class="n c9" d="M173.8 425.8l1.6 0.4 -3.3 -4.1 -2.9 -0.7z"/>
<path class="o" d="M173.8 425.8l5.8 1.2 -4.6 -4.2 -5.8 -1.4z"/>
<path class="k" d="M265.3 476.9l5 5.8 -5 -1 -5.1 -6z"/>
<path class="k" d="M239.8 463l5.3 4.4 -4.9 -1.8 -5.3 -4.7z"/>
<path class="n c6" d="M216.8 450.4l3 1.7 -4.7 -2.7 -3.4 -2.1z"/>
<path class="n c7" d="M214.3 449l2.5 1.4 -5.1 -3.1 -2.2 -1.3z"/>
<path class="o" d="M214.3 449l5.5 3.1 -4.7 -2.7 -5.6 -3.4z"/>
<path class="n c7" d="M194.2 436.7l0.3 0.1 -4.1 -3.3z"/>
<path class="n c8" d="M188.8 435l5.4 1.7 -3.8 -3.2 -0.5 -0.4 -5.7 -2z"/>
<path class="o" d="M188.8 435l5.7 1.8 -4.6 -3.7 -5.7 -2z"/>
<path class="m c9" d="M163.4 421l5.8 0.4 -4.6 -4.6 -5.8 -0.7z"/>
<path class="k" d="M255 470.7l5.2 5 -5 -1.3 -5.2 -5.2z"/>
<path class="k" d="M229.5 457.2l5.4 3.7 -4.8 -2.2 -5.5 -4z"/>
<path class="m c7" d="M203.9 443.7l5.6 2.3 -4.7 -3.1 -5.6 -2.6z"/>
<path class="n c8" d="M178.6 430.2l5.6 0.9 -4.6 -4.1 -4.2 -0.8z"/>
<path class="n c9" d="M178.4 430.2l0.2 0 -3.2 -4 -1.6 -0.4z"/>
<path class="o" d="M178.4 430.2l5.8 0.9 -4.6 -4.1 -5.8 -1.2z"/>
<path class="n c9" d="M153.4 416.6l5.4 -0.5 -4.6 -5 -1.1 0.1z"/>
<path class="n c10" d="M152.9 416.6l0.5 0 -0.3 -5.4 -4.8 0.2z"/>
<path class="o" d="M152.9 416.6l5.9 -0.5 -4.6 -5 -5.9 0.3z"/>
<path class="m c9" d="M168 425.7l5.8 0.1 -4.6 -4.4 -5.8 -0.4z"/>
<path class="n c7" d="M198.5 440.1l0.7 0.2 -4.7 -3.5 -0.3 -0.1z"/>
<path class="n c8" d="M193.5 438.8l5 1.3 -4.3 -3.4 -5.4 -1.7z"/>
<path class="o" d="M193.5 438.8l5.7 1.5 -4.7 -3.5 -5.7 -1.8z"/>
<path class="n c6" d="M221.9 453.3l2.7 1.4 -4.8 -2.6 -3 -1.7z"/>
<path class="n c7" d="M219.1 451.9l2.8 1.4 -5.1 -2.9 -2.5 -1.4z"/>
<path class="o" d="M219.1 451.9l5.5 2.8 -4.8 -2.6 -5.5 -3.1z"/>
<path class="k" d="M244.7 464.9l5.3 4.3 -4.9 -1.8 -5.3 -4.4z"/>
<path class="k" d="M270.4 478l5.1 5.6 -5.2 -0.9 -5 -5.8z"/>
<path class="n c9" d="M157.5 421.8l5.9 -0.8 -4.6 -4.9 -5.4 0.5 -0.1 0.5z"/>
<path class="n c10" d="M153.4 416.6l-0.5 0 0.4 0.5z"/>
<path class="o" d="M157.5 421.8l5.9 -0.8 -4.6 -4.9 -5.9 0.5z"/>
<path class="n c8" d="M183.1 434.4l5.7 0.6 -4.6 -3.9 -5.6 -0.9 0.3 0.4z"/>
<path class="n c9" d="M178.6 430.2l-0.2 0 0.5 0.4z"/>
<path class="o" d="M183.1 434.4l5.7 0.6 -4.6 -3.9 -5.8 -0.9z"/>
<path class="m c7" d="M208.7 446.9l5.6 2.1 -4.8 -3 -5.6 -2.3z"/>
<path class="k" d="M234.4 459.5l5.4 3.5 -4.9 -2.1 -5.4 -3.7z"/>
<path class="m c10" d="M147 418.2l5.9 -1.6 -4.6 -5.2 -5.9 1.3z"/>
<path class="k" d="M260.1 472.1l5.2 4.8 -5.1 -1.2 -5.2 -5z"/>
<path class="m c9" d="M172.6 430.3l5.8 -0.1 -4.6 -4.4 -5.8 -0.1z"/>
<path class="n c7" d="M202.9 443.5l1 0.2 -4.7 -3.4 -0.7 -0.2z"/>
<path class="n c8" d="M198.2 442.5l4.7 1 -4.4 -3.4 -5 -1.3z"/>
<path class="o" d="M198.2 442.5l5.7 1.2 -4.7 -3.4 -5.7 -1.5z"/>
<path class="n c6" d="M227.1 456.1l2.4 1.1 -4.9 -2.5 -2.7 -1.4z"/>
<path class="n c7" d="M223.9 454.6l3.2 1.5 -5.2 -2.8 -2.8 -1.4z"/>
<path class="o" d="M223.9 454.6l5.6 2.6 -4.9 -2.5 -5.5 -2.8z"/>
<path class="m c9" d="M162.1 426.8l5.9 -1.1 -4.6 -4.7 -5.9 0.8z"/>
<path class="k" d="M249.7 466.7l5.3 4 -5 -1.5 -5.3 -4.3z"/>
<path class="m c8" d="M187.7 438.4l5.8 0.4 -4.7 -3.8 -5.7 -0.6z"/>
<path class="n c9" d="M151.6 423.6l5.9 -1.8 -4.2 -4.7 -4.2 3.6z"/>
<path class="n c10" d="M153.3 417.1l-0.4 -0.5 -5.9 1.6 2.1 2.5z"/>
<path class="o" d="M151.6 423.6l5.9 -1.8 -4.6 -5.2 -5.9 1.6z"/>
<path class="k" d="M275.6 478.9l5 5.3 -5.1 -0.6 -5.1 -5.6z"/>
<path class="m c7" d="M213.5 450l5.6 1.9 -4.8 -2.9 -5.6 -2.1z"/>
<path class="m c10" d="M141.1 421l5.9 -2.8 -4.6 -5.5 -5.9 2.4z"/>
<path class="n c8" d="M180.6 434.5l2.5 -0.1 -4.2 -3.8z"/>
<path class="n c9" d="M177.2 434.8l3.4 -0.3 -1.7 -3.9 -0.5 -0.4 -5.8 0.1z"/>
<path class="o" d="M177.2 434.8l5.9 -0.4 -4.7 -4.2 -5.8 0.1z"/>
<path class="k" d="M239.3 461.7l5.4 3.2 -4.9 -1.9 -5.4 -3.5z"/>
<path class="m c9" d="M166.7 431.6l5.9 -1.3 -4.6 -4.6 -5.9 1.1z"/>
<path class="n c7" d="M207.3 446.7l1.4 0.2 -4.8 -3.2 -1 -0.2z"/>
<path class="n c8" d="M203 446l4.3 0.7 -4.4 -3.2 -4.7 -1z"/>
<path class="o" d="M203 446l5.7 0.9 -4.8 -3.2 -5.7 -1.2z"/>
<path class="k" d="M265.2 473.4l5.2 4.6 -5.1 -1.1 -5.2 -4.8z"/>
<path class="m c9" d="M156.2 428.9l5.9 -2.1 -4.6 -5 -5.9 1.8z"/>
<path class="n c6" d="M232.5 458.8l1.9 0.7 -4.9 -2.3 -2.4 -1.1z"/>
<path class="n c7" d="M228.8 457.1l3.7 1.7 -5.4 -2.7 -3.2 -1.5z"/>
<path class="o" d="M228.8 457.1l5.6 2.4 -4.9 -2.3 -5.6 -2.6z"/>
<path class="n c9" d="M145.7 426.6l5.9 -3 -2.5 -2.9 -7.1 1.3z"/>
<path class="n c10" d="M149.1 420.7l-2.1 -2.5 -5.9 2.8 0.9 1z"/>
<path class="o" d="M145.7 426.6l5.9 -3 -4.6 -5.4 -5.9 2.8z"/>
<path class="m c8" d="M192.5 442.3l5.7 0.2 -4.7 -3.7 -5.8 -0.4z"/>
<path class="n c9" d="M135.2 424.8l4.4 -2.9 -6.6 0z"/>
<path class="n c10" d="M139.6 421.9l1.5 -0.9 -4.6 -5.9 -5.9 3.6 2.4 3.2z"/>
<path class="o" d="M135.2 424.8l5.9 -3.8 -4.6 -5.9 -5.9 3.6z"/>
<path class="k" d="M254.8 468.3l5.3 3.8 -5.1 -1.4 -5.3 -4z"/>
<path class="n c8" d="M181.9 439.1l5.8 -0.7 -4.6 -4 -2.5 0.1 1 4.3z"/>
<path class="n c9" d="M180.6 434.5l-3.4 0.3 4.4 4z"/>
<path class="o" d="M181.9 439.1l5.8 -0.7 -4.6 -4 -5.9 0.4z"/>
<path class="m c7" d="M218.3 453l5.6 1.6 -4.8 -2.7 -5.6 -1.9z"/>
<path class="m c9" d="M171.4 436.3l5.8 -1.5 -4.6 -4.5 -5.9 1.3z"/>
<path class="m c9" d="M160.8 434l5.9 -2.4 -4.6 -4.8 -5.9 2.1z"/>
<path class="n c9" d="M129.3 429.8l5.9 -5 -2.2 -2.9 -5.6 -0.6 -2.7 2.2z"/>
<path class="n c10" d="M133 421.9l-2.4 -3.2 -3.2 2.6z"/>
<path class="o" d="M129.3 429.8l5.9 -5 -4.6 -6.1 -5.9 4.8z"/>
<path class="n c7" d="M211.7 449.8l1.8 0.2 -4.8 -3.1 -1.4 -0.2z"/>
<path class="n c8" d="M207.8 449.3l3.9 0.5 -4.4 -3.1 -4.3 -0.7z"/>
<path class="o" d="M207.8 449.3l5.7 0.7 -4.8 -3.1 -5.7 -0.9z"/>
<path class="m c9" d="M150.3 432.2l5.9 -3.3 -4.6 -5.3 -5.9 3z"/>
<path class="k" d="M244.3 463.7l5.4 3 -5 -1.8 -5.4 -3.2z"/>
<path class="n c9" d="M139.8 430.8l5.9 -4.2 -3.7 -4.6 -2.4 -0.1 -4.4 2.9z"/>
<path class="n c10" d="M142 422l-0.9 -1 -1.5 0.9z"/>
<path class="o" d="M139.8 430.8l5.9 -4.2 -4.6 -5.6 -5.9 3.8z"/>
<path class="m c8" d="M197.2 446.1l5.8 -0.1 -4.8 -3.5 -5.7 -0.2z"/>
<path class="k" d="M270.4 474.5l5.2 4.4 -5.2 -0.9 -5.2 -4.6z"/>
<path class="n c6" d="M238.1 461.2l1.2 0.5 -4.9 -2.2 -1.9 -0.7z"/>
<path class="n c7" d="M233.8 459.6l4.3 1.6 -5.6 -2.4 -3.7 -1.7z"/>
<path class="o" d="M233.8 459.6l5.5 2.1 -4.9 -2.2 -5.6 -2.4z"/>
<path class="n c8" d="M123.4 436l0.4 -0.4 -0.8 -0.1z"/>
<path class="n c9" d="M123.8 435.6l5.5 -5.8 -4.6 -6.3 -5.9 5.8 4.2 6.2z"/>
<path class="o" d="M123.4 436l5.9 -6.2 -4.6 -6.3 -5.9 5.8z"/>
<path class="m c8" d="M186.7 443.3l5.8 -1 -4.8 -3.9 -5.8 0.7z"/>
<path class="m c9" d="M133.9 436l5.9 -5.2 -4.6 -6 -5.9 5z"/>
<path class="n c8" d="M180.5 439.5l1.4 -0.4 -0.3 -0.3z"/>
<path class="n c9" d="M176.1 440.9l4.4 -1.4 1.1 -0.7 -4.4 -4 -5.8 1.5z"/>
<path class="o" d="M176.1 440.9l5.8 -1.8 -4.7 -4.3 -5.8 1.5z"/>
<path class="m c9" d="M144.4 436.6l5.9 -4.4 -4.6 -5.6 -5.9 4.2z"/>
<path class="m c9" d="M165.5 439l5.9 -2.7 -4.7 -4.7 -5.9 2.4z"/>
<path class="m c9" d="M154.9 437.6l5.9 -3.6 -4.6 -5.1 -5.9 3.3z"/>
<path class="m c7" d="M223.2 455.8l5.6 1.3 -4.9 -2.5 -5.6 -1.6z"/>
<path class="n c8" d="M117.5 443.2l5.9 -7.2 -0.4 -0.5 -7.7 -1.9 -2.4 2.8z"/>
<path class="n c9" d="M123 435.5l-4.2 -6.2 -3.5 4.3z"/>
<path class="o" d="M117.5 443.2l5.9 -7.2 -4.6 -6.7 -5.9 7.1z"/>
<path class="k" d="M259.9 469.8l5.3 3.6 -5.1 -1.3 -5.3 -3.8z"/>
<path class="n c7" d="M216.2 452.8l2.1 0.2 -4.8 -3 -1.8 -0.2z"/>
<path class="n c8" d="M212.6 452.5l3.6 0.3 -4.5 -3 -3.9 -0.5z"/>
<path class="o" d="M212.6 452.5l5.7 0.5 -4.8 -3 -5.7 -0.7z"/>
<path class="n c8" d="M128 442.5l4.6 -5.1 -8.8 -1.8 -0.4 0.4z"/>
<path class="n c9" d="M132.6 437.4l1.3 -1.4 -4.6 -6.2 -5.5 5.8z"/>
<path class="o" d="M128 442.5l5.9 -6.5 -4.6 -6.2 -5.9 6.2z"/>
<path class="m c8" d="M202 449.7l5.8 -0.4 -4.8 -3.3 -5.8 0.1z"/>
<path class="k" d="M249.4 465.6l5.4 2.7 -5.1 -1.6 -5.4 -3z"/>
<path class="n c8" d="M138.5 442.1l3.2 -3 -6.3 -1.1z"/>
<path class="n c9" d="M141.7 439.1l2.7 -2.5 -4.6 -5.8 -5.9 5.2 1.5 2z"/>
<path class="o" d="M138.5 442.1l5.9 -5.5 -4.6 -5.8 -5.9 5.2z"/>
<path class="n c7" d="M122.1 450l1.2 -1.5 -2.6 -0.6z"/>
<path class="n c8" d="M123.3 448.5l4.7 -6 -4.6 -6.5 -5.9 7.2 3.2 4.7z"/>
<path class="o" d="M122.1 450l5.9 -7.5 -4.6 -6.5 -5.9 7.2z"/>
<path class="m c8" d="M191.4 447.3l5.8 -1.2 -4.7 -3.8 -5.8 1z"/>
<path class="n c8" d="M149 442.2l2.1 -1.6 -3.8 -0.5z"/>
<path class="n c9" d="M151.1 440.6l3.8 -3 -4.6 -5.4 -5.9 4.4 2.9 3.5z"/>
<path class="o" d="M149 442.2l5.9 -4.6 -4.6 -5.4 -5.9 4.4z"/>
<path class="n c8" d="M180.8 445.3l5.9 -2 -4.8 -4.2 -1.4 0.4 -3.5 2.3z"/>
<path class="n c9" d="M180.5 439.5l-4.4 1.4 0.9 0.9z"/>
<path class="o" d="M180.8 445.3l5.9 -2 -4.8 -4.2 -5.8 1.8z"/>
<path class="n c8" d="M159.6 442.8l1.6 -1 -2.6 -0.1z"/>
<path class="n c9" d="M161.2 441.8l4.3 -2.8 -4.7 -5 -5.9 3.6 3.7 4.1z"/>
<path class="o" d="M159.6 442.8l5.9 -3.8 -4.7 -5 -5.9 3.6z"/>
<path class="n c8" d="M170.2 443.9l3.9 -2 -5.3 0.5z"/>
<path class="n c9" d="M174.1 441.9l2 -1 -4.7 -4.6 -5.9 2.7 3.3 3.4z"/>
<path class="o" d="M170.2 443.9l5.9 -3 -4.7 -4.6 -5.9 2.7z"/>
<path class="n c6" d="M243.9 463.6l0.4 0.1 -5 -2 -1.2 -0.5z"/>
<path class="n c7" d="M238.8 461.8l5.1 1.8 -5.8 -2.4 -4.3 -1.6z"/>
<path class="o" d="M238.8 461.8l5.5 1.9 -5 -2 -5.5 -2.1z"/>
<path class="n c8" d="M132.6 448.8l5.9 -6.7 -3.1 -4.1 -2.8 -0.6 -4.6 5.1z"/>
<path class="n c9" d="M135.4 438l-1.5 -2 -1.3 1.4z"/>
<path class="o" d="M132.6 448.8l5.9 -6.7 -4.6 -6.1 -5.9 6.5z"/>
<path class="m c7" d="M228.2 458.5l5.6 1.1 -5 -2.5 -5.6 -1.3z"/>
<path class="n c7" d="M126.7 456.6l4.6 -6.1 -8 -2 -1.2 1.5z"/>
<path class="n c8" d="M131.3 450.5l1.3 -1.7 -4.6 -6.3 -4.7 6z"/>
<path class="o" d="M126.7 456.6l5.9 -7.8 -4.6 -6.3 -5.9 7.5z"/>
<path class="n c8" d="M143.1 448.1l5.9 -5.9 -1.7 -2.1 -5.6 -1 -3.2 3z"/>
<path class="n c9" d="M147.3 440.1l-2.9 -3.5 -2.7 2.5z"/>
<path class="o" d="M143.1 448.1l5.9 -5.9 -4.6 -5.6 -5.9 5.5z"/>
<path class="n c7" d="M220.6 455.7l2.6 0.1 -4.9 -2.8 -2.1 -0.2z"/>
<path class="n c8" d="M217.5 455.6l3.1 0.1 -4.4 -2.9 -3.6 -0.3z"/>
<path class="o" d="M217.5 455.6l5.7 0.2 -4.9 -2.8 -5.7 -0.5z"/>
<path class="n c8" d="M153.7 447.8l5.9 -5 -1 -1.1 -7.5 -1.1 -2.1 1.6z"/>
<path class="n c9" d="M158.6 441.7l-3.7 -4.1 -3.8 3z"/>
<path class="o" d="M153.7 447.8l5.9 -5 -4.7 -5.2 -5.9 4.6z"/>
<path class="k" d="M265.1 471.2l5.3 3.3 -5.2 -1.1 -5.3 -3.6z"/>
<path class="m c8" d="M206.9 453.1l5.7 -0.6 -4.8 -3.2 -5.8 0.4z"/>
<path class="n c8" d="M164.3 447.9l5.9 -4 -1.4 -1.5 -7.6 -0.6 -1.6 1z"/>
<path class="n c9" d="M168.8 442.4l-3.3 -3.4 -4.3 2.8z"/>
<path class="o" d="M164.3 447.9l5.9 -4 -4.7 -4.9 -5.9 3.8z"/>
<path class="n c7" d="M137.2 455l2.2 -2.5 -4.8 -1.1z"/>
<path class="n c8" d="M139.4 452.5l3.7 -4.4 -4.6 -6 -5.9 6.7 2 2.6z"/>
<path class="o" d="M137.2 455l5.9 -6.9 -4.6 -6 -5.9 6.7z"/>
<path class="m c8" d="M196.2 451.2l5.8 -1.5 -4.8 -3.6 -5.8 1.2z"/>
<path class="n c8" d="M174.9 448.6l5.9 -3.3 -3.8 -3.5 -2.9 0.1 -3.9 2z"/>
<path class="n c9" d="M177 441.8l-0.9 -0.9 -2 1z"/>
<path class="o" d="M174.9 448.6l5.9 -3.3 -4.7 -4.4 -5.9 3z"/>
<path class="m c8" d="M185.6 449.6l5.8 -2.3 -4.7 -4 -5.9 2z"/>
<path class="k" d="M254.5 467.3l5.4 2.5 -5.1 -1.5 -5.4 -2.7z"/>
<path class="n c6" d="M131.4 463.1l0.1 -0.2 -0.2 0z"/>
<path class="n c7" d="M131.5 462.9l5.7 -7.9 -2.6 -3.6 -3.3 -0.9 -4.6 6.1 4.6 6.3z"/>
<path class="n c8" d="M134.6 451.4l-2 -2.6 -1.3 1.7z"/>
<path class="o" d="M131.4 463.1l5.8 -8.1 -4.6 -6.2 -5.9 7.8z"/>
<path class="m c8" d="M147.8 453.9l5.9 -6.1 -4.7 -5.6 -5.9 5.9z"/>
<path class="n c6" d="M246.6 464.6l-2.3 -0.9 -0.4 -0.1z"/>
<path class="n c7" d="M243.8 463.9l5.6 1.7 -2.8 -1 -2.7 -1 -5.1 -1.8z"/>
<path class="o" d="M243.8 463.9l5.6 1.7 -5.1 -1.9 -5.5 -1.9z"/>
<path class="m c8" d="M158.4 453.2l5.9 -5.3 -4.7 -5.1 -5.9 5z"/>
<path class="n c7" d="M141.9 461.1l5.4 -6.7 -7.9 -1.9 -2.2 2.5z"/>
<path class="n c8" d="M147.3 454.4l0.5 -0.5 -4.7 -5.8 -3.7 4.4z"/>
<path class="o" d="M141.9 461.1l5.9 -7.2 -4.7 -5.8 -5.9 6.9z"/>
<path class="m c7" d="M233.2 461l5.6 0.8 -5 -2.2 -5.6 -1.1z"/>
<path class="m c8" d="M169 452.9l5.9 -4.3 -4.7 -4.7 -5.9 4z"/>
<path class="n c6" d="M136 469.4l3.2 -4.5 -7.7 -2 -0.1 0.2z"/>
<path class="n c7" d="M139.2 464.9l2.7 -3.8 -4.7 -6.1 -5.7 7.9z"/>
<path class="o" d="M136 469.4l5.9 -8.3 -4.7 -6.1 -5.8 8.1z"/>
<path class="n c7" d="M225.2 458.5l3 0 -5 -2.7 -2.6 -0.1z"/>
<path class="n c8" d="M222.5 458.5l2.7 0 -4.6 -2.8 -3.1 -0.1z"/>
<path class="o" d="M222.5 458.5l5.7 0 -5 -2.7 -5.7 -0.2z"/>
<path class="m c8" d="M179.7 453.1l5.9 -3.5 -4.8 -4.3 -5.9 3.3z"/>
<path class="m c8" d="M211.8 456.5l5.7 -0.9 -4.9 -3.1 -5.7 0.6z"/>
<path class="m c8" d="M190.4 453.8l5.8 -2.6 -4.8 -3.9 -5.8 2.3z"/>
<path class="m c8" d="M201.1 454.9l5.8 -1.8 -4.9 -3.4 -5.8 1.5z"/>
<path class="n c7" d="M152.5 459.5l3.1 -3.3 -7.1 -1.5z"/>
<path class="n c8" d="M155.6 456.2l2.8 -3 -4.7 -5.4 -5.9 6.1 0.7 0.8z"/>
<path class="o" d="M152.5 459.5l5.9 -6.3 -4.7 -5.4 -5.9 6.1z"/>
<path class="n c6" d="M146.6 467l0 0 -0.1 -0.1z"/>
<path class="n c7" d="M146.6 467l5.9 -7.5 -4 -4.8 -1.2 -0.3 -5.4 6.7 4.6 5.8z"/>
<path class="n c8" d="M148.5 454.7l-0.7 -0.8 -0.5 0.5z"/>
<path class="o" d="M146.6 467l5.9 -7.5 -4.7 -5.6 -5.9 7.2z"/>
<path class="n c7" d="M163.1 458.4l0.4 -0.4 -0.9 -0.2z"/>
<path class="n c8" d="M163.5 458l5.5 -5.1 -4.7 -5 -5.9 5.3 4.2 4.6z"/>
<path class="o" d="M163.1 458.4l5.9 -5.5 -4.7 -5 -5.9 5.3z"/>
<path class="k" d="M259.7 468.9l5.4 2.3 -5.2 -1.4 -5.4 -2.5z"/>
<path class="n c6" d="M140.7 475.6l5.9 -8.6 -0.1 -0.1 -7.3 -2 -3.2 4.5z"/>
<path class="n c7" d="M146.5 466.9l-4.6 -5.8 -2.7 3.8z"/>
<path class="o" d="M140.7 475.6l5.9 -8.6 -4.7 -5.9 -5.9 8.3z"/>
<path class="m c8" d="M173.8 457.7l5.9 -4.6 -4.8 -4.5 -5.9 4.3z"/>
<path class="m c7" d="M249 465.9l5.5 1.4 -5.1 -1.7 -5.6 -1.7z"/>
<path class="n c7" d="M157.2 465l5.9 -6.6 -0.5 -0.6 -7 -1.6 -3.1 3.3z"/>
<path class="n c8" d="M162.6 457.8l-4.2 -4.6 -2.8 3z"/>
<path class="o" d="M157.2 465l5.9 -6.6 -4.7 -5.2 -5.9 6.3z"/>
<path class="m c8" d="M184.5 457.5l5.9 -3.7 -4.8 -4.2 -5.9 3.5z"/>
<path class="m c7" d="M238.2 463.4l5.6 0.5 -5 -2.1 -5.6 -0.8z"/>
<path class="m c8" d="M195.2 457.8l5.9 -2.9 -4.9 -3.7 -5.8 2.6z"/>
<path class="n c7" d="M229.7 461.2l3.5 -0.2 -5 -2.5 -3 0z"/>
<path class="n c8" d="M227.5 461.3l2.2 -0.1 -4.5 -2.7 -2.7 0z"/>
<path class="o" d="M227.5 461.3l5.7 -0.3 -5 -2.5 -5.7 0z"/>
<path class="m c8" d="M205.9 458.5l5.9 -2 -4.9 -3.4 -5.8 1.8z"/>
<path class="m c8" d="M216.7 459.7l5.8 -1.2 -5 -2.9 -5.7 0.9z"/>
<path class="n c6" d="M151.3 472.8l3 -4 -7.7 -1.8 0 0z"/>
<path class="n c7" d="M154.3 468.8l2.9 -3.8 -4.7 -5.5 -5.9 7.5z"/>
<path class="o" d="M151.3 472.8l5.9 -7.8 -4.7 -5.5 -5.9 7.5z"/>
<path class="n c7" d="M167.8 463.5l4.1 -3.9 -8.4 -1.6 -0.4 0.4z"/>
<path class="n c8" d="M171.9 459.6l1.9 -1.9 -4.8 -4.8 -5.5 5.1z"/>
<path class="o" d="M167.8 463.5l6 -5.8 -4.8 -4.8 -5.9 5.5z"/>
<path class="n c5" d="M145.4 481.6l1.8 -2.8 -5 -1.3z"/>
<path class="n c6" d="M147.2 478.8l4.1 -6 -4.7 -5.8 -5.9 8.6 1.5 1.9z"/>
<path class="o" d="M145.4 481.6l5.9 -8.8 -4.7 -5.8 -5.9 8.6z"/>
<path class="n c7" d="M178.5 462.4l1.6 -1.2 -3.4 -0.6z"/>
<path class="n c8" d="M180.1 461.2l4.4 -3.7 -4.8 -4.4 -5.9 4.6 2.9 2.9z"/>
<path class="o" d="M178.5 462.4l6 -4.9 -4.8 -4.4 -5.9 4.6z"/>
<path class="m c7" d="M161.9 470.4l5.9 -6.9 -4.7 -5.1 -5.9 6.6z"/>
<path class="m c8" d="M189.3 461.8l5.9 -4 -4.8 -4 -5.9 3.7z"/>
<path class="n c6" d="M156 478.4l5.7 -7.7 -7.4 -1.9 -3 4z"/>
<path class="n c7" d="M161.7 470.7l0.2 -0.3 -4.7 -5.4 -2.9 3.8z"/>
<path class="o" d="M156 478.4l5.9 -8 -4.7 -5.4 -5.9 7.8z"/>
<path class="n c5" d="M150.1 487.6l4.4 -6.8 -7.3 -2 -1.8 2.8z"/>
<path class="n c6" d="M154.5 480.8l1.5 -2.4 -4.7 -5.6 -4.1 6z"/>
<path class="o" d="M150.1 487.6l5.9 -9.2 -4.7 -5.6 -5.9 8.8z"/>
<path class="m c8" d="M200.1 461.6l5.8 -3.1 -4.8 -3.6 -5.9 2.9z"/>
<path class="m c7" d="M254.1 467.7l5.6 1.2 -5.2 -1.6 -5.5 -1.4z"/>
<path class="n c7" d="M172.6 468.5l5.9 -6.1 -1.8 -1.8 -4.8 -1 -4.1 3.9z"/>
<path class="n c8" d="M176.7 460.6l-2.9 -2.9 -1.9 1.9z"/>
<path class="o" d="M172.6 468.5l5.9 -6.1 -4.7 -4.7 -6 5.8z"/>
<path class="m c8" d="M210.9 461.9l5.8 -2.2 -4.9 -3.2 -5.9 2z"/>
<path class="m c7" d="M243.3 465.6l5.7 0.3 -5.2 -2 -5.6 -0.5z"/>
<path class="m c8" d="M221.7 462.7l5.8 -1.4 -5 -2.8 -5.8 1.2z"/>
<path class="n c7" d="M234.3 463.7l3.9 -0.3 -5 -2.4 -3.5 0.2z"/>
<path class="n c8" d="M232.5 463.9l1.8 -0.2 -4.6 -2.5 -2.2 0.1z"/>
<path class="o" d="M232.5 463.9l5.7 -0.5 -5 -2.4 -5.7 0.3z"/>
<path class="n c6" d="M166.7 475.6l2.6 -3.1 -6.9 -1.6z"/>
<path class="n c7" d="M169.3 472.5l3.3 -4 -4.8 -5 -5.9 6.9 0.5 0.5z"/>
<path class="o" d="M166.7 475.6l5.9 -7.1 -4.8 -5 -5.9 6.9z"/>
<path class="n c7" d="M183.4 467l4.9 -4.3 -8.2 -1.5 -1.6 1.2z"/>
<path class="n c8" d="M188.3 462.7l1 -0.9 -4.8 -4.3 -4.4 3.7z"/>
<path class="o" d="M183.4 467l5.9 -5.2 -4.8 -4.3 -6 4.9z"/>
<path class="n c5" d="M160.7 483.9l1 -1.3 -2.6 -0.6z"/>
<path class="n c6" d="M161.7 482.6l5 -7 -4.3 -4.7 -0.7 -0.2 -5.7 7.7 3.1 3.6z"/>
<path class="n c7" d="M162.4 470.9l-0.5 -0.5 -0.2 0.3z"/>
<path class="o" d="M160.7 483.9l6 -8.3 -4.8 -5.2 -5.9 8z"/>
<path class="n c4" d="M154.8 493.3l0.7 -1 -1.9 -0.5z"/>
<path class="n c5" d="M155.5 492.3l5.2 -8.4 -1.6 -1.9 -4.6 -1.2 -4.4 6.8 3.5 4.2z"/>
<path class="n c6" d="M159.1 482l-3.1 -3.6 -1.5 2.4z"/>
<path class="o" d="M154.8 493.3l5.9 -9.4 -4.7 -5.5 -5.9 9.2z"/>
<path class="n c7" d="M194.2 465.9l2.6 -1.9 -5.8 -0.8z"/>
<path class="n c8" d="M196.8 464l3.3 -2.4 -4.9 -3.8 -5.9 4 1.7 1.4z"/>
<path class="o" d="M194.2 465.9l5.9 -4.3 -4.9 -3.8 -5.9 4z"/>
<path class="m c7" d="M177.4 473.3l6 -6.3 -4.9 -4.6 -5.9 6.1z"/>
<path class="m c8" d="M205 465.4l5.9 -3.5 -5 -3.4 -5.8 3.1z"/>
<path class="m c8" d="M215.8 465.2l5.9 -2.5 -5 -3 -5.8 2.2z"/>
<path class="n c6" d="M171.5 480.7l5.2 -6.5 -7.4 -1.7 -2.6 3.1z"/>
<path class="n c7" d="M176.7 474.2l0.7 -0.9 -4.8 -4.8 -3.3 4z"/>
<path class="o" d="M171.5 480.7l5.9 -7.4 -4.8 -4.8 -5.9 7.1z"/>
<path class="m c8" d="M226.7 465.6l5.8 -1.7 -5 -2.6 -5.8 1.4z"/>
<path class="n c7" d="M188.2 471.4l6 -5.5 -3.2 -2.7 -2.7 -0.5 -4.9 4.3z"/>
<path class="n c8" d="M191 463.2l-1.7 -1.4 -1 0.9z"/>
<path class="o" d="M188.2 471.4l6 -5.5 -4.9 -4.1 -5.9 5.2z"/>
<path class="n c7" d="M238.8 466.2l4.5 -0.6 -5.1 -2.2 -3.9 0.3z"/>
<path class="n c8" d="M237.6 466.4l1.2 -0.2 -4.5 -2.5 -1.8 0.2z"/>
<path class="o" d="M237.6 466.4l5.7 -0.8 -5.1 -2.2 -5.7 0.5z"/>
<path class="m c7" d="M248.5 467.6l5.6 0.1 -5.1 -1.8 -5.7 -0.3z"/>
<path class="n c5" d="M165.5 489.3l3.4 -4.9 -7.2 -1.8 -1 1.3z"/>
<path class="n c6" d="M168.9 484.4l2.6 -3.7 -4.8 -5.1 -5 7z"/>
<path class="o" d="M165.5 489.3l6 -8.6 -4.8 -5.1 -6 8.3z"/>
<path class="n c4" d="M159.6 499l3 -4.9 -7.1 -1.8 -0.7 1z"/>
<path class="n c5" d="M162.6 494.1l2.9 -4.8 -4.8 -5.4 -5.2 8.4z"/>
<path class="o" d="M159.6 499l5.9 -9.7 -4.8 -5.4 -5.9 9.4z"/>
<path class="n c7" d="M199.1 469.9l5.7 -4.4 -8 -1.5 -2.6 1.9z"/>
<path class="n c8" d="M204.8 465.5l0.2 -0.1 -4.9 -3.8 -3.3 2.4z"/>
<path class="o" d="M199.1 469.9l5.9 -4.5 -4.9 -3.8 -5.9 4.3z"/>
<path class="n c6" d="M182.2 478l1.9 -2.1 -5.1 -1.1z"/>
<path class="n c7" d="M184.1 475.9l4.1 -4.5 -4.8 -4.4 -6 6.3 1.6 1.5z"/>
<path class="o" d="M182.2 478l6 -6.6 -4.8 -4.4 -6 6.3z"/>
<path class="n c7" d="M209.9 468.9l3.8 -2.3 -8.4 -1z"/>
<path class="n c8" d="M213.7 466.6l2.1 -1.4 -4.9 -3.3 -5.9 3.5 0.3 0.2z"/>
<path class="o" d="M209.9 468.9l5.9 -3.7 -4.9 -3.3 -5.9 3.5z"/>
<path class="n c6" d="M176.3 485.7l5.9 -7.7 -3.2 -3.2 -2.3 -0.6 -5.2 6.5z"/>
<path class="n c7" d="M179 474.8l-1.6 -1.5 -0.7 0.9z"/>
<path class="o" d="M176.3 485.7l5.9 -7.7 -4.8 -4.7 -5.9 7.4z"/>
<path class="n c4" d="M164.4 504.5l5.1 -8.6 -6.9 -1.8 -3 4.9z"/>
<path class="n c5" d="M169.5 495.9l0.8 -1.4 -4.8 -5.2 -2.9 4.8z"/>
<path class="o" d="M164.4 504.5l5.9 -10 -4.8 -5.2 -5.9 9.7z"/>
<path class="n c5" d="M170.3 494.5l5.6 -8.3 -7 -1.8 -3.4 4.9z"/>
<path class="n c6" d="M175.9 486.2l0.4 -0.5 -4.8 -5 -2.6 3.7z"/>
<path class="o" d="M170.3 494.5l6 -8.8 -4.8 -5 -6 8.6z"/>
<path class="n c7" d="M220.9 468.4l1.3 -0.6 -2.5 -0.2z"/>
<path class="n c8" d="M222.2 467.8l4.5 -2.2 -5 -2.9 -5.9 2.5 3.9 2.4z"/>
<path class="o" d="M220.9 468.4l5.8 -2.8 -5 -2.9 -5.9 2.5z"/>
<path class="m c7" d="M193.1 475.7l6 -5.8 -4.9 -4 -6 5.5z"/>
<path class="m c8" d="M231.8 468.3l5.8 -1.9 -5.1 -2.5 -5.8 1.7z"/>
<path class="n c7" d="M243.2 468.6l5.3 -1 -5.2 -2 -4.5 0.6z"/>
<path class="n c8" d="M242.7 468.7l0.5 -0.1 -4.4 -2.4 -1.2 0.2z"/>
<path class="o" d="M242.7 468.7l5.8 -1.1 -5.2 -2 -5.7 0.8z"/>
<path class="n c6" d="M187.1 482.5l4.4 -5 -7.4 -1.6 -1.9 2.1z"/>
<path class="n c7" d="M191.5 477.5l1.6 -1.8 -4.9 -4.3 -4.1 4.5z"/>
<path class="o" d="M187.1 482.5l6 -6.8 -4.9 -4.3 -6 6.6z"/>
<path class="n c7" d="M204 473.8l5.9 -4.9 -4.6 -3.3 -0.5 -0.1 -5.7 4.4z"/>
<path class="n c8" d="M205.3 465.6l-0.3 -0.2 -0.2 0.1z"/>
<path class="o" d="M204 473.8l5.9 -4.9 -4.9 -3.5 -5.9 4.5z"/>
<path class="n c5" d="M181.1 490.5l2 -2.7 -6 -1.3z"/>
<path class="n c6" d="M183.1 487.8l4 -5.3 -4.9 -4.5 -5.9 7.7 0.8 0.8z"/>
<path class="o" d="M181.1 490.5l6 -8 -4.9 -4.5 -5.9 7.7z"/>
<path class="n c3" d="M169.2 509.8l1.7 -2.9 -5.5 -1.3z"/>
<path class="n c4" d="M170.9 506.9l4.3 -7.3 -2.9 -3 -2.8 -0.7 -5.1 8.6 1 1.1z"/>
<path class="n c5" d="M172.3 496.6l-2 -2.1 -0.8 1.4z"/>
<path class="o" d="M169.2 509.8l6 -10.2 -4.9 -5.1 -5.9 10z"/>
<path class="n c4" d="M175.2 499.6l1.3 -2 -4.2 -1z"/>
<path class="n c5" d="M176.5 497.6l4.6 -7.1 -4 -4 -1.2 -0.3 -5.6 8.3 2 2.1z"/>
<path class="n c6" d="M177.1 486.5l-0.8 -0.8 -0.4 0.5z"/>
<path class="o" d="M175.2 499.6l5.9 -9.1 -4.8 -4.8 -6 8.8z"/>
<path class="n c7" d="M214.9 472.4l6 -4 -1.2 -0.8 -6 -1 -3.8 2.3z"/>
<path class="n c8" d="M219.7 467.6l-3.9 -2.4 -2.1 1.4z"/>
<path class="o" d="M214.9 472.4l6 -4 -5.1 -3.2 -5.9 3.7z"/>
<path class="n c6" d="M198 479.8l0.7 -0.7 -1.9 -0.4z"/>
<path class="n c7" d="M198.7 479.1l5.3 -5.3 -4.9 -3.9 -6 5.8 3.7 3z"/>
<path class="o" d="M198 479.8l6 -6 -4.9 -3.9 -6 5.8z"/>
<path class="n c7" d="M225.9 471.4l5 -2.6 -8.7 -1 -1.3 0.6z"/>
<path class="n c8" d="M230.9 468.8l0.9 -0.5 -5.1 -2.7 -4.5 2.2z"/>
<path class="o" d="M225.9 471.4l5.9 -3.1 -5.1 -2.7 -5.8 2.8z"/>
<path class="n c7" d="M236.9 470.9l4.8 -1.8 -7.8 0.3z"/>
<path class="n c8" d="M241.7 469.1l1 -0.4 -5.1 -2.3 -5.8 1.9 2.1 1.1z"/>
<path class="o" d="M236.9 470.9l5.8 -2.2 -5.1 -2.3 -5.8 1.9z"/>
<path class="n c6" d="M192 486.9l6 -7.1 -1.2 -1.1 -5.3 -1.2 -4.4 5z"/>
<path class="n c7" d="M196.8 478.7l-3.7 -3 -1.6 1.8z"/>
<path class="o" d="M192 486.9l6 -7.1 -4.9 -4.1 -6 6.8z"/>
<path class="m c7" d="M209 477.5l5.9 -5.1 -5 -3.5 -5.9 4.9z"/>
<path class="n c5" d="M186 495.2l4.2 -5.7 -7.1 -1.7 -2 2.7z"/>
<path class="n c6" d="M190.2 489.5l1.8 -2.6 -4.9 -4.4 -4 5.3z"/>
<path class="o" d="M186 495.2l6 -8.3 -4.9 -4.4 -6 8z"/>
<path class="n c3" d="M174.1 515.1l3.7 -6.5 -6.9 -1.7 -1.7 2.9z"/>
<path class="n c4" d="M177.8 508.6l2.2 -4 -4.8 -5 -4.3 7.3z"/>
<path class="o" d="M174.1 515.1l5.9 -10.5 -4.8 -5 -6 10.2z"/>
<path class="n c4" d="M180 504.6l3.5 -5.4 -7 -1.6 -1.3 2z"/>
<path class="n c5" d="M183.5 499.2l2.5 -4 -4.9 -4.7 -4.6 7.1z"/>
<path class="o" d="M180 504.6l6 -9.4 -4.9 -4.7 -5.9 9.1z"/>
<path class="m c7" d="M220 475.6l5.9 -4.2 -5 -3 -6 4z"/>
<path class="n c6" d="M203 483.8l3 -3.2 -7.3 -1.5 -0.7 0.7z"/>
<path class="n c7" d="M206 480.6l3 -3.1 -5 -3.7 -5.3 5.3z"/>
<path class="o" d="M203 483.8l6 -6.3 -5 -3.7 -6 6z"/>
<path class="n c7" d="M231 474.3l5.9 -3.4 -3 -1.5 -3 -0.6 -5 2.6z"/>
<path class="n c8" d="M233.9 469.4l-2.1 -1.1 -0.9 0.5z"/>
<path class="o" d="M231 474.3l5.9 -3.4 -5.1 -2.6 -5.9 3.1z"/>
<path class="n c5" d="M197 491.2l0.1 -0.1 -0.3 -0.1z"/>
<path class="n c6" d="M197.1 491.1l5.9 -7.3 -5 -4 -6 7.1 4.8 4.1z"/>
<path class="o" d="M197 491.2l6 -7.4 -5 -4 -6 7.1z"/>
<path class="n c2" d="M178.9 520.2l0.5 -0.8 -1.6 -0.4z"/>
<path class="n c3" d="M179.4 519.4l5.1 -9.2 -6.7 -1.6 -3.7 6.5 3.7 3.9z"/>
<path class="n c4" d="M184.5 510.2l0.4 -0.8 -4.9 -4.8 -2.2 4z"/>
<path class="o" d="M178.9 520.2l6 -10.8 -4.9 -4.8 -5.9 10.5z"/>
<path class="m c7" d="M214 481.1l6 -5.5 -5.1 -3.2 -5.9 5.1z"/>
<path class="n c5" d="M191 499.7l6 -8.5 -0.2 -0.2 -6.6 -1.5 -4.2 5.7z"/>
<path class="n c6" d="M196.8 491l-4.8 -4.1 -1.8 2.6z"/>
<path class="o" d="M191 499.7l6 -8.5 -5 -4.3 -6 8.3z"/>
<path class="n c4" d="M184.9 509.4l5.4 -8.6 -6.8 -1.6 -3.5 5.4z"/>
<path class="n c5" d="M190.3 500.8l0.7 -1.1 -5 -4.5 -2.5 4z"/>
<path class="o" d="M184.9 509.4l6.1 -9.7 -5 -4.5 -6 9.4z"/>
<path class="n c6" d="M208 487.6l5 -5.5 -7 -1.5 -3 3.2z"/>
<path class="n c7" d="M213 482.1l1 -1 -5 -3.6 -3 3.1z"/>
<path class="o" d="M208 487.6l6 -6.5 -5 -3.6 -6 6.3z"/>
<path class="m c7" d="M225.1 478.8l5.9 -4.5 -5.1 -2.9 -5.9 4.2z"/>
<path class="n c5" d="M202 495.3l2.2 -2.8 -7.1 -1.4 -0.1 0.1z"/>
<path class="n c6" d="M204.2 492.5l3.8 -4.9 -5 -3.8 -5.9 7.3z"/>
<path class="o" d="M202 495.3l6 -7.7 -5 -3.8 -6 7.4z"/>
<path class="n c2" d="M183.9 525.1l2.3 -4.2 -6.8 -1.5 -0.5 0.8z"/>
<path class="n c3" d="M186.2 520.9l3.7 -6.8 -3.7 -3.5 -1.7 -0.4 -5.1 9.2z"/>
<path class="n c4" d="M186.2 510.6l-1.3 -1.2 -0.4 0.8z"/>
<path class="o" d="M183.9 525.1l6 -11 -5 -4.7 -6 10.8z"/>
<path class="n c4" d="M195.9 504.1l1.3 -1.8 -4.4 -0.9z"/>
<path class="n c5" d="M197.2 502.3l4.8 -7 -5 -4.1 -6 8.5 1.8 1.7z"/>
<path class="o" d="M195.9 504.1l6.1 -8.8 -5 -4.1 -6 8.5z"/>
<path class="n c3" d="M189.9 514.1l1.4 -2.4 -5.1 -1.1z"/>
<path class="n c4" d="M191.3 511.7l4.6 -7.6 -3.1 -2.7 -2.5 -0.6 -5.4 8.6 1.3 1.2z"/>
<path class="n c5" d="M192.8 501.4l-1.8 -1.7 -0.7 1.1z"/>
<path class="o" d="M189.9 514.1l6 -10 -4.9 -4.4 -6.1 9.7z"/>
<path class="n c6" d="M219.1 484.5l1 -1 -3.3 -0.6z"/>
<path class="n c7" d="M220.1 483.5l5 -4.7 -5.1 -3.2 -6 5.5 2.8 1.8z"/>
<path class="o" d="M219.1 484.5l6 -5.7 -5.1 -3.2 -6 5.5z"/>
<path class="n c6" d="M213.1 491.3l6 -6.8 -2.3 -1.6 -3.8 -0.8 -5 5.5z"/>
<path class="n c7" d="M216.8 482.9l-2.8 -1.8 -1 1z"/>
<path class="o" d="M213.1 491.3l6 -6.8 -5.1 -3.4 -6 6.5z"/>
<path class="n c2" d="M188.8 530l4.1 -7.7 -6.7 -1.4 -2.3 4.2z"/>
<path class="n c3" d="M192.9 522.3l2 -3.7 -5 -4.5 -3.7 6.8z"/>
<path class="o" d="M188.8 530l6.1 -11.4 -5 -4.5 -6 11z"/>
<path class="n c5" d="M207 499.3l4 -5.3 -6.8 -1.5 -2.2 2.8z"/>
<path class="n c6" d="M211 494l2.1 -2.7 -5.1 -3.7 -3.8 4.9z"/>
<path class="o" d="M207 499.3l6.1 -8 -5.1 -3.7 -6 7.7z"/>
<path class="n c3" d="M194.9 518.6l3.2 -5.4 -6.8 -1.5 -1.4 2.4z"/>
<path class="n c4" d="M198.1 513.2l2.8 -4.8 -5 -4.3 -4.6 7.6z"/>
<path class="o" d="M194.9 518.6l6 -10.2 -5 -4.3 -6 10z"/>
<path class="n c4" d="M200.9 508.4l3.2 -4.7 -6.9 -1.4 -1.3 1.8z"/>
<path class="n c5" d="M204.1 503.7l2.9 -4.4 -5 -4 -4.8 7z"/>
<path class="o" d="M200.9 508.4l6.1 -9.1 -5 -4 -6.1 8.8z"/></g>
<g class="pt"><path class="st" d="M234.2 442.6l0 13.4M267.8 472.7l0 5.3M190.5 530l0 3M230 484l0 7"/><circle cx="165.2" cy="413" r="2.5"/><circle cx="166" cy="435.1" r="2.5"/><circle cx="202.7" cy="433" r="2.5"/><circle cx="234.2" cy="440" r="2.5"/><circle cx="196.8" cy="454.7" r="2.5"/><circle cx="230" cy="460" r="2.5"/><circle cx="126.8" cy="455" r="2.5"/><circle cx="158.2" cy="482.7" r="2.5"/><circle cx="157.5" cy="496.7" r="2.5"/><circle cx="267.8" cy="470.1" r="2.5"/><circle cx="234.2" cy="476" r="2.5"/><circle cx="230" cy="481.3" r="2.5"/><circle cx="190.5" cy="535.5" r="2.5"/></g>
<path class="ax" d="M111.8 412.5l4.8 99.8 72.4 53.9 89.8 -45.1M116.5 510l1.6 -0.7M116.4 506.9l1.6 -0.7M116.2 503.9l1.6 -0.7M116.1 500.8l1.6 -0.7M115.9 497.7l1.7 -0.7M115.8 494.6l1.6 -0.7M115.6 491.5l1.7 -0.7M115.5 488.3l1.6 -0.7M115.3 485.2l1.7 -0.7M115.2 482l1.6 -0.7M115 478.9l1.7 -0.7M114.9 475.7l1.6 -0.7M114.7 472.5l1.7 -0.7M114.5 469.3l1.7 -0.7M114.4 466.1l1.7 -0.7M114.2 462.9l1.7 -0.7M114.1 459.6l1.7 -0.7M113.9 456.4l1.7 -0.7M113.8 453.1l1.6 -0.7M113.6 449.9l1.7 -0.7M113.4 446.6l1.7 -0.7M113.3 443.3l1.7 -0.7M113.1 440l1.7 -0.7M113 436.6l1.7 -0.6M112.8 433.3l1.7 -0.7M112.6 430l1.7 -0.7M112.5 426.6l1.7 -0.7M112.3 423.2l1.7 -0.7M112.1 419.8l1.8 -0.6M112 416.4l1.7 -0.6M111.8 413l1.7 -0.7M115.9 497.7l3.1 -1.3M115.2 482l3 -1.3M114.4 466.1l3.1 -1.3M113.6 449.9l3.1 -1.3M112.8 433.3l3.2 -1.3M112 416.4l3.2 -1.2M189 566.2l2.6 -1.3M189 566.2l-2.1 -1.6M185.8 563.8l1.4 -0.7M193 564.2l-1.2 -0.9M182.6 561.4l1.4 -0.7M196.9 562.2l-1.2 -0.9M179.4 559l1.4 -0.7M200.8 560.2l-1.1 -0.8M176.2 556.6l2.6 -1.2M204.7 558.3l-2.1 -1.6M173.1 554.3l1.4 -0.7M208.6 556.3l-1.2 -0.8M169.9 552l1.4 -0.7M212.5 554.4l-1.2 -0.8M166.8 549.6l1.4 -0.6M216.3 552.5l-1.1 -0.9M163.7 547.3l2.6 -1.2M220.1 550.5l-2.1 -1.5M160.6 545.1l1.4 -0.7M224 548.6l-1.2 -0.8M157.6 542.8l1.4 -0.7M227.7 546.7l-1.1 -0.8M154.5 540.5l1.4 -0.7M231.5 544.8l-1.2 -0.8M151.5 538.3l2.6 -1.3M235.3 543l-2.2 -1.5M148.5 536l1.4 -0.6M239 541.1l-1.2 -0.8M145.5 533.8l1.4 -0.6M242.7 539.2l-1.2 -0.8M142.6 531.6l1.4 -0.7M246.4 537.4l-1.2 -0.8M139.6 529.4l2.6 -1.2M250.1 535.5l-2.2 -1.4M136.7 527.2l1.4 -0.6M253.7 533.7l-1.2 -0.8M133.8 525.1l1.4 -0.7M257.4 531.9l-1.2 -0.8M130.9 522.9l1.4 -0.6M261 530.1l-1.2 -0.8M128 520.7l2.5 -1.1M264.6 528.2l-2.2 -1.4M125.1 518.6l1.4 -0.6M268.2 526.4l-1.2 -0.7M122.3 516.5l1.4 -0.6M271.7 524.7l-1.1 -0.8M119.4 514.4l1.4 -0.6M275.3 522.9l-1.2 -0.8M116.6 512.3l2.6 -1.1M278.8 521.1l-2.2 -1.4"/>
<g class="tk"><text text-anchor="middle" dy=".35em" transform="translate(104.6 502.5) rotate(-20)">55</text><text text-anchor="middle" dy=".35em" transform="translate(103.9 486.8) rotate(-20)">65</text><text text-anchor="middle" dy=".35em" transform="translate(103.1 470.9) rotate(-20)">75</text><text text-anchor="middle" dy=".35em" transform="translate(102.3 454.7) rotate(-20)">85</text><text text-anchor="middle" dy=".35em" transform="translate(101.5 438.1) rotate(-20)">95</text><text text-anchor="middle" dy=".35em" transform="translate(98.4 421.2) rotate(-20)">105</text><text text-anchor="end" transform="translate(186 570) rotate(-45)">−1.2</text><text text-anchor="middle" transform="translate(193.5 576.7) rotate(-30)">−1.2</text><text text-anchor="end" transform="translate(173.2 560.4) rotate(-45)">−0.8</text><text text-anchor="middle" transform="translate(209.2 568.8) rotate(-30)">−0.8</text><text text-anchor="end" transform="translate(160.7 551.1) rotate(-45)">−0.4</text><text text-anchor="middle" transform="translate(224.6 561) rotate(-30)">−0.4</text><text text-anchor="end" transform="translate(148.5 542.1) rotate(-45)">0.0</text><text text-anchor="middle" transform="translate(239.8 553.5) rotate(-30)">0.0</text><text text-anchor="end" transform="translate(136.6 533.2) rotate(-45)">0.4</text><text text-anchor="middle" transform="translate(254.6 546) rotate(-30)">0.4</text><text text-anchor="end" transform="translate(125 524.5) rotate(-45)">0.8</text><text text-anchor="middle" transform="translate(269.1 538.7) rotate(-30)">0.8</text><text text-anchor="end" transform="translate(113.6 516.1) rotate(-45)">1.2</text><text text-anchor="middle" transform="translate(283.3 531.6) rotate(-30)">1.2</text><text text-anchor="middle" style="font-size:7.2px" transform="translate(79.5 479.5) rotate(90)">Y3</text><text text-anchor="middle" transform="translate(119 557) rotate(52)">X2</text><text text-anchor="middle" transform="translate(249 564) rotate(-30)">X1</text></g>
<path class="wl" d="M426.1 514.3l87.9 -39.2 0.4 -96.3 -93.1 35.7z"/>
<path class="wl" d="M514 475.1l74.3 48 5 -100.6 -78.9 -43.7z"/>
<path class="wl" d="M426.1 514.3l72.4 53.9 89.8 -45.1 -74.3 -48z"/>
<path class="gr" d="M426.1 514.3l-4.8 -99.8M588.3 523.1l5 -100.6M441.5 507.4l-3.9 -99.2M575.2 514.6l4.1 -99.8M456.5 500.7l-2.9 -98.6M562.4 506.4l3.3 -99.1M471.3 494.1l-2.1 -98M549.9 498.3l2.5 -98.4M485.8 487.7l-1.2 -97.5M537.7 490.4l1.7 -97.7M500 481.3l-0.4 -96.8M525.7 482.7l1.1 -97M514 475.1l0.4 -96.3M514 475.1l0.4 -96.3M425.5 502.4l88.5 -38.8 74.9 47.6M425 490.4l89.1 -38.4 75.4 47.1M424.4 478.2l89.7 -38 76 46.6M423.8 465.8l90.4 -37.5 76.5 46M423.2 453.3l91 -37.1 77.2 45.5M422.6 440.5l91.7 -36.6 77.7 44.9M421.9 427.6l92.4 -36.2 78.3 44.4M421.3 414.5l93.1 -35.7 78.9 43.7"/>
<path class="gf" d="M514.2 560.3l-72.7 -52.9M485.7 558.6l89.5 -44M529.6 552.5l-73.1 -51.8M473.2 549.3l89.2 -42.9M544.8 545l-73.5 -50.9M461 540.3l88.9 -42M559.6 537.5l-73.8 -49.8M449.1 531.4l88.6 -41M574.1 530.2l-74.1 -48.9M437.5 522.7l88.2 -40"/>
<path class="cd" stroke="#98a398" d="M472.3 493.7l1 1.9 0.7 1.3 0.6 1.2 0.8 2.1 0.4 1.1 0.4 1.3 0.4 2 0 1.7 -0.3 1.5 -0.6 1.3 -0.9 1.1 -2.7 1.6 -3.5 1 -2 0.3 -2.4 0.2 -3.1 0.1 -2.9 0 -2.8 -0.2 -2.6 -0.1 -2.5 -0.2 -2.5 -0.3 -2.4 -0.2 -2.5 -0.3 -3 -0.4 -3 -0.4 -3 -0.4 -0.1 0"/>
<path class="cs" stroke="#9bb098" d="M479.4 490.5l1.7 1.9 0.8 0.9 1.6 1.9 1.7 1.9 0.8 0.9 1.7 1.9 1.2 1.4 1.3 1.5 1.7 2 0.8 0.9 1.6 2 1.4 1.6 1.1 1.4 1.6 2 0.8 1.1 1.5 2 0.8 1.1 1.4 2.2 0.7 1.1 1.1 2.3 0.3 1.3 0 1.4 -1.4 1.8 -3.6 0.6 -3 0 -2.6 -0.2 -2.5 -0.3 -2.4 -0.3 -2.3 -0.3 -2.5 -0.4 -3.2 -0.6 -3.3 -0.5 -2.1 -0.5 -2.2 -0.4 -2.6 -0.5 -3.4 -0.6 -2.5 -0.5 -2.1 -0.5 -2.4 -0.4 -3.5 -0.7 -2.5 -0.6 -2.1 -0.4 -2.3 -0.5 -3.5 -0.7 -2.4 -0.5 -2.1 -0.5 -2.5 -0.5 -3.5 -0.8 -2.2 -0.4 -2 -0.5 -2.8 -0.6 -3.3 -0.7"/>
<path class="cd" stroke="#a6b89e" d="M524.4 555.2l-2.8 -1.8 -2.8 -1.7 -2.8 -1.8 -1.9 -1 -2.5 -1.4 -3 -1.6 -3.1 -1.6 -1.6 -0.7 -3.2 -1.5 -3.1 -1.4 -1.8 -0.7 -3.4 -1.4 -1.7 -0.7 -3.4 -1.3 -1.8 -0.6 -3.5 -1.3 -1.7 -0.6 -3.6 -1.2 -1.8 -0.6 -3.2 -1 -2.3 -0.8 -2.1 -0.6 -3.4 -1.1 -1.9 -0.5 -3.3 -1 -2.3 -0.7 -1.9 -0.5 -3.7 -1.1 -1.9 -0.5 -2.5 -0.7 -3.2 -0.9 -1.9 -0.5 -2.8 -0.8 -2.9 -0.7 -1 -0.3"/>
<path class="cd" stroke="#a6b89e" d="M484.9 488.1l1.9 1.7 0.9 0.9 1.9 1.7 1.9 1.8 2 1.8 1 0.8 2 1.8 2 1.8 2 1.7 2.1 1.8 1.1 0.9 2.1 1.7 2.2 1.8 2.2 1.7 2.3 1.7 2.3 1.8 2.4 1.7 2.4 1.7 2.5 1.6 2.6 1.7 2.6 1.6 2.7 1.6 2.8 1.6 2.9 1.5 1.5 0.8 3.1 1.5 3.1 1.5 1.6 0.7 3.2 1.4 3.3 1.4 1.8 0.7 3.4 1.4 1.8 0.6 1.8 0.7"/>
<path class="cs" stroke="#bac698" d="M516.4 559.2l-2.9 -1.8 -2.9 -1.7 -1.4 -0.8 -3 -1.7 -3 -1.6 -3 -1.6 -1.6 -0.8 -3.1 -1.5 -3.1 -1.6 -1.6 -0.7 -3.2 -1.5 -2.6 -1.1 -2.3 -1 -3.4 -1.4 -1.6 -0.7 -3.4 -1.3 -1.7 -0.7 -3.4 -1.3 -1.7 -0.6 -3.5 -1.3 -1.7 -0.6 -3.5 -1.3 -1.8 -0.6 -3.5 -1.2 -1.8 -0.6 -3 -1 -2.4 -0.7 -2 -0.7"/>
<path class="cs" stroke="#bac698" d="M489.5 486l2 1.7 2.1 1.7 2 1.6 1.1 0.9 2.1 1.7 2.1 1.6 2.2 1.7 2.1 1.7 2.3 1.7 2.3 1.6 2.3 1.7 2.3 1.7 2.4 1.6 2.5 1.6 2.4 1.7 2.6 1.6 2.6 1.6 2.6 1.6 2.7 1.6 2.8 1.5 2.8 1.6 1.5 0.7 2.9 1.6 3 1.5 3 1.4 1.6 0.8 3.1 1.4 3.2 1.4 1.6 0.8 3.3 1.4 2.7 1 2.4 1 1.7 0.7"/>
<path class="cd" stroke="#dcdfa4" d="M510.3 562.3l-2.9 -1.8 -3 -1.7 -1.5 -0.8 -3 -1.7 -3 -1.6 -2.9 -1.5 -1.7 -0.9 -3.1 -1.6 -3.1 -1.5 -1.6 -0.8 -3.2 -1.5 -2.6 -1.1 -2.2 -1.1 -3.3 -1.4 -1.6 -0.7 -3.3 -1.4 -1.9 -0.8 -3.1 -1.2 -2.5 -1 -2.6 -1 -2.7 -1"/>
<path class="cd" stroke="#dcdfa4" d="M493.6 484.2l2.1 1.6 2.1 1.6 2.2 1.7 1.6 1.2 1.7 1.2 2.2 1.7 2.2 1.6 2.3 1.6 2.4 1.6 2.3 1.6 2.4 1.7 2.5 1.6 2.5 1.5 2.5 1.6 2.6 1.6 2.6 1.6 1.3 0.8 2.7 1.5 2.7 1.6 2.8 1.5 2.9 1.5 2.6 1.4 1.7 0.9 3 1.5 3 1.4 2 0.9 2.7 1.3 3.1 1.5 2.2 0.9 2.7 1.2 3.2 1.4 1.7 0.7 3.4 1.4"/>
<path class="cs" stroke="#eee8a4" d="M505.1 564.9l-2 -1.2 -2.5 -1.4 -2.9 -1.7 -3 -1.7 -2.6 -1.3 -2 -1.1 -3.1 -1.6 -3.1 -1.6 -1.5 -0.8 -3.2 -1.5 -3.1 -1.5 -1.6 -0.8 -3.2 -1.4 -2.3 -1.1"/>
<path class="cs" stroke="#eee8a4" d="M497.3 482.5l1.8 1.4 1.5 1 2.2 1.6 2.2 1.6 2.2 1.6 2.3 1.6 2.4 1.6 2.3 1.6 2.4 1.6 2.4 1.5 2.5 1.6 2.5 1.6 2.6 1.5 2.5 1.6 1.6 0.9 2.4 1.4 2.7 1.6 2.7 1.5 2.8 1.5 2.8 1.5 1.7 0.9 2.6 1.4 3 1.4 2.9 1.5 1.7 0.8 2.9 1.4 3.1 1.4 2.5 1.2 2.2 1 3.3 1.4 2 0.9 2.9 1.2 3.3 1.4"/>
<path class="cd" stroke="#dc7474" d="M500.5 567.2l-3 -1.7 -1.5 -0.9 -3 -1.7 -3 -1.7 -3 -1.6"/>
<path class="cd" stroke="#dc7474" d="M500.7 481l2.2 1.6 2.2 1.6 2.3 1.5 2.3 1.6 2.3 1.6 2.4 1.5 2.4 1.6 2.4 1.5 2.4 1.6 2.5 1.5 2.6 1.6 2.5 1.5 2.6 1.6 2.7 1.5 2.7 1.5 1.3 0.8 2.7 1.5 2.8 1.5 2.8 1.5 2.9 1.4 1.5 0.8 2.9 1.5 2.9 1.4 3.1 1.5 1.5 0.7 3.1 1.4 3.1 1.5 1.6 0.7 3.1 1.4 3.3 1.4 1.6 0.7 3.3 1.4 1.7 0.7"/>
<path class="cs" stroke="#e29c9c" d="M503.8 479.6l2.3 1.6 2.2 1.5 2.3 1.6 2.4 1.5 2.3 1.6 2.4 1.5 2.5 1.5 2.4 1.6 2.5 1.5 2.5 1.5 2.6 1.5 1.3 0.8 2.6 1.5 2.7 1.5 2.7 1.5 2.7 1.5 2.7 1.5 2.2 1.1 2.1 1.1 2.8 1.5 2.9 1.5 2.9 1.4 1.5 0.8 3 1.4 3.1 1.5 2 0.9 2.6 1.2 3.1 1.4 2.5 1.1 2.3 1 3.3 1.4 1.9 0.9 3 1.2"/>
<path class="cd" stroke="#b85c5c" d="M506.7 478.3l2.3 1.6 2.3 1.5 2.4 1.5 2.3 1.5 2.4 1.5 2.5 1.6 2.4 1.5 2.5 1.5 1.3 0.8 2.5 1.5 2.6 1.5 2.6 1.5 2.6 1.5 2.7 1.5 2.7 1.4 2.4 1.4 1.7 0.9 2.8 1.4 2.9 1.5 2.8 1.5 1.8 0.9 2.6 1.3 3 1.4 3 1.4 1.5 0.8 3 1.4 3.1 1.4 2.2 1 2.6 1.1 3.2 1.4 2 0.9"/>
<path class="cs" stroke="#c98e7e" d="M509.5 477.1l2.3 1.5 2.3 1.5 2.4 1.5 2.4 1.5 2.4 1.5 2.5 1.5 2 1.2 1.7 1.1 2.6 1.5 2.5 1.5 2.6 1.5 2.6 1.4 2.7 1.5 2.7 1.5 2.1 1.1 2 1.1 2.8 1.5 2.8 1.4 2.8 1.5 2 1 2.4 1.2 2.9 1.4 3 1.5 1.7 0.8"/>
<g class="pt"></g>
<g class="sf"><path class="n c3" d="M489.1 440l-0.4 0.6 3.2 0.8z"/>
<path class="n c4" d="M492.8 441.6l4.2 -6.5 -3.8 -1.8 -4.1 6.7 2.8 1.4z"/>
<path class="n c5" d="M497 435.1l1 -1.6 -4.2 -1.1 -0.6 0.9z"/>
<path class="o" d="M492.8 441.6l5.2 -8.1 -4.2 -1.1 -5.1 8.2z"/>
<path class="n c2" d="M487.7 448.9l0.1 -0.1 -3.5 -1.9 -0.8 1.1z"/>
<path class="n c3" d="M487.8 448.8l4.9 -7 -0.8 -0.4 -3.2 -0.8 -4.4 6.3z"/>
<path class="n c4" d="M492.7 441.8l0.1 -0.2 -0.9 -0.2z"/>
<path class="o" d="M487.7 448.9l5.1 -7.3 -4.1 -1 -5.2 7.4z"/>
<path class="n c5" d="M498 433.5l2.9 -5 -4 -1.7 -3.1 5.6z"/>
<path class="n c6" d="M500.9 428.5l2.2 -3.9 -4.2 -1.3 -2 3.5z"/>
<path class="o" d="M498 433.5l5.1 -8.9 -4.2 -1.3 -5.1 9.1z"/>
<path class="n c1" d="M478.8 454.2l-0.4 0.5 1.6 0.3z"/>
<path class="n c2" d="M482.5 455.4l5.2 -6.5 -4.2 -0.9 -4.7 6.2 1.2 0.8z"/>
<path class="o" d="M482.5 455.4l5.2 -6.5 -4.2 -0.9 -5.1 6.7z"/>
<path class="n c6" d="M503.1 424.6l1.4 -2.5 -4.1 -1.6 -1.5 2.8z"/>
<path class="n c7" d="M504.5 422.1l3.3 -6.3 -4.1 -1.6 -3.3 6.3z"/>
<path class="n c8" d="M507.8 415.8l0.5 -0.9 -4.3 -1.4 -0.3 0.7z"/>
<path class="o" d="M503.1 424.6l5.2 -9.7 -4.3 -1.4 -5.1 9.8z"/>
<path class="n c1" d="M477.3 461.2l4.4 -4.9 -1.7 -1.3 -1.6 -0.3 -5.2 5.9z"/>
<path class="n c2" d="M481.7 456.3l0.8 -0.9 -2.5 -0.4z"/>
<path class="o" d="M477.3 461.2l5.2 -5.8 -4.1 -0.7 -5.2 5.9z"/>
<path class="n c8" d="M508.3 414.9l2.6 -5.3 -4.2 -1.6 -2.7 5.5z"/>
<path class="n c9" d="M510.9 409.6l2.6 -5.2 -4.3 -1.6 -2.5 5.2z"/>
<path class="o" d="M508.3 414.9l5.2 -10.5 -4.3 -1.6 -5.2 10.7z"/>
<path class="n c0" d="M472.1 466.2l1.4 -1.3 -2 -2.6 -3.5 3.4z"/>
<path class="n c1" d="M473.5 464.9l3.8 -3.7 -4.1 -0.6 -1.7 1.7z"/>
<path class="o" d="M472.1 466.2l5.2 -5 -4.1 -0.6 -5.2 5.1z"/>
<path class="n c9" d="M513.5 404.4l0.4 -1 -4.3 -1.5 -0.4 0.9z"/>
<path class="n c10" d="M513.9 403.4l4.7 -10.4 -4.3 -1.7 -4.7 10.6z"/>
<path class="o" d="M513.5 404.4l5.1 -11.4 -4.3 -1.7 -5.1 11.5z"/>
<path class="n c4" d="M497 442.8l3.9 -5.9 -3.9 -1.8 -4.2 6.5z"/>
<path class="n c5" d="M500.9 436.9l1.3 -2.1 -4.2 -1.3 -1 1.6z"/>
<path class="o" d="M497 442.8l5.2 -8 -4.2 -1.3 -5.2 8.1z"/>
<path class="n c2" d="M487.8 448.8l-0.1 0.1 0.5 0.1z"/>
<path class="n c3" d="M491.9 450l4.5 -6.3 -3.7 -1.9 -4.9 7 0.4 0.2z"/>
<path class="n c4" d="M496.4 443.7l0.6 -0.9 -4.2 -1.2 -0.1 0.2z"/>
<path class="o" d="M491.9 450l5.1 -7.2 -4.2 -1.2 -5.1 7.3z"/>
<path class="n c5" d="M502.2 434.8l2.7 -4.5 -4 -1.8 -2.9 5z"/>
<path class="n c6" d="M504.9 430.3l2.5 -4.2 -4.3 -1.5 -2.2 3.9z"/>
<path class="o" d="M502.2 434.8l5.2 -8.7 -4.3 -1.5 -5.1 8.9z"/>
<path class="m c0" d="M466.8 470.4l5.3 -4.2 -4.1 -0.5 -5.2 4.3z"/>
<path class="n c2" d="M486.7 456.4l4.5 -5.5 -3 -1.9 -0.5 -0.1 -5.2 6.5z"/>
<path class="n c3" d="M491.2 450.9l0.7 -0.9 -3.7 -1z"/>
<path class="o" d="M486.7 456.4l5.2 -6.4 -4.2 -1.1 -5.2 6.5z"/>
<path class="n c6" d="M507.4 426.1l1.2 -2.3 -4.1 -1.7 -1.4 2.5z"/>
<path class="n c7" d="M508.6 423.8l3.5 -6.3 -4.3 -1.7 -3.3 6.3z"/>
<path class="n c8" d="M512.1 417.5l0.5 -1 -4.3 -1.6 -0.5 0.9z"/>
<path class="o" d="M507.4 426.1l5.2 -9.6 -4.3 -1.6 -5.2 9.7z"/>
<path class="n c1" d="M481.4 462l3.2 -3.4 -2.9 -2.3 -4.4 4.9z"/>
<path class="n c2" d="M484.6 458.6l2.1 -2.2 -4.2 -1 -0.8 0.9z"/>
<path class="o" d="M481.4 462l5.3 -5.6 -4.2 -1 -5.2 5.8z"/>
<path class="n c8" d="M512.6 416.5l2.6 -5.3 -4.3 -1.6 -2.6 5.3z"/>
<path class="n c9" d="M515.2 411.2l2.6 -5.1 -4.3 -1.7 -2.6 5.2z"/>
<path class="o" d="M512.6 416.5l5.2 -10.4 -4.3 -1.7 -5.2 10.5z"/>
<path class="m c0" d="M461.5 473.8l5.3 -3.4 -4 -0.4 -5.3 3.6z"/>
<path class="n c0" d="M473.5 464.9l-1.4 1.3 2.7 0.4z"/>
<path class="n c1" d="M476.2 466.8l5.2 -4.8 -4.1 -0.8 -3.8 3.7 1.3 1.7z"/>
<path class="o" d="M476.2 466.8l5.2 -4.8 -4.1 -0.8 -5.2 5z"/>
<path class="n c9" d="M517.8 406.1l0.5 -1.1 -4.4 -1.6 -0.4 1z"/>
<path class="n c10" d="M518.3 405l4.7 -10.2 -4.4 -1.8 -4.7 10.4z"/>
<path class="o" d="M517.8 406.1l5.2 -11.3 -4.4 -1.8 -5.1 11.4z"/>
<path class="n c4" d="M501.3 444.2l3.6 -5.4 -4 -1.9 -3.9 5.9z"/>
<path class="n c5" d="M504.9 438.8l1.6 -2.4 -4.3 -1.6 -1.3 2.1z"/>
<path class="o" d="M501.3 444.2l5.2 -7.8 -4.3 -1.6 -5.2 8z"/>
<path class="n c5" d="M506.5 436.4l2.6 -4.3 -4.2 -1.8 -2.7 4.5z"/>
<path class="n c6" d="M509.1 432.1l2.6 -4.4 -4.3 -1.6 -2.5 4.2z"/>
<path class="o" d="M506.5 436.4l5.2 -8.7 -4.3 -1.6 -5.2 8.7z"/>
<path class="n c3" d="M496.1 451.3l4.1 -5.6 -3.8 -2 -4.5 6.3z"/>
<path class="n c4" d="M500.2 445.7l1.1 -1.5 -4.3 -1.4 -0.6 0.9z"/>
<path class="o" d="M496.1 451.3l5.2 -7.1 -4.3 -1.4 -5.1 7.2z"/>
<path class="m c0" d="M456.2 476.5l5.3 -2.7 -4 -0.2 -5.3 2.9z"/>
<path class="n c6" d="M511.7 427.7l1.2 -2.1 -4.3 -1.8 -1.2 2.3z"/>
<path class="n c7" d="M512.9 425.6l3.5 -6.4 -4.3 -1.7 -3.5 6.3z"/>
<path class="n c8" d="M516.4 419.2l0.5 -0.9 -4.3 -1.8 -0.5 1z"/>
<path class="o" d="M511.7 427.7l5.2 -9.4 -4.3 -1.8 -5.2 9.6z"/>
<path class="n c0" d="M470.9 470.9l4.2 -3.2 -0.3 -1.1 -2.7 -0.4 -5.3 4.2z"/>
<path class="n c1" d="M475.1 467.7l1.1 -0.9 -1.4 -0.2z"/>
<path class="o" d="M470.9 470.9l5.3 -4.1 -4.1 -0.6 -5.3 4.2z"/>
<path class="n c2" d="M490.9 457.5l3.8 -4.5 -3.5 -2.1 -4.5 5.5z"/>
<path class="n c3" d="M494.7 453l1.4 -1.7 -4.2 -1.3 -0.7 0.9z"/>
<path class="o" d="M490.9 457.5l5.2 -6.2 -4.2 -1.3 -5.2 6.4z"/>
<path class="n c8" d="M516.9 418.3l2.7 -5.4 -4.4 -1.7 -2.6 5.3z"/>
<path class="n c9" d="M519.6 412.9l2.5 -4.9 -4.3 -1.9 -2.6 5.1z"/>
<path class="o" d="M516.9 418.3l5.2 -10.3 -4.3 -1.9 -5.2 10.4z"/>
<path class="n c1" d="M485.6 463l2 -2 -3 -2.4 -3.2 3.4z"/>
<path class="n c2" d="M487.6 461l3.3 -3.5 -4.2 -1.1 -2.1 2.2z"/>
<path class="o" d="M485.6 463l5.3 -5.5 -4.2 -1.1 -5.3 5.6z"/>
<path class="m c0" d="M465.6 474.2l5.3 -3.3 -4.1 -0.5 -5.3 3.4z"/>
<path class="n c9" d="M522.1 408l0.6 -1.3 -4.4 -1.7 -0.5 1.1z"/>
<path class="n c10" d="M522.7 406.7l4.7 -9.9 -4.4 -2 -4.7 10.2z"/>
<path class="o" d="M522.1 408l5.3 -11.2 -4.4 -2 -5.2 11.3z"/>
<path class="m c1" d="M480.4 467.7l5.2 -4.7 -4.2 -1 -5.2 4.8z"/>
<path class="m c0" d="M450.7 478.4l5.5 -1.9 -4 0 -5.4 2z"/>
<path class="n c4" d="M505.6 445.8l3.4 -5 -4.1 -2 -3.6 5.4z"/>
<path class="n c5" d="M509 440.8l1.8 -2.7 -4.3 -1.7 -1.6 2.4z"/>
<path class="o" d="M505.6 445.8l5.2 -7.7 -4.3 -1.7 -5.2 7.8z"/>
<path class="n c5" d="M510.8 438.1l2.5 -4.1 -4.2 -1.9 -2.6 4.3z"/>
<path class="n c6" d="M513.3 434l2.7 -4.4 -4.3 -1.9 -2.6 4.4z"/>
<path class="o" d="M510.8 438.1l5.2 -8.5 -4.3 -1.9 -5.2 8.7z"/>
<path class="n c3" d="M500.4 452.7l3.7 -4.9 -3.9 -2.1 -4.1 5.6z"/>
<path class="n c4" d="M504.1 447.8l1.5 -2 -4.3 -1.6 -1.1 1.5z"/>
<path class="o" d="M500.4 452.7l5.2 -6.9 -4.3 -1.6 -5.2 7.1z"/>
<path class="n c6" d="M516 429.6l1.2 -2.1 -4.3 -1.9 -1.2 2.1z"/>
<path class="n c7" d="M517.2 427.5l3.7 -6.5 -4.5 -1.8 -3.5 6.4z"/>
<path class="n c8" d="M520.9 421l0.4 -0.7 -4.4 -2 -0.5 0.9z"/>
<path class="o" d="M516 429.6l5.3 -9.3 -4.4 -2 -5.2 9.4z"/>
<path class="n c2" d="M495.1 458.9l3.2 -3.7 -3.6 -2.2 -3.8 4.5z"/>
<path class="n c3" d="M498.3 455.2l2.1 -2.5 -4.3 -1.4 -1.4 1.7z"/>
<path class="o" d="M495.1 458.9l5.3 -6.2 -4.3 -1.4 -5.2 6.2z"/>
<path class="n c0" d="M475.1 471.6l0.7 -0.5 -0.7 -3.4 -4.2 3.2z"/>
<path class="n c1" d="M475.8 471.1l4.6 -3.4 -4.2 -0.9 -1.1 0.9z"/>
<path class="o" d="M475.1 471.6l5.3 -3.9 -4.2 -0.9 -5.3 4.1z"/>
<path class="n c8" d="M521.3 420.3l2.8 -5.6 -4.5 -1.8 -2.7 5.4z"/>
<path class="n c9" d="M524.1 414.7l2.4 -4.6 -4.4 -2.1 -2.5 4.9z"/>
<path class="o" d="M521.3 420.3l5.2 -10.2 -4.4 -2.1 -5.2 10.3z"/>
<path class="m c0" d="M460.2 476.8l5.4 -2.6 -4.1 -0.4 -5.3 2.7z"/>
<path class="n c1" d="M489.9 464.2l0.7 -0.8 -3 -2.4 -2 2z"/>
<path class="n c2" d="M490.6 463.4l4.5 -4.5 -4.2 -1.4 -3.3 3.5z"/>
<path class="o" d="M489.9 464.2l5.2 -5.3 -4.2 -1.4 -5.3 5.5z"/>
<path class="n c9" d="M526.5 410.1l0.8 -1.7 -4.6 -1.7 -0.6 1.3z"/>
<path class="n c10" d="M527.3 408.4l4.5 -9.3 -4.4 -2.3 -4.7 9.9z"/>
<path class="o" d="M526.5 410.1l5.3 -11 -4.4 -2.3 -5.3 11.2z"/>
<path class="m c0" d="M445.3 479.6l5.4 -1.2 -3.9 0.1 -5.5 1.3z"/>
<path class="m c0" d="M469.7 474.8l5.4 -3.2 -4.2 -0.7 -5.3 3.3z"/>
<path class="m c1" d="M484.6 468.8l5.3 -4.6 -4.3 -1.2 -5.2 4.7z"/>
<path class="n c5" d="M515.2 440l2.5 -4 -4.4 -2 -2.5 4.1z"/>
<path class="n c6" d="M517.7 436l2.7 -4.3 -4.4 -2.1 -2.7 4.4z"/>
<path class="o" d="M515.2 440l5.2 -8.3 -4.4 -2.1 -5.2 8.5z"/>
<path class="n c4" d="M509.9 447.6l3.4 -4.8 -4.3 -2 -3.4 5z"/>
<path class="n c5" d="M513.3 442.8l1.9 -2.8 -4.4 -1.9 -1.8 2.7z"/>
<path class="o" d="M509.9 447.6l5.3 -7.6 -4.4 -1.9 -5.2 7.7z"/>
<path class="n c6" d="M520.4 431.7l1.3 -2.3 -4.5 -1.9 -1.2 2.1z"/>
<path class="n c7" d="M521.7 429.4l3.7 -6.5 -4.5 -1.9 -3.7 6.5z"/>
<path class="n c8" d="M525.4 422.9l0.3 -0.4 -4.4 -2.2 -0.4 0.7z"/>
<path class="o" d="M520.4 431.7l5.3 -9.2 -4.4 -2.2 -5.3 9.3z"/>
<path class="m c0" d="M454.8 478.5l5.4 -1.7 -4 -0.3 -5.5 1.9z"/>
<path class="n c3" d="M504.7 454.4l3.5 -4.5 -4.1 -2.1 -3.7 4.9z"/>
<path class="n c4" d="M508.2 449.9l1.7 -2.3 -4.3 -1.8 -1.5 2z"/>
<path class="o" d="M504.7 454.4l5.2 -6.8 -4.3 -1.8 -5.2 6.9z"/>
<path class="n c8" d="M525.7 422.5l3.1 -5.9 -4.7 -1.9 -2.8 5.6z"/>
<path class="n c9" d="M528.8 416.6l2.2 -4.2 -4.5 -2.3 -2.4 4.6z"/>
<path class="o" d="M525.7 422.5l5.3 -10.1 -4.5 -2.3 -5.2 10.2z"/>
<path class="n c2" d="M499.4 460.4l2.6 -2.9 -3.7 -2.3 -3.2 3.7z"/>
<path class="n c3" d="M502 457.5l2.7 -3.1 -4.3 -1.7 -2.1 2.5z"/>
<path class="o" d="M499.4 460.4l5.3 -6 -4.3 -1.7 -5.3 6.2z"/>
<path class="n c0" d="M475.8 471.1l-0.7 0.5 0.8 0.2z"/>
<path class="n c1" d="M479.2 472.6l5.4 -3.8 -4.2 -1.1 -4.6 3.4 0.1 0.7z"/>
<path class="o" d="M479.2 472.6l5.4 -3.8 -4.2 -1.1 -5.3 3.9z"/>
<path class="m c0" d="M464.3 477.2l5.4 -2.4 -4.1 -0.6 -5.4 2.6z"/>
<path class="n c9" d="M531 412.4l1 -2.1 -4.7 -1.9 -0.8 1.7z"/>
<path class="n c10" d="M532 410.3l4.3 -8.8 -4.5 -2.4 -4.5 9.3z"/>
<path class="o" d="M531 412.4l5.3 -10.9 -4.5 -2.4 -5.3 11z"/>
<path class="k" d="M439.7 479.9l5.6 -0.3 -4 0.2 -5.5 0.6z"/>
<path class="n c1" d="M490.6 463.4l-0.7 0.8 3 1z"/>
<path class="n c2" d="M494.1 465.6l5.3 -5.2 -4.3 -1.5 -4.5 4.5 2.3 1.8z"/>
<path class="o" d="M494.1 465.6l5.3 -5.2 -4.3 -1.5 -5.2 5.3z"/>
<path class="m c0" d="M449.3 479.5l5.5 -1 -4.1 -0.1 -5.4 1.2z"/>
<path class="n c5" d="M519.6 442.2l2.6 -4.1 -4.5 -2.1 -2.5 4z"/>
<path class="n c6" d="M522.2 438.1l2.6 -4.2 -4.4 -2.2 -2.7 4.3z"/>
<path class="o" d="M519.6 442.2l5.2 -8.3 -4.4 -2.2 -5.2 8.3z"/>
<path class="n c4" d="M514.3 449.6l3.3 -4.7 -4.3 -2.1 -3.4 4.8z"/>
<path class="n c5" d="M517.6 444.9l2 -2.7 -4.4 -2.2 -1.9 2.8z"/>
<path class="o" d="M514.3 449.6l5.3 -7.4 -4.4 -2.2 -5.3 7.6z"/>
<path class="n c6" d="M524.8 433.9l1.5 -2.5 -4.6 -2 -1.3 2.3z"/>
<path class="n c7" d="M526.3 431.4l3.8 -6.5 -4.7 -2 -3.7 6.5z"/>
<path class="n c8" d="M530.1 424.9l0 0 -4.4 -2.4 -0.3 0.4z"/>
<path class="o" d="M524.8 433.9l5.3 -9 -4.4 -2.4 -5.3 9.2z"/>
<path class="n c0" d="M475.9 471.8l-0.8 -0.2 -5.4 3.2 3.4 0.6z"/>
<path class="n c1" d="M473.9 475.6l5.3 -3 -3.3 -0.8 -2.8 3.6z"/>
<path class="o" d="M473.9 475.6l5.3 -3 -4.1 -1 -5.4 3.2z"/>
<path class="n c1" d="M488.8 470l4.9 -4 -0.8 -0.8 -3 -1 -5.3 4.6z"/>
<path class="n c2" d="M493.7 466l0.4 -0.4 -1.2 -0.4z"/>
<path class="o" d="M488.8 470l5.3 -4.4 -4.2 -1.4 -5.3 4.6z"/>
<path class="n c3" d="M509 456.3l3.3 -4.2 -4.1 -2.2 -3.5 4.5z"/>
<path class="n c4" d="M512.3 452.1l2 -2.5 -4.4 -2 -1.7 2.3z"/>
<path class="o" d="M509 456.3l5.3 -6.7 -4.4 -2 -5.2 6.8z"/>
<path class="n c8" d="M530.1 424.9l3.4 -6.4 -4.7 -1.9 -3.1 5.9z"/>
<path class="n c9" d="M533.5 418.5l1.9 -3.5 -4.4 -2.6 -2.2 4.2z"/>
<path class="o" d="M530.1 424.9l5.3 -9.9 -4.4 -2.6 -5.3 10.1z"/>
<path class="m c0" d="M458.9 478.8l5.4 -1.6 -4.1 -0.4 -5.4 1.7z"/>
<path class="n c2" d="M503.7 462.1l2.1 -2.3 -3.8 -2.3 -2.6 2.9z"/>
<path class="n c3" d="M505.8 459.8l3.2 -3.5 -4.3 -1.9 -2.7 3.1z"/>
<path class="o" d="M503.7 462.1l5.3 -5.8 -4.3 -1.9 -5.3 6z"/>
<path class="n c9" d="M535.4 415l1.4 -2.8 -4.8 -1.9 -1 2.1z"/>
<path class="n c10" d="M536.8 412.2l3.9 -8 -4.4 -2.7 -4.3 8.8z"/>
<path class="o" d="M535.4 415l5.3 -10.8 -4.4 -2.7 -5.3 10.9z"/>
<path class="m c1" d="M483.5 473.7l5.3 -3.7 -4.2 -1.2 -5.4 3.8z"/>
<path class="k" d="M434 479.5l5.7 0.4 -3.9 0.5 -5.7 -0.3z"/>
<path class="m c2" d="M498.4 467.2l5.3 -5.1 -4.3 -1.7 -5.3 5.2z"/>
<path class="n c0" d="M473.1 475.4l-3.4 -0.6 -5.4 2.4 2.8 0.4z"/>
<path class="n c1" d="M468.5 477.8l5.4 -2.2 -0.8 -0.2 -6 2.2z"/>
<path class="o" d="M468.5 477.8l5.4 -2.2 -4.2 -0.8 -5.4 2.4z"/>
<path class="n c5" d="M524 444.5l2.8 -4.3 -4.6 -2.1 -2.6 4.1z"/>
<path class="n c6" d="M526.8 440.2l2.5 -3.8 -4.5 -2.5 -2.6 4.2z"/>
<path class="o" d="M524 444.5l5.3 -8.1 -4.5 -2.5 -5.2 8.3z"/>
<path class="n c0" d="M449.3 479.5l0 0 -4 0.1 -4.5 0.3z"/>
<path class="n c1" d="M443.7 479.7l5.6 -0.2 -8.5 0.4 -1.1 0z"/>
<path class="o" d="M443.7 479.7l5.6 -0.2 -4 0.1 -5.6 0.3z"/>
<path class="n c6" d="M529.3 436.4l1.7 -2.9 -4.7 -2.1 -1.5 2.5z"/>
<path class="n c7" d="M531 433.5l3.6 -6 -4.2 -2.5 -0.3 -0.1 -3.8 6.5z"/>
<path class="n c8" d="M530.4 425l-0.3 -0.1 0 0z"/>
<path class="o" d="M529.3 436.4l5.3 -8.9 -4.5 -2.6 -5.3 9z"/>
<path class="n c4" d="M518.7 451.8l3.4 -4.7 -4.5 -2.2 -3.3 4.7z"/>
<path class="n c5" d="M522.1 447.1l1.9 -2.6 -4.4 -2.3 -2 2.7z"/>
<path class="o" d="M518.7 451.8l5.3 -7.3 -4.4 -2.3 -5.3 7.4z"/>
<path class="n c7" d="M534.6 427.5l0.3 -0.5 -4.5 -2z"/>
<path class="n c8" d="M534.9 427l3.5 -6.4 -4.9 -2.1 -3.4 6.4 0.3 0.1z"/>
<path class="n c9" d="M538.4 420.6l1.5 -2.9 -4.5 -2.7 -1.9 3.5z"/>
<path class="o" d="M534.6 427.5l5.3 -9.8 -4.5 -2.7 -5.3 9.9z"/>
<path class="n c3" d="M513.4 458.4l3.2 -4 -4.3 -2.3 -3.3 4.2z"/>
<path class="n c4" d="M516.6 454.4l2.1 -2.6 -4.4 -2.2 -2 2.5z"/>
<path class="o" d="M513.4 458.4l5.3 -6.6 -4.4 -2.2 -5.3 6.7z"/>
<path class="n c1" d="M493.1 471.5l3.3 -2.7 -2.7 -2.8 -4.9 4z"/>
<path class="n c2" d="M496.4 468.8l2 -1.6 -4.3 -1.6 -0.4 0.4z"/>
<path class="o" d="M493.1 471.5l5.3 -4.3 -4.3 -1.6 -5.3 4.4z"/>
<path class="m c1" d="M478.1 476.5l5.4 -2.8 -4.3 -1.1 -5.3 3z"/>
<path class="n c0" d="M458.8 478.8l0.1 0 -4.1 -0.3 -5.5 1 0 0z"/>
<path class="n c1" d="M453.3 479.6l5.5 -0.8 -9.5 0.7z"/>
<path class="o" d="M453.3 479.6l5.6 -0.8 -4.1 -0.3 -5.5 1z"/>
<path class="n c9" d="M539.9 417.7l1.8 -3.4 -4.9 -2.1 -1.4 2.8z"/>
<path class="n c10" d="M541.7 414.3l3.6 -7.2 -4.6 -2.9 -3.9 8z"/>
<path class="o" d="M539.9 417.7l5.4 -10.6 -4.6 -2.9 -5.3 10.8z"/>
<path class="n c2" d="M508.1 464.1l1.7 -1.9 -4 -2.4 -2.1 2.3z"/>
<path class="n c3" d="M509.8 462.2l3.6 -3.8 -4.4 -2.1 -3.2 3.5z"/>
<path class="o" d="M508.1 464.1l5.3 -5.7 -4.4 -2.1 -5.3 5.8z"/>
<path class="n c0" d="M467.1 477.6l-2.8 -0.4 -5.4 1.6 0 0z"/>
<path class="n c1" d="M463 479.3l5.5 -1.5 -1.4 -0.2 -8.2 1.2z"/>
<path class="o" d="M463 479.3l5.5 -1.5 -4.2 -0.6 -5.4 1.6z"/>
<path class="m c1" d="M487.8 475l5.3 -3.5 -4.3 -1.5 -5.3 3.7z"/>
<path class="m c2" d="M502.8 469l5.3 -4.9 -4.4 -2 -5.3 5.1z"/>
<path class="k" d="M428.3 478.3l5.7 1.2 -3.9 0.6 -5.7 -1.1z"/>
<path class="n c5" d="M528.5 447.1l3.1 -4.6 -4.8 -2.3 -2.8 4.3z"/>
<path class="n c6" d="M531.6 442.5l2.2 -3.4 -4.5 -2.7 -2.5 3.8z"/>
<path class="o" d="M528.5 447.1l5.3 -8 -4.5 -2.7 -5.3 8.1z"/>
<path class="n c6" d="M533.8 439.1l2 -3.4 -4.8 -2.2 -1.7 2.9z"/>
<path class="n c7" d="M535.8 435.7l3.3 -5.4 -4.5 -2.8 -3.6 6z"/>
<path class="o" d="M533.8 439.1l5.3 -8.8 -4.5 -2.8 -5.3 8.9z"/>
<path class="n c4" d="M523.2 454.3l3.6 -4.9 -4.7 -2.3 -3.4 4.7z"/>
<path class="n c5" d="M526.8 449.4l1.7 -2.3 -4.5 -2.6 -1.9 2.6z"/>
<path class="o" d="M523.2 454.3l5.3 -7.2 -4.5 -2.6 -5.3 7.3z"/>
<path class="m c1" d="M472.7 478.6l5.4 -2.1 -4.2 -0.9 -5.4 2.2z"/>
<path class="k" d="M438 479.1l5.7 0.6 -4 0.2 -5.7 -0.4z"/>
<path class="n c7" d="M539.1 430.3l0.7 -1.2 -4.9 -2.1 -0.3 0.5z"/>
<path class="n c8" d="M539.8 429.1l3.5 -6.4 -4.9 -2.1 -3.5 6.4z"/>
<path class="n c9" d="M543.3 422.7l1.1 -2 -4.5 -3 -1.5 2.9z"/>
<path class="o" d="M539.1 430.3l5.3 -9.6 -4.5 -3 -5.3 9.8z"/>
<path class="n c3" d="M517.8 460.6l3.3 -3.9 -4.5 -2.3 -3.2 4z"/>
<path class="n c4" d="M521.1 456.7l2.1 -2.4 -4.5 -2.5 -2.1 2.6z"/>
<path class="o" d="M517.8 460.6l5.4 -6.3 -4.5 -2.5 -5.3 6.6z"/>
<path class="n c1" d="M497.5 473.1l1.8 -1.4 -2.9 -2.9 -3.3 2.7z"/>
<path class="n c2" d="M499.3 471.7l3.5 -2.7 -4.4 -1.8 -2 1.6z"/>
<path class="o" d="M497.5 473.1l5.3 -4.1 -4.4 -1.8 -5.3 4.3z"/>
<path class="n c0" d="M449.3 479.5l0 0 0 0z"/>
<path class="n c1" d="M447.7 479.6l5.6 0 -4 -0.1 0 0 -5.6 0.2z"/>
<path class="o" d="M447.7 479.6l5.6 0 -4 -0.1 -5.6 0.2z"/>
<path class="n c9" d="M544.4 420.7l2.3 -4.3 -5 -2.1 -1.8 3.4z"/>
<path class="n c10" d="M546.7 416.4l3.1 -6.2 -4.5 -3.1 -3.6 7.2z"/>
<path class="o" d="M544.4 420.7l5.4 -10.5 -4.5 -3.1 -5.4 10.6z"/>
<path class="m c1" d="M482.4 477.7l5.4 -2.7 -4.3 -1.3 -5.4 2.8z"/>
<path class="n c2" d="M512.5 466.2l1.5 -1.5 -4.2 -2.5 -1.7 1.9z"/>
<path class="n c3" d="M514 464.7l3.8 -4.1 -4.4 -2.2 -3.6 3.8z"/>
<path class="o" d="M512.5 466.2l5.3 -5.6 -4.4 -2.2 -5.3 5.7z"/>
<path class="n c0" d="M458.9 478.8l0 0 -0.1 0z"/>
<path class="n c1" d="M457.4 479.9l5.6 -0.6 -4.1 -0.5 -0.1 0 -5.5 0.8z"/>
<path class="o" d="M457.4 479.9l5.6 -0.6 -4.1 -0.5 -5.6 0.8z"/>
<path class="m c1" d="M467.2 479.9l5.5 -1.3 -4.2 -0.8 -5.5 1.5z"/>
<path class="m c2" d="M507.2 471l5.3 -4.8 -4.4 -2.1 -5.3 4.9z"/>
<path class="n c5" d="M533 449.9l3.5 -5.2 -4.9 -2.2 -3.1 4.6z"/>
<path class="n c6" d="M536.5 444.7l1.8 -2.7 -4.5 -2.9 -2.2 3.4z"/>
<path class="o" d="M533 449.9l5.3 -7.9 -4.5 -2.9 -5.3 8z"/>
<path class="n c6" d="M538.3 442l2.5 -4 -5 -2.3 -2 3.4z"/>
<path class="n c7" d="M540.8 438l2.8 -4.6 -4.5 -3.1 -3.3 5.4z"/>
<path class="o" d="M538.3 442l5.3 -8.6 -4.5 -3.1 -5.3 8.8z"/>
<path class="m c1" d="M492.1 476.5l5.4 -3.4 -4.4 -1.6 -5.3 3.5z"/>
<path class="n c4" d="M527.6 456.9l4 -5.2 -4.8 -2.3 -3.6 4.9z"/>
<path class="n c5" d="M531.6 451.7l1.4 -1.8 -4.5 -2.8 -1.7 2.3z"/>
<path class="o" d="M527.6 456.9l5.4 -7 -4.5 -2.8 -5.3 7.2z"/>
<path class="n c7" d="M543.6 433.4l1.2 -2 -5 -2.3 -0.7 1.2z"/>
<path class="n c8" d="M544.8 431.4l3.6 -6.5 -5.1 -2.2 -3.5 6.4z"/>
<path class="n c9" d="M548.4 424.9l0.6 -1 -4.6 -3.2 -1.1 2z"/>
<path class="o" d="M543.6 433.4l5.4 -9.5 -4.6 -3.2 -5.3 9.6z"/>
<path class="n c3" d="M522.3 463.1l3.4 -4 -4.6 -2.4 -3.3 3.9z"/>
<path class="n c4" d="M525.7 459.1l1.9 -2.2 -4.4 -2.6 -2.1 2.4z"/>
<path class="o" d="M522.3 463.1l5.3 -6.2 -4.4 -2.6 -5.4 6.3z"/>
<path class="m c1" d="M476.9 479.6l5.5 -1.9 -4.3 -1.2 -5.4 2.1z"/>
<path class="n c9" d="M549 423.9l2.8 -5.3 -5.1 -2.2 -2.3 4.3z"/>
<path class="n c10" d="M551.8 418.6l2.6 -5.1 -4.6 -3.3 -3.1 6.2z"/>
<path class="o" d="M549 423.9l5.4 -10.4 -4.6 -3.3 -5.4 10.5z"/>
<path class="k" d="M432.2 477.7l5.8 1.4 -4 0.4 -5.7 -1.2z"/>
<path class="n c1" d="M501.8 475l0.4 -0.2 -2.9 -3.1 -1.8 1.4z"/>
<path class="n c2" d="M502.2 474.8l5 -3.8 -4.4 -2 -3.5 2.7z"/>
<path class="o" d="M501.8 475l5.4 -4 -4.4 -2 -5.3 4.1z"/>
<path class="k" d="M442 478.9l5.7 0.7 -4 0.1 -5.7 -0.6z"/>
<path class="n c2" d="M517 468.6l1.3 -1.4 -4.3 -2.5 -1.5 1.5z"/>
<path class="n c3" d="M518.3 467.2l4 -4.1 -4.5 -2.5 -3.8 4.1z"/>
<path class="o" d="M517 468.6l5.3 -5.5 -4.5 -2.5 -5.3 5.6z"/>
<path class="m c1" d="M486.7 479.1l5.4 -2.6 -4.3 -1.5 -5.4 2.7z"/>
<path class="n c1" d="M454 479.8l3.4 0.1 -4.1 -0.3 -5.6 0 1.7 0.1z"/>
<path class="n c2" d="M451.8 479.8l2.2 0 -4.6 -0.1z"/>
<path class="o" d="M451.8 479.8l5.6 0.1 -4.1 -0.3 -5.6 0z"/>
<path class="n c6" d="M542.9 445.2l3 -4.9 -5.1 -2.3 -2.5 4z"/>
<path class="n c7" d="M545.9 440.3l2.3 -3.7 -4.6 -3.2 -2.8 4.6z"/>
<path class="o" d="M542.9 445.2l5.3 -8.6 -4.6 -3.2 -5.3 8.6z"/>
<path class="n c5" d="M537.5 452.9l4 -5.8 -5 -2.4 -3.5 5.2z"/>
<path class="n c6" d="M541.5 447.1l1.4 -1.9 -4.6 -3.2 -1.8 2.7z"/>
<path class="o" d="M537.5 452.9l5.4 -7.7 -4.6 -3.2 -5.3 7.9z"/>
<path class="m c1" d="M461.6 480.4l5.6 -0.5 -4.2 -0.6 -5.6 0.6z"/>
<path class="n c7" d="M548.2 436.6l1.7 -2.9 -5.1 -2.3 -1.2 2z"/>
<path class="n c8" d="M549.9 433.7l3.7 -6.4 -0.3 -0.2 -4.9 -2.2 -3.6 6.5z"/>
<path class="n c9" d="M553.3 427.1l-4.3 -3.2 -0.6 1z"/>
<path class="o" d="M548.2 436.6l5.4 -9.3 -4.6 -3.4 -5.4 9.5z"/>
<path class="m c2" d="M511.6 473.2l5.4 -4.6 -4.5 -2.4 -5.3 4.8z"/>
<path class="n c4" d="M532.2 459.8l4.3 -5.7 -4.9 -2.4 -4 5.2z"/>
<path class="n c5" d="M536.5 454.1l1 -1.2 -4.5 -3 -1.4 1.8z"/>
<path class="o" d="M532.2 459.8l5.3 -6.9 -4.5 -3 -5.4 7z"/>
<path class="m c1" d="M496.5 478.2l5.3 -3.2 -4.3 -1.9 -5.4 3.4z"/>
<path class="n c8" d="M553.6 427.3l0 -0.1 -0.3 -0.1z"/>
<path class="n c9" d="M553.6 427.2l3.4 -6.3 -5.2 -2.3 -2.8 5.3 4.3 3.2z"/>
<path class="n c10" d="M557 420.9l2 -3.8 -4.6 -3.6 -2.6 5.1z"/>
<path class="o" d="M553.6 427.3l5.4 -10.2 -4.6 -3.6 -5.4 10.4z"/>
<path class="m c1" d="M471.4 480.8l5.5 -1.2 -4.2 -1 -5.5 1.3z"/>
<path class="n c3" d="M526.8 465.8l3.8 -4.2 -4.9 -2.5 -3.4 4z"/>
<path class="n c4" d="M530.6 461.6l1.6 -1.8 -4.6 -2.9 -1.9 2.2z"/>
<path class="o" d="M526.8 465.8l5.4 -6 -4.6 -2.9 -5.3 6.2z"/>
<path class="m c1" d="M481.2 480.8l5.5 -1.7 -4.3 -1.4 -5.5 1.9z"/>
<path class="n c1" d="M502.2 474.8l-0.4 0.2 1.1 0.5z"/>
<path class="n c2" d="M506.3 477.1l5.3 -3.9 -4.4 -2.2 -5 3.8 0.7 0.7z"/>
<path class="o" d="M506.3 477.1l5.3 -3.9 -4.4 -2.2 -5.4 4z"/>
<path class="n c2" d="M521.5 471.1l1.3 -1.3 -4.5 -2.6 -1.3 1.4z"/>
<path class="n c3" d="M522.8 469.8l4 -4 -4.5 -2.7 -4 4.1z"/>
<path class="o" d="M521.5 471.1l5.3 -5.3 -4.5 -2.7 -5.3 5.5z"/>
<path class="n c6" d="M547.4 448.5l3.7 -5.7 -5.2 -2.5 -3 4.9z"/>
<path class="n c7" d="M551.1 442.8l1.7 -2.7 -4.6 -3.5 -2.3 3.7z"/>
<path class="o" d="M547.4 448.5l5.4 -8.4 -4.6 -3.5 -5.3 8.6z"/>
<path class="n c5" d="M542.1 456.1l4.6 -6.6 -5.2 -2.4 -4 5.8z"/>
<path class="n c6" d="M546.7 449.5l0.7 -1 -4.5 -3.3 -1.4 1.9z"/>
<path class="o" d="M542.1 456.1l5.3 -7.6 -4.5 -3.3 -5.4 7.7z"/>
<path class="k" d="M436.3 477.3l5.7 1.6 -4 0.2 -5.8 -1.4z"/>
<path class="m c1" d="M491 480.6l5.5 -2.4 -4.4 -1.7 -5.4 2.6z"/>
<path class="n c7" d="M552.8 440.1l2.4 -4 -5.3 -2.4 -1.7 2.9z"/>
<path class="n c8" d="M555.2 436.1l3 -5.2 -4.6 -3.6 -3.7 6.4z"/>
<path class="o" d="M552.8 440.1l5.4 -9.2 -4.6 -3.6 -5.4 9.3z"/>
<path class="k" d="M446.1 478.8l5.7 1 -4.1 -0.2 -5.7 -0.7z"/>
<path class="n c4" d="M536.7 462.8l5 -6.2 -5.2 -2.5 -4.3 5.7z"/>
<path class="n c5" d="M541.7 456.6l0.4 -0.5 -4.6 -3.2 -1 1.2z"/>
<path class="o" d="M536.7 462.8l5.4 -6.7 -4.6 -3.2 -5.3 6.9z"/>
<path class="n c8" d="M558.2 430.9l0.7 -1.3 -5.3 -2.4 0 0.1z"/>
<path class="n c9" d="M558.9 429.6l3.5 -6.4 -5.4 -2.3 -3.4 6.3z"/>
<path class="n c10" d="M562.4 423.2l1.3 -2.4 -4.7 -3.7 -2 3.8z"/>
<path class="o" d="M558.2 430.9l5.5 -10.1 -4.7 -3.7 -5.4 10.2z"/>
<path class="n c1" d="M461.4 480.4l0.2 0 -4.2 -0.5 -3.4 -0.1z"/>
<path class="n c2" d="M456 480.1l5.4 0.3 -7.4 -0.6 -2.2 0z"/>
<path class="o" d="M456 480.1l5.6 0.3 -4.2 -0.5 -5.6 -0.1z"/>
<path class="m c2" d="M516.1 475.6l5.4 -4.5 -4.5 -2.5 -5.4 4.6z"/>
<path class="n c1" d="M500.9 480.1l2.9 -1.7 -0.9 -2.9 -1.1 -0.5 -5.3 3.2z"/>
<path class="n c2" d="M503.8 478.4l2.5 -1.3 -3.4 -1.6z"/>
<path class="o" d="M500.9 480.1l5.4 -3 -4.5 -2.1 -5.3 3.2z"/>
<path class="n c1" d="M469.3 480.9l2.1 -0.1 -4.2 -0.9 -5.6 0.5 0.3 0.1z"/>
<path class="n c2" d="M465.8 481.1l3.5 -0.2 -7.4 -0.4z"/>
<path class="o" d="M465.8 481.1l5.6 -0.3 -4.2 -0.9 -5.6 0.5z"/>
<path class="n c3" d="M531.4 468.8l4.2 -4.7 -5 -2.5 -3.8 4.2z"/>
<path class="n c4" d="M535.6 464.1l1.1 -1.3 -4.5 -3 -1.6 1.8z"/>
<path class="o" d="M531.4 468.8l5.3 -6 -4.5 -3 -5.4 6z"/>
<path class="n c1" d="M477.1 481.6l4.1 -0.8 -4.3 -1.2 -5.5 1.2 2.9 0.7z"/>
<path class="n c2" d="M475.7 481.8l1.4 -0.2 -2.8 -0.1z"/>
<path class="o" d="M475.7 481.8l5.5 -1 -4.3 -1.2 -5.5 1.2z"/>
<path class="n c2" d="M526 473.9l1.5 -1.4 -4.7 -2.7 -1.3 1.3z"/>
<path class="n c3" d="M527.5 472.5l3.9 -3.7 -4.6 -3 -4 4z"/>
<path class="o" d="M526 473.9l5.4 -5.1 -4.6 -3 -5.3 5.3z"/>
<path class="m c2" d="M510.7 479.3l5.4 -3.7 -4.5 -2.4 -5.3 3.9z"/>
<path class="n c5" d="M552.1 452.1l0 -0.1 -0.2 0z"/>
<path class="n c6" d="M552.1 452l4.4 -6.8 -5.4 -2.4 -3.7 5.7 4.5 3.5z"/>
<path class="n c7" d="M556.5 445.2l1 -1.4 -4.7 -3.7 -1.7 2.7z"/>
<path class="o" d="M552.1 452.1l5.4 -8.3 -4.7 -3.7 -5.4 8.4z"/>
<path class="m c1" d="M485.5 482.2l5.5 -1.6 -4.3 -1.5 -5.5 1.7z"/>
<path class="n c7" d="M557.5 443.8l3.1 -5.2 -5.4 -2.5 -2.4 4z"/>
<path class="n c8" d="M560.6 438.6l2.3 -3.8 -4.7 -3.9 -3 5.2z"/>
<path class="o" d="M557.5 443.8l5.4 -9 -4.7 -3.9 -5.4 9.2z"/>
<path class="n c4" d="M546.7 459.5l0.2 -0.4 -2.2 -1.1z"/>
<path class="n c5" d="M546.9 459.1l5.2 -7 -0.2 -0.1 -5.2 -2.5 -4.6 6.6 2.6 1.9z"/>
<path class="n c6" d="M551.9 452l-4.5 -3.5 -0.7 1z"/>
<path class="o" d="M546.7 459.5l5.4 -7.4 -4.7 -3.6 -5.3 7.6z"/>
<path class="n c8" d="M562.9 434.8l1.4 -2.7 -5.4 -2.5 -0.7 1.3z"/>
<path class="n c9" d="M564.3 432.1l3.6 -6.4 -5.5 -2.5 -3.5 6.4z"/>
<path class="n c10" d="M567.9 425.7l0.4 -0.9 -4.6 -4 -1.3 2.4z"/>
<path class="o" d="M562.9 434.8l5.4 -10 -4.6 -4 -5.5 10.1z"/>
<path class="n c4" d="M541.3 466.1l5.4 -6.6 -2 -1.5 -3 -1.4 -5 6.2z"/>
<path class="n c5" d="M544.7 458l-2.6 -1.9 -0.4 0.5z"/>
<path class="o" d="M541.3 466.1l5.4 -6.6 -4.6 -3.4 -5.4 6.7z"/>
<path class="m c1" d="M495.4 482.4l5.5 -2.3 -4.4 -1.9 -5.5 2.4z"/>
<path class="m c2" d="M520.6 478.3l5.4 -4.4 -4.5 -2.8 -5.4 4.5z"/>
<path class="n c3" d="M535.9 471.9l4.9 -5.3 -5.2 -2.5 -4.2 4.7z"/>
<path class="n c4" d="M540.8 466.6l0.5 -0.5 -4.6 -3.3 -1.1 1.3z"/>
<path class="o" d="M535.9 471.9l5.4 -5.8 -4.6 -3.3 -5.3 6z"/>
<path class="k" d="M440.3 477l5.8 1.8 -4.1 0.1 -5.7 -1.6z"/>
<path class="k" d="M450.2 479l5.8 1.1 -4.2 -0.3 -5.7 -1z"/>
<path class="n c1" d="M503.8 478.4l-2.9 1.7 3.6 1.8z"/>
<path class="n c2" d="M505.3 482.2l5.4 -2.9 -4.4 -2.2 -2.5 1.3 0.7 3.5z"/>
<path class="o" d="M505.3 482.2l5.4 -2.9 -4.4 -2.2 -5.4 3z"/>
<path class="n c1" d="M461.9 480.5l-0.3 -0.1 -0.2 0z"/>
<path class="n c2" d="M460.2 480.6l5.6 0.5 -3.9 -0.6 -0.5 -0.1 -5.4 -0.3z"/>
<path class="o" d="M460.2 480.6l5.6 0.5 -4.2 -0.7 -5.6 -0.3z"/>
<path class="n c1" d="M474.3 481.5l-2.9 -0.7 -2.1 0.1z"/>
<path class="n c2" d="M470.1 482l5.6 -0.2 -1.4 -0.3 -5 -0.6 -3.5 0.2z"/>
<path class="o" d="M470.1 482l5.6 -0.2 -4.3 -1 -5.6 0.3z"/>
<path class="n c5" d="M556.7 455.8l0.8 -1.1 -5.4 -2.7 0 0.1z"/>
<path class="n c6" d="M557.5 454.7l4.6 -6.9 -5.6 -2.6 -4.4 6.8z"/>
<path class="n c7" d="M562.1 447.8l0 -0.1 -4.6 -3.9 -1 1.4z"/>
<path class="o" d="M556.7 455.8l5.4 -8.1 -4.6 -3.9 -5.4 8.3z"/>
<path class="n c7" d="M562.1 447.7l4 -6.5 -5.5 -2.6 -3.1 5.2z"/>
<path class="n c8" d="M566.1 441.2l1.4 -2.4 -4.6 -4 -2.3 3.8z"/>
<path class="o" d="M562.1 447.7l5.4 -8.9 -4.6 -4 -5.4 9z"/>
<path class="n c2" d="M530.6 476.9l1.9 -1.8 -5 -2.6 -1.5 1.4z"/>
<path class="n c3" d="M532.5 475.1l3.4 -3.2 -4.5 -3.1 -3.9 3.7z"/>
<path class="o" d="M530.6 476.9l5.3 -5 -4.5 -3.1 -5.4 5.1z"/>
<path class="n c4" d="M551.3 463.1l1 -1.4 -5.4 -2.6 -0.2 0.4z"/>
<path class="n c5" d="M552.3 461.7l4.4 -5.9 -4.6 -3.7 -5.2 7z"/>
<path class="o" d="M551.3 463.1l5.4 -7.3 -4.6 -3.7 -5.4 7.4z"/>
<path class="n c1" d="M485 482.3l0.5 -0.1 -4.3 -1.4 -4.1 0.8z"/>
<path class="n c2" d="M480 483.1l5 -0.8 -7.9 -0.7 -1.4 0.2z"/>
<path class="o" d="M480 483.1l5.5 -0.9 -4.3 -1.4 -5.5 1z"/>
<path class="m c2" d="M515.2 481.8l5.4 -3.5 -4.5 -2.7 -5.4 3.7z"/>
<path class="n c8" d="M567.5 438.8l2.4 -4.1 -5.6 -2.6 -1.4 2.7z"/>
<path class="n c9" d="M569.9 434.7l3.1 -5.7 -2.3 -2 -2.8 -1.3 -3.6 6.4z"/>
<path class="n c10" d="M570.7 427l-2.4 -2.2 -0.4 0.9z"/>
<path class="o" d="M567.5 438.8l5.5 -9.8 -4.7 -4.2 -5.4 10z"/>
<path class="n c3" d="M545.9 469.6l0.3 -0.3 -2.1 -1.1z"/>
<path class="n c4" d="M546.2 469.3l5.1 -6.2 -4.6 -3.6 -5.4 6.6 2.8 2.1z"/>
<path class="o" d="M545.9 469.6l5.4 -6.5 -4.6 -3.6 -5.4 6.6z"/>
<path class="n c1" d="M494 482.8l1.4 -0.4 -4.4 -1.8 -5.5 1.6 0.9 0.3z"/>
<path class="n c2" d="M489.9 483.9l4.1 -1.1 -7.6 -0.3z"/>
<path class="o" d="M489.9 483.9l5.5 -1.5 -4.4 -1.8 -5.5 1.6z"/>
<path class="m c2" d="M525.2 481.1l5.4 -4.2 -4.6 -3 -5.4 4.4z"/>
<path class="n c1" d="M504.5 481.9l-3.6 -1.8 -5.5 2.3 1.9 0.8z"/>
<path class="n c2" d="M499.9 484.4l5.4 -2.2 -0.8 -0.3 -7.2 1.3z"/>
<path class="o" d="M499.9 484.4l5.4 -2.2 -4.4 -2.1 -5.5 2.3z"/>
<path class="n c3" d="M540.6 475.2l5.3 -5.6 -1.8 -1.4 -3.3 -1.6 -4.9 5.3z"/>
<path class="n c4" d="M544.1 468.2l-2.8 -2.1 -0.5 0.5z"/>
<path class="o" d="M540.6 475.2l5.3 -5.6 -4.6 -3.5 -5.4 5.8z"/>
<path class="n c5" d="M561.4 459.8l1.7 -2.5 -5.6 -2.6 -0.8 1.1z"/>
<path class="n c6" d="M563.1 457.3l3.7 -5.4 -4.5 -4 -0.2 -0.1 -4.6 6.9z"/>
<path class="n c7" d="M562.3 447.9l-0.2 -0.2 0 0.1z"/>
<path class="o" d="M561.4 459.8l5.4 -7.9 -4.7 -4.2 -5.4 8.1z"/>
<path class="n c6" d="M566.8 451.9l0.9 -1.4 -5.4 -2.6z"/>
<path class="n c7" d="M567.7 450.5l4.1 -6.7 -5.7 -2.6 -4 6.5 0.2 0.2z"/>
<path class="n c8" d="M571.8 443.8l0.5 -0.7 -4.8 -4.3 -1.4 2.4z"/>
<path class="o" d="M566.8 451.9l5.5 -8.8 -4.8 -4.3 -5.4 8.9z"/>
<path class="m c2" d="M509.8 484.6l5.4 -2.8 -4.5 -2.5 -5.4 2.9z"/>
<path class="n c4" d="M556 467l1.9 -2.6 -5.6 -2.7 -1 1.4z"/>
<path class="n c5" d="M557.9 464.4l3.5 -4.6 -4.7 -4 -4.4 5.9z"/>
<path class="o" d="M556 467l5.4 -7.2 -4.7 -4 -5.4 7.3z"/>
<path class="n c8" d="M572.3 443.1l3.2 -5.8 -5.6 -2.6 -2.4 4.1z"/>
<path class="n c9" d="M575.5 437.3l2.2 -3.8 -4.7 -4.5 -3.1 5.7z"/>
<path class="o" d="M572.3 443.1l5.4 -9.6 -4.7 -4.5 -5.5 9.8z"/>
<path class="n c2" d="M535.2 480.1l2.6 -2.3 -5.3 -2.7 -1.9 1.8z"/>
<path class="n c3" d="M537.8 477.8l2.8 -2.6 -4.7 -3.3 -3.4 3.2z"/>
<path class="o" d="M535.2 480.1l5.4 -4.9 -4.7 -3.3 -5.3 5z"/>
<path class="k" d="M454.4 479.3l5.8 1.3 -4.2 -0.5 -5.8 -1.1z"/>
<path class="k" d="M444.4 477l5.8 2 -4.1 -0.2 -5.8 -1.8z"/>
<path class="n c2" d="M466 481.5l4.1 0.5 -4.3 -0.9 -5.6 -0.5 1.8 0.3z"/>
<path class="n c3" d="M464.4 481.3l1.6 0.2 -4 -0.6z"/>
<path class="o" d="M464.4 481.3l5.7 0.7 -4.3 -0.9 -5.6 -0.5z"/>
<path class="n c3" d="M550.6 473.3l1.1 -1.3 -5.5 -2.7 -0.3 0.3z"/>
<path class="n c4" d="M551.7 472l4.3 -5 -4.7 -3.9 -5.1 6.2z"/>
<path class="o" d="M550.6 473.3l5.4 -6.3 -4.7 -3.9 -5.4 6.5z"/>
<path class="m c2" d="M519.8 484.5l5.4 -3.4 -4.6 -2.8 -5.4 3.5z"/>
<path class="m c2" d="M474.4 483.1l5.6 0 -4.3 -1.3 -5.6 0.2z"/>
<path class="n c1" d="M486.4 482.5l-0.9 -0.3 -0.5 0.1z"/>
<path class="n c2" d="M484.4 484.5l5.5 -0.6 -3.5 -1.4 -1.4 -0.2 -5 0.8z"/>
<path class="o" d="M484.4 484.5l5.5 -0.6 -4.4 -1.7 -5.5 0.9z"/>
<path class="n c1" d="M497.3 483.2l-1.9 -0.8 -1.4 0.4z"/>
<path class="n c2" d="M494.4 485.7l5.5 -1.3 -2.6 -1.2 -3.3 -0.4 -4.1 1.1z"/>
<path class="o" d="M494.4 485.7l5.5 -1.3 -4.5 -2 -5.5 1.5z"/>
<path class="m c3" d="M545.2 478.8l5.4 -5.5 -4.7 -3.7 -5.3 5.6z"/>
<path class="m c2" d="M529.8 484.2l5.4 -4.1 -4.6 -3.2 -5.4 4.2z"/>
<path class="n c6" d="M571.5 456.3l1.9 -3 -5.7 -2.8 -0.9 1.4z"/>
<path class="n c7" d="M573.4 453.3l3.6 -5.7 -2.8 -2.6 -2.4 -1.2 -4.1 6.7z"/>
<path class="n c8" d="M574.2 445l-1.9 -1.9 -0.5 0.7z"/>
<path class="o" d="M571.5 456.3l5.5 -8.7 -4.7 -4.5 -5.5 8.8z"/>
<path class="n c5" d="M566.1 464.1l2.7 -4 -5.7 -2.8 -1.7 2.5z"/>
<path class="n c6" d="M568.8 460.1l2.7 -3.8 -4.7 -4.4 -3.7 5.4z"/>
<path class="o" d="M566.1 464.1l5.4 -7.8 -4.7 -4.4 -5.4 7.9z"/>
<path class="m c2" d="M504.4 486.5l5.4 -1.9 -4.5 -2.4 -5.4 2.2z"/>
<path class="n c7" d="M577 447.6l0.6 -1 -3.4 -1.6z"/>
<path class="n c8" d="M577.6 446.6l3.8 -6.5 -5.9 -2.8 -3.2 5.8 1.9 1.9z"/>
<path class="n c9" d="M581.4 440.1l1.1 -2 -4.8 -4.6 -2.2 3.8z"/>
<path class="o" d="M577 447.6l5.5 -9.5 -4.8 -4.6 -5.4 9.6z"/>
<path class="n c4" d="M560.7 471.1l3 -3.9 -5.8 -2.8 -1.9 2.6z"/>
<path class="n c5" d="M563.7 467.2l2.4 -3.1 -4.7 -4.3 -3.5 4.6z"/>
<path class="o" d="M560.7 471.1l5.4 -7 -4.7 -4.3 -5.4 7.2z"/>
<path class="m c2" d="M514.4 487.1l5.4 -2.6 -4.6 -2.7 -5.4 2.8z"/>
<path class="n c2" d="M539.8 483.5l3.5 -3 -5.5 -2.7 -2.6 2.3z"/>
<path class="n c3" d="M543.3 480.5l1.9 -1.7 -4.6 -3.6 -2.8 2.6z"/>
<path class="o" d="M539.8 483.5l5.4 -4.7 -4.6 -3.6 -5.4 4.9z"/>
<path class="n c3" d="M555.3 477.2l2.2 -2.5 -5.8 -2.7 -1.1 1.3z"/>
<path class="n c4" d="M557.5 474.7l3.2 -3.6 -4.7 -4.1 -4.3 5z"/>
<path class="o" d="M555.3 477.2l5.4 -6.1 -4.7 -4.1 -5.4 6.3z"/>
<path class="m c2" d="M524.4 487.4l5.4 -3.2 -4.6 -3.1 -5.4 3.4z"/>
<path class="m c3" d="M549.9 482.6l5.4 -5.4 -4.7 -3.9 -5.4 5.5z"/>
<path class="n c6" d="M576.3 460.8l3 -4.7 -5.9 -2.8 -1.9 3z"/>
<path class="n c7" d="M579.3 456.1l2.4 -3.7 -4.7 -4.8 -3.6 5.7z"/>
<path class="o" d="M576.3 460.8l5.4 -8.4 -4.7 -4.8 -5.5 8.7z"/>
<path class="n c2" d="M472.6 482.8l1.8 0.3 -4.3 -1.1 -4.1 -0.5z"/>
<path class="n c3" d="M468.7 482.2l3.9 0.6 -6.6 -1.3 -1.6 -0.2z"/>
<path class="o" d="M468.7 482.2l5.7 0.9 -4.3 -1.1 -5.7 -0.7z"/>
<path class="n c5" d="M570.8 468.5l4 -5.6 -6 -2.8 -2.7 4z"/>
<path class="n c6" d="M574.8 462.9l1.5 -2.1 -4.8 -4.5 -2.7 3.8z"/>
<path class="o" d="M570.8 468.5l5.5 -7.7 -4.8 -4.5 -5.4 7.8z"/>
<path class="k" d="M458.7 479.8l5.7 1.5 -4.2 -0.7 -5.8 -1.3z"/>
<path class="n c2" d="M479.1 484.4l5.3 0.1 -4.4 -1.4 -5.6 0 3.9 1.1z"/>
<path class="n c3" d="M478.8 484.3l0.3 0.1 -0.8 -0.2z"/>
<path class="o" d="M478.8 484.3l5.6 0.2 -4.4 -1.4 -5.6 0z"/>
<path class="n c7" d="M581.7 452.4l1.7 -3 -5.8 -2.8 -0.6 1z"/>
<path class="n c8" d="M583.4 449.4l3.8 -6.4 -0.2 -0.3 -5.6 -2.6 -3.8 6.5z"/>
<path class="n c9" d="M587 442.7l-4.5 -4.6 -1.1 2z"/>
<path class="o" d="M581.7 452.4l5.5 -9.4 -4.7 -4.9 -5.5 9.5z"/>
<path class="k" d="M448.6 477.2l5.8 2.1 -4.2 -0.3 -5.8 -2z"/>
<path class="m c2" d="M534.4 487.4l5.4 -3.9 -4.6 -3.4 -5.4 4.1z"/>
<path class="m c2" d="M488.8 486.2l5.6 -0.5 -4.5 -1.8 -5.5 0.6z"/>
<path class="n c4" d="M565.4 475.4l4.2 -5.4 -5.9 -2.8 -3 3.9z"/>
<path class="n c5" d="M569.6 470l1.2 -1.5 -4.7 -4.4 -2.4 3.1z"/>
<path class="o" d="M565.4 475.4l5.4 -6.9 -4.7 -4.4 -5.4 7z"/>
<path class="m c2" d="M498.9 487.7l5.5 -1.2 -4.5 -2.1 -5.5 1.3z"/>
<path class="m c2" d="M508.9 488.9l5.5 -1.8 -4.6 -2.5 -5.4 1.9z"/>
<path class="n c2" d="M544.5 487.2l4.8 -4.1 -6 -2.6 -3.5 3z"/>
<path class="n c3" d="M549.3 483.1l0.6 -0.5 -4.7 -3.8 -1.9 1.7z"/>
<path class="o" d="M544.5 487.2l5.4 -4.6 -4.7 -3.8 -5.4 4.7z"/>
<path class="n c3" d="M560 481.4l3.5 -3.9 -6 -2.8 -2.2 2.5z"/>
<path class="n c4" d="M563.5 477.5l1.9 -2.1 -4.7 -4.3 -3.2 3.6z"/>
<path class="o" d="M560 481.4l5.4 -6 -4.7 -4.3 -5.4 6.1z"/>
<path class="m c2" d="M518.9 489.9l5.5 -2.5 -4.6 -2.9 -5.4 2.6z"/>
<path class="n c6" d="M581 465.7l4.4 -6.7 -6.1 -2.9 -3 4.7z"/>
<path class="n c7" d="M585.4 459l1.1 -1.7 -4.8 -4.9 -2.4 3.7z"/>
<path class="o" d="M581 465.7l5.5 -8.4 -4.8 -4.9 -5.4 8.4z"/>
<path class="m c2" d="M529 490.6l5.4 -3.2 -4.6 -3.2 -5.4 3.2z"/>
<path class="n c7" d="M586.5 457.3l3 -4.9 -6.1 -3 -1.7 3z"/>
<path class="n c8" d="M589.5 452.4l2.5 -4.3 -4.8 -5.1 -3.8 6.4z"/>
<path class="o" d="M586.5 457.3l5.5 -9.2 -4.8 -5.1 -5.5 9.4z"/>
<path class="n c4" d="M575.6 473.2l0.2 -0.4 -1.2 -0.5z"/>
<path class="n c5" d="M575.8 472.8l5.1 -7 -6.1 -2.9 -4 5.6 3.8 3.8z"/>
<path class="n c6" d="M580.9 465.8l0.1 -0.1 -4.7 -4.9 -1.5 2.1z"/>
<path class="o" d="M575.6 473.2l5.4 -7.5 -4.7 -4.9 -5.5 7.7z"/>
<path class="n c2" d="M554.6 486.6l0.8 -0.8 -3.8 -1.8z"/>
<path class="n c3" d="M555.4 485.8l4.6 -4.4 -4.7 -4.2 -5.4 5.4 1.7 1.4z"/>
<path class="o" d="M554.6 486.6l5.4 -5.2 -4.7 -4.2 -5.4 5.4z"/>
<path class="n c4" d="M570.1 479.9l5.5 -6.7 -1 -0.9 -5 -2.3 -4.2 5.4z"/>
<path class="n c5" d="M574.6 472.3l-3.8 -3.8 -1.2 1.5z"/>
<path class="o" d="M570.1 479.9l5.5 -6.7 -4.8 -4.7 -5.4 6.9z"/>
<path class="m c2" d="M539.1 490.9l5.4 -3.7 -4.7 -3.7 -5.4 3.9z"/>
<path class="n c2" d="M485.6 486l3.2 0.2 -4.4 -1.7 -5.3 -0.1z"/>
<path class="n c3" d="M483.2 485.8l2.4 0.2 -6.5 -1.6 -0.3 -0.1z"/>
<path class="o" d="M483.2 485.8l5.6 0.4 -4.4 -1.7 -5.6 -0.2z"/>
<path class="n c3" d="M564.7 485.8l5 -5.5 -6.2 -2.8 -3.5 3.9z"/>
<path class="n c4" d="M569.7 480.3l0.4 -0.4 -4.7 -4.5 -1.9 2.1z"/>
<path class="o" d="M564.7 485.8l5.4 -5.9 -4.7 -4.5 -5.4 6z"/>
<path class="m c2" d="M493.3 488l5.6 -0.3 -4.5 -2 -5.6 0.5z"/>
<path class="n c2" d="M478.3 484.2l-3.9 -1.1 -1.8 -0.3z"/>
<path class="n c3" d="M473.1 483.4l5.7 0.9 -0.5 -0.1 -5.7 -1.4 -3.9 -0.6z"/>
<path class="o" d="M473.1 483.4l5.7 0.9 -4.4 -1.2 -5.7 -0.9z"/>
<path class="m c2" d="M503.4 489.9l5.5 -1 -4.5 -2.4 -5.5 1.2z"/>
<path class="n c2" d="M549.2 491l5.4 -4.4 -3 -2.6 -2.3 -0.9 -4.8 4.1z"/>
<path class="n c3" d="M551.6 484l-1.7 -1.4 -0.6 0.5z"/>
<path class="o" d="M549.2 491l5.4 -4.4 -4.7 -4 -5.4 4.6z"/>
<path class="k" d="M463 480.6l5.7 1.6 -4.3 -0.9 -5.7 -1.5z"/>
<path class="m c2" d="M513.5 491.5l5.4 -1.6 -4.5 -2.8 -5.5 1.8z"/>
<path class="k" d="M452.8 477.5l5.9 2.3 -4.3 -0.5 -5.8 -2.1z"/>
<path class="m c2" d="M523.6 492.9l5.4 -2.3 -4.6 -3.2 -5.5 2.5z"/>
<path class="n c2" d="M559.3 490.8l2.4 -2.2 -6.3 -2.8 -0.8 0.8z"/>
<path class="n c3" d="M561.7 488.6l3 -2.8 -4.7 -4.4 -4.6 4.4z"/>
<path class="o" d="M559.3 490.8l5.4 -5 -4.7 -4.4 -5.4 5.2z"/>
<path class="m c2" d="M533.7 493.9l5.4 -3 -4.7 -3.5 -5.4 3.2z"/>
<path class="m c2" d="M543.8 494.7l5.4 -3.7 -4.7 -3.8 -5.4 3.7z"/>
<path class="m c2" d="M553.9 495.1l5.4 -4.3 -4.7 -4.2 -5.4 4.4z"/>
<path class="m c2" d="M497.8 490.1l5.6 -0.2 -4.5 -2.2 -5.6 0.3z"/>
<path class="m c2" d="M508 492.4l5.5 -0.9 -4.6 -2.6 -5.5 1z"/>
<path class="n c2" d="M491.8 487.9l1.5 0.1 -4.5 -1.8 -3.2 -0.2z"/>
<path class="n c3" d="M487.7 487.5l4.1 0.4 -6.2 -1.9 -2.4 -0.2z"/>
<path class="o" d="M487.7 487.5l5.6 0.5 -4.5 -1.8 -5.6 -0.4z"/>
<path class="m c2" d="M518.1 494.4l5.5 -1.5 -4.7 -3 -5.4 1.6z"/>
<path class="m c3" d="M477.5 484.7l5.7 1.1 -4.4 -1.5 -5.7 -0.9z"/>
<path class="m c2" d="M528.2 496.1l5.5 -2.2 -4.7 -3.3 -5.4 2.3z"/>
<path class="k" d="M467.3 481.5l5.8 1.9 -4.4 -1.2 -5.7 -1.6z"/>
<path class="m c2" d="M538.4 497.5l5.4 -2.8 -4.7 -3.8 -5.4 3z"/>
<path class="k" d="M457.1 478.1l5.9 2.5 -4.3 -0.8 -5.9 -2.3z"/>
<path class="m c2" d="M548.5 498.6l5.4 -3.5 -4.7 -4.1 -5.4 3.7z"/>
<path class="m c2" d="M522.7 497.4l5.5 -1.3 -4.6 -3.2 -5.5 1.5z"/>
<path class="m c2" d="M512.6 495.1l5.5 -0.7 -4.6 -2.9 -5.5 0.9z"/>
<path class="m c2" d="M532.9 499.5l5.5 -2 -4.7 -3.6 -5.5 2.2z"/>
<path class="n c2" d="M503.8 492.4l4.2 0 -4.6 -2.5 -5.6 0.2 0.3 0.2z"/>
<path class="n c3" d="M502.4 492.4l1.4 0 -5.7 -2.1z"/>
<path class="o" d="M502.4 492.4l5.6 0 -4.6 -2.5 -5.6 0.2z"/>
<path class="m c2" d="M543.1 501.3l5.4 -2.7 -4.7 -3.9 -5.4 2.8z"/>
<path class="n c2" d="M497.7 490.1l0.1 0 -4.5 -2.1 -1.5 -0.1z"/>
<path class="n c3" d="M492.2 489.5l5.5 0.6 -5.9 -2.2 -4.1 -0.4z"/>
<path class="o" d="M492.2 489.5l5.6 0.6 -4.5 -2.1 -5.6 -0.5z"/>
<path class="n c3" d="M483.3 486.5l4.4 1 -4.5 -1.7 -5.7 -1.1 0.9 0.3z"/>
<path class="n c4" d="M482 486.2l1.3 0.3 -4.9 -1.5z"/>
<path class="o" d="M482 486.2l5.7 1.3 -4.5 -1.7 -5.7 -1.1z"/>
<path class="k" d="M471.7 482.7l5.8 2 -4.4 -1.3 -5.8 -1.9z"/>
<path class="k" d="M461.5 478.8l5.8 2.7 -4.3 -0.9 -5.9 -2.5z"/>
<path class="m c2" d="M537.6 503.1l5.5 -1.8 -4.7 -3.8 -5.5 2z"/>
<path class="m c2" d="M527.4 500.7l5.5 -1.2 -4.7 -3.4 -5.5 1.3z"/>
<path class="m c2" d="M517.2 497.9l5.5 -0.5 -4.6 -3 -5.5 0.7z"/>
<path class="n c2" d="M509.5 495l3.1 0.1 -4.6 -2.7 -4.2 0z"/>
<path class="n c3" d="M507 494.9l2.5 0.1 -5.7 -2.6 -1.4 0z"/>
<path class="o" d="M507 494.9l5.6 0.2 -4.6 -2.7 -5.6 0z"/>
<path class="n c2" d="M498.1 490.3l-0.3 -0.2 -0.1 0z"/>
<path class="n c3" d="M496.7 491.6l5.7 0.8 -4.3 -2.1 -0.4 -0.2 -5.5 -0.6z"/>
<path class="o" d="M496.7 491.6l5.7 0.8 -4.6 -2.3 -5.6 -0.6z"/>
<path class="n c3" d="M489.3 488.7l2.9 0.8 -4.5 -2 -4.4 -1z"/>
<path class="n c4" d="M486.5 487.9l2.8 0.8 -6 -2.2 -1.3 -0.3z"/>
<path class="o" d="M486.5 487.9l5.7 1.6 -4.5 -2 -5.7 -1.3z"/>
<path class="k" d="M476.2 484l5.8 2.2 -4.5 -1.5 -5.8 -2z"/>
<path class="k" d="M465.9 479.8l5.8 2.9 -4.4 -1.2 -5.8 -2.7z"/>
<path class="m c2" d="M532.2 504.2l5.4 -1.1 -4.7 -3.6 -5.5 1.2z"/>
<path class="m c2" d="M521.9 501l5.5 -0.3 -4.7 -3.3 -5.5 0.5z"/>
<path class="n c2" d="M514.9 497.8l2.3 0.1 -4.6 -2.8 -3.1 -0.1z"/>
<path class="n c3" d="M511.6 497.6l3.3 0.2 -5.4 -2.8 -2.5 -0.1z"/>
<path class="o" d="M511.6 497.6l5.6 0.3 -4.6 -2.8 -5.6 -0.2z"/>
<path class="m c3" d="M501.4 493.9l5.6 1 -4.6 -2.5 -5.7 -0.8z"/>
<path class="n c3" d="M495 491.1l1.7 0.5 -4.5 -2.1 -2.9 -0.8z"/>
<path class="n c4" d="M491 489.9l4 1.2 -5.7 -2.4 -2.8 -0.8z"/>
<path class="o" d="M491 489.9l5.7 1.7 -4.5 -2.1 -5.7 -1.6z"/>
<path class="k" d="M480.7 485.6l5.8 2.3 -4.5 -1.7 -5.8 -2.2z"/>
<path class="m c2" d="M526.6 504.4l5.6 -0.2 -4.8 -3.5 -5.5 0.3z"/>
<path class="k" d="M470.3 480.9l5.9 3.1 -4.5 -1.3 -5.8 -2.9z"/>
<path class="n c2" d="M520.1 500.9l1.8 0.1 -4.7 -3.1 -2.3 -0.1z"/>
<path class="n c3" d="M516.3 500.6l3.8 0.3 -5.2 -3.1 -3.3 -0.2z"/>
<path class="o" d="M516.3 500.6l5.6 0.4 -4.7 -3.1 -5.6 -0.3z"/>
<path class="n c3" d="M506.1 496.5l5.5 1.1 -4.6 -2.7 -5.6 -1 4.2 2.3z"/>
<path class="n c4" d="M506 496.5l0.1 0 -0.5 -0.3z"/>
<path class="o" d="M506 496.5l5.6 1.1 -4.6 -2.7 -5.6 -1z"/>
<path class="n c3" d="M500.6 493.7l0.8 0.2 -4.7 -2.3 -1.7 -0.5z"/>
<path class="n c4" d="M495.7 492.1l4.9 1.6 -5.6 -2.6 -4 -1.2z"/>
<path class="o" d="M495.7 492.1l5.7 1.8 -4.7 -2.3 -5.7 -1.7z"/>
<path class="k" d="M485.3 487.4l5.7 2.5 -4.5 -2 -5.8 -2.3z"/>
<path class="n c2" d="M525.1 504.2l1.5 0.2 -4.7 -3.4 -1.8 -0.1z"/>
<path class="n c3" d="M521.1 503.7l4 0.5 -5 -3.3 -3.8 -0.3z"/>
<path class="o" d="M521.1 503.7l5.5 0.7 -4.7 -3.4 -5.6 -0.4z"/>
<path class="k" d="M474.8 482.3l5.9 3.3 -4.5 -1.6 -5.9 -3.1z"/>
<path class="n c3" d="M511.5 499.5l4.8 1.1 -4.7 -3 -5.5 -1.1z"/>
<path class="n c4" d="M510.7 499.3l0.8 0.2 -5.4 -3 -0.1 0z"/>
<path class="o" d="M510.7 499.3l5.6 1.3 -4.7 -3 -5.6 -1.1z"/>
<path class="n c3" d="M505.6 496.2l-4.2 -2.3 -0.8 -0.2z"/>
<path class="n c4" d="M500.3 494.5l5.7 2 -0.4 -0.3 -5 -2.5 -4.9 -1.6z"/>
<path class="o" d="M500.3 494.5l5.7 2 -4.6 -2.6 -5.7 -1.8z"/>
<path class="k" d="M489.9 489.4l5.8 2.7 -4.7 -2.2 -5.7 -2.5z"/>
<path class="n c3" d="M516.8 502.6l4.3 1.1 -4.8 -3.1 -4.8 -1.1z"/>
<path class="n c4" d="M515.4 502.3l1.4 0.3 -5.3 -3.1 -0.8 -0.2z"/>
<path class="o" d="M515.4 502.3l5.7 1.4 -4.8 -3.1 -5.6 -1.3z"/>
<path class="k" d="M479.4 483.9l5.9 3.5 -4.6 -1.8 -5.9 -3.3z"/>
<path class="n c4" d="M505 497.1l5.7 2.2 -4.7 -2.8 -5.7 -2 4.5 2.5z"/>
<path class="n c5" d="M505 497.1l0 0 -0.2 -0.1z"/>
<path class="o" d="M505 497.1l5.7 2.2 -4.7 -2.8 -5.7 -2z"/>
<path class="n c4" d="M499.6 494.1l0.7 0.4 -4.6 -2.4 -1.6 -0.8z"/>
<path class="n c5" d="M494.5 491.6l5.1 2.5 -5.5 -2.8 -4.2 -1.9z"/>
<path class="o" d="M494.5 491.6l5.8 2.9 -4.6 -2.4 -5.8 -2.7z"/>
<path class="k" d="M484 485.7l5.9 3.7 -4.6 -2 -5.9 -3.5z"/>
<path class="n c4" d="M510.4 500.2l5 2.1 -4.7 -3 -5.7 -2.2z"/>
<path class="n c5" d="M509.8 499.9l0.6 0.3 -5.4 -3.1 0 0z"/>
<path class="o" d="M509.8 499.9l5.6 2.4 -4.7 -3 -5.7 -2.2z"/>
<path class="n c4" d="M504.8 497l-4.5 -2.5 -0.7 -0.4z"/>
<path class="n c5" d="M499.6 494.2l5.4 2.9 -0.2 -0.1 -5.2 -2.9 -5.1 -2.5 2.7 1.4z"/>
<path class="n c6" d="M499.2 494l0.4 0.2 -2.4 -1.2z"/>
<path class="o" d="M499.2 494l5.8 3.1 -4.7 -2.6 -5.8 -2.9z"/>
<path class="k" d="M488.6 487.8l5.9 3.8 -4.6 -2.2 -5.9 -3.7z"/>
<path class="n c5" d="M505.1 497.3l4.7 2.6 -4.8 -2.8 -5.4 -2.9z"/>
<path class="n c6" d="M504 496.7l1.1 0.6 -5.5 -3.1 -0.4 -0.2z"/>
<path class="o" d="M504 496.7l5.8 3.2 -4.8 -2.8 -5.8 -3.1z"/>
<path class="k" d="M493.4 490l5.8 4 -4.7 -2.4 -5.9 -3.8z"/>
<path class="k" d="M498.1 492.5l5.9 4.2 -4.8 -2.7 -5.8 -4z"/></g>
<g class="pt"><path class="st" d="M436.8 461.3l0 16.2"/><circle cx="511.4" cy="419.5" r="2.5"/><circle cx="543.5" cy="415" r="2.5"/><circle cx="436.8" cy="458.8" r="2.5"/><circle cx="474.5" cy="448.8" r="2.5"/><circle cx="466.2" cy="461.2" r="2.5"/><circle cx="475" cy="470.8" r="2.5"/><circle cx="466.2" cy="476.2" r="2.5"/><circle cx="498.6" cy="467" r="2.5"/><circle cx="505.5" cy="468.2" r="2.5"/><circle cx="542.6" cy="450.5" r="2.5"/><circle cx="576.1" cy="462" r="2.5"/><circle cx="538.4" cy="483.7" r="2.5"/><circle cx="537.7" cy="505.2" r="2.5"/></g>
<path class="ax" d="M421.3 414.5l4.8 99.8 72.4 53.9 89.8 -45.1M426.1 514.3l1.6 -0.7M426 511.9l1.6 -0.7M425.9 509.6l1.6 -0.8M425.8 507.2l1.6 -0.7M425.7 504.8l1.6 -0.7M425.5 502.4l1.7 -0.7M425.4 500l1.7 -0.7M425.3 497.7l1.7 -0.8M425.2 495.2l1.6 -0.7M425.1 492.8l1.6 -0.7M425 490.4l1.6 -0.7M424.8 488l1.7 -0.7M424.7 485.6l1.7 -0.7M424.6 483.1l1.7 -0.7M424.5 480.7l1.7 -0.7M424.4 478.2l1.6 -0.7M424.3 475.8l1.6 -0.7M424.1 473.3l1.7 -0.7M424 470.8l1.7 -0.7M423.9 468.3l1.7 -0.7M423.8 465.8l1.7 -0.6M423.7 463.3l1.6 -0.6M423.5 460.8l1.7 -0.6M423.4 458.3l1.7 -0.7M423.3 455.8l1.7 -0.7M423.2 453.3l1.7 -0.7M423 450.8l1.7 -0.7M422.9 448.2l1.7 -0.7M422.8 445.7l1.7 -0.7M422.7 443.1l1.7 -0.7M422.6 440.5l1.7 -0.6M422.4 438l1.7 -0.7M422.3 435.4l1.7 -0.7M422.2 432.8l1.7 -0.7M422.1 430.2l1.7 -0.7M421.9 427.6l1.7 -0.7M421.8 425l1.7 -0.7M421.7 422.4l1.7 -0.7M421.5 419.8l1.8 -0.7M421.4 417.1l1.7 -0.6M421.3 414.5l1.7 -0.7M425.5 502.4l3.1 -1.3M425 490.4l3 -1.3M424.4 478.2l3.1 -1.3M423.8 465.8l3.1 -1.2M423.2 453.3l3.1 -1.3M422.6 440.5l3.1 -1.2M421.9 427.6l3.2 -1.2M498.5 568.2l2.6 -1.3M498.5 568.2l-2.1 -1.6M495.3 565.8l1.4 -0.7M502.5 566.2l-1.2 -0.9M492.1 563.4l1.4 -0.7M506.4 564.2l-1.2 -0.9M488.9 561l1.4 -0.7M510.3 562.2l-1.1 -0.8M485.7 558.6l2.6 -1.2M514.2 560.3l-2.1 -1.6M482.6 556.3l1.4 -0.7M518.1 558.3l-1.2 -0.8M479.4 554l1.4 -0.7M522 556.4l-1.2 -0.8M476.3 551.6l1.4 -0.6M525.8 554.5l-1.1 -0.9M473.2 549.3l2.6 -1.2M529.6 552.5l-2.1 -1.5M470.1 547.1l1.4 -0.7M533.5 550.6l-1.2 -0.8M467.1 544.8l1.4 -0.7M537.2 548.7l-1.1 -0.8M464 542.5l1.4 -0.7M541 546.8l-1.2 -0.8M461 540.3l2.6 -1.3M544.8 545l-2.2 -1.5M458 538l1.4 -0.6M548.5 543.1l-1.2 -0.8M455 535.8l1.4 -0.6M552.2 541.2l-1.2 -0.8M452.1 533.6l1.4 -0.7M555.9 539.4l-1.2 -0.8M449.1 531.4l2.6 -1.2M559.6 537.5l-2.2 -1.4M446.2 529.2l1.4 -0.6M563.2 535.7l-1.2 -0.8M443.3 527.1l1.4 -0.7M566.9 533.9l-1.2 -0.8M440.4 524.9l1.4 -0.6M570.5 532.1l-1.2 -0.8M437.5 522.7l2.5 -1.1M574.1 530.2l-2.2 -1.4M434.6 520.6l1.4 -0.6M577.7 528.4l-1.2 -0.7M431.8 518.5l1.4 -0.6M581.2 526.7l-1.1 -0.8M428.9 516.4l1.4 -0.6M584.8 524.9l-1.2 -0.8M426.1 514.3l2.6 -1.1M588.3 523.1l-2.2 -1.4"/>
<g class="tk"><text text-anchor="middle" dy=".35em" transform="translate(411 507.2) rotate(-20)">0.5</text><text text-anchor="middle" dy=".35em" transform="translate(410.4 495.2) rotate(-20)">1.0</text><text text-anchor="middle" dy=".35em" transform="translate(409.8 483) rotate(-20)">1.5</text><text text-anchor="middle" dy=".35em" transform="translate(409.2 470.6) rotate(-20)">2.0</text><text text-anchor="middle" dy=".35em" transform="translate(408.6 458.1) rotate(-20)">2.5</text><text text-anchor="middle" dy=".35em" transform="translate(408 445.3) rotate(-20)">3.0</text><text text-anchor="middle" dy=".35em" transform="translate(407.4 432.4) rotate(-20)">3.5</text><text text-anchor="middle" dy=".35em" transform="translate(406.7 419.3) rotate(-20)">4.0</text><text text-anchor="end" transform="translate(495.5 572) rotate(-45)">−1.2</text><text text-anchor="middle" transform="translate(503 578.7) rotate(-30)">−1.2</text><text text-anchor="end" transform="translate(482.7 562.4) rotate(-45)">−0.8</text><text text-anchor="middle" transform="translate(518.7 570.8) rotate(-30)">−0.8</text><text text-anchor="end" transform="translate(470.2 553.1) rotate(-45)">−0.4</text><text text-anchor="middle" transform="translate(534.1 563) rotate(-30)">−0.4</text><text text-anchor="end" transform="translate(458 544.1) rotate(-45)">0.0</text><text text-anchor="middle" transform="translate(549.3 555.5) rotate(-30)">0.0</text><text text-anchor="end" transform="translate(446.1 535.2) rotate(-45)">0.4</text><text text-anchor="middle" transform="translate(564.1 548) rotate(-30)">0.4</text><text text-anchor="end" transform="translate(434.5 526.5) rotate(-45)">0.8</text><text text-anchor="middle" transform="translate(578.6 540.7) rotate(-30)">0.8</text><text text-anchor="end" transform="translate(423.1 518.1) rotate(-45)">1.2</text><text text-anchor="middle" transform="translate(592.8 533.6) rotate(-30)">1.2</text><text text-anchor="middle" style="font-size:7.2px" transform="translate(389.5 480) rotate(90)">Y4</text><text text-anchor="middle" transform="translate(433.5 555) rotate(52)">X2</text><text text-anchor="middle" transform="translate(552 566) rotate(-30)">X1</text></g>
</svg></div></body></html>
